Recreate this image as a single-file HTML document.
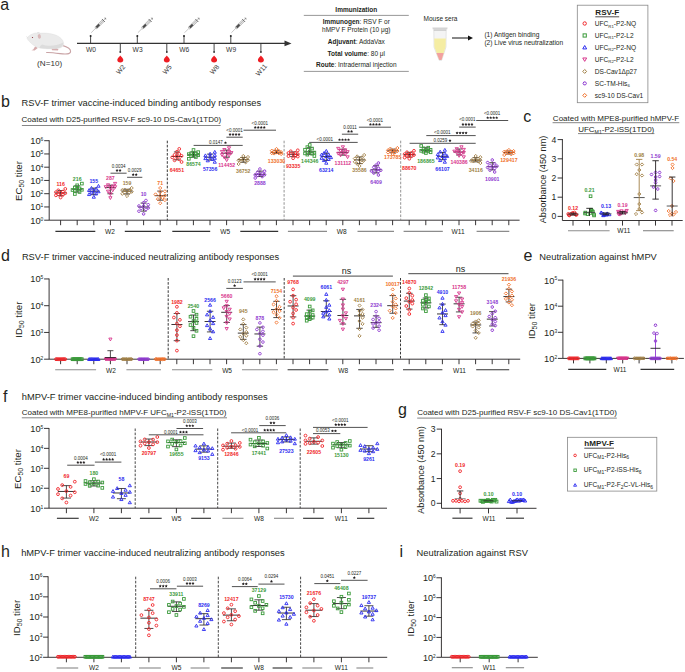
<!DOCTYPE html>
<html><head><meta charset="utf-8"><style>
html,body{margin:0;padding:0;background:#fff;}
svg{display:block;font-family:"Liberation Sans", sans-serif;}
</style></head><body>
<svg width="685" height="672" viewBox="0 0 685 672">
<rect width="685" height="672" fill="#fff"/>
<text x="0.3" y="9.5" font-size="16" fill="#231f20">a</text>
<g>
<path d="M62.3,45.4 C66.5,46.6 70.8,48.8 70.6,51.6 C70.3,54.2 65.5,54.4 60,53.6 C55,52.9 50,52.3 46.6,52.5" fill="none" stroke="#c9a3a5" stroke-width="1.1" stroke-linecap="round"/>
<path d="M35.2,46.2 L33.2,49.4 L31.4,50.2 L34.6,50.6 L37.8,48 Z" fill="#d6adae"/>
<path d="M51.5,48 L52,50.2 L57.8,50.6 L58.5,49.6 L56,47.6 Z" fill="#d6adae"/>
<path d="M27,38.3 C28.2,36.2 30,34.8 32.2,34 C34,33.1 36,32.6 38,33.3 C43,32.8 50,33 55.5,35 C60.5,36.8 64,40.5 63.6,44.4 C63.2,47 60,48.4 56,48.6 C50,49.1 44,48.8 39.5,48 C35.5,47 32,44.5 29.6,41.7 C28.5,40.6 27.5,39.6 27,38.3 Z" fill="#ebebeb" stroke="#d8d8d8" stroke-width="0.35"/>
<path d="M42,44.5 C48,46.6 56,46.2 63.2,42.6 C63.8,46 60.5,48.4 56,48.6 C50,49.1 44,48.8 39.5,48 C39.8,46.4 40.5,45.3 42,44.5 Z" fill="#dcdcdc"/>
<path d="M36.6,33.2 C37,31.8 38.6,31.6 39.6,32.4 L40.8,34.2 Z" fill="#e4e4e4"/>
<ellipse cx="39.3" cy="36.4" rx="1.55" ry="2.3" fill="#d9b9ba" transform="rotate(-12 39.3 36.4)"/>
<circle cx="32.5" cy="37.5" r="0.6" fill="#8b2a35"/>
<line x1="26" y1="36.4" x2="28.2" y2="37.8" stroke="#c8c8c8" stroke-width="0.3"/>
</g>
<text x="49.6" y="65.9" font-size="8.1" text-anchor="middle" fill="#333">(N=10)</text>
<line x1="77" y1="43.4" x2="286" y2="43.4" stroke="#333" stroke-width="1.4"/>
<polygon points="284.5,40.6 291.5,43.4 284.5,46.2" fill="#333"/>
<line x1="90.6" y1="43.4" x2="90.6" y2="36.2" stroke="#333" stroke-width="0.9"/>
<circle cx="90.6" cy="35.9" r="1.0" fill="#222"/>
<text x="90.9" y="52.2" font-size="6.7" text-anchor="middle" fill="#333">W0</text>
<g transform="translate(91.19999999999999,32.7) rotate(-45)">
<line x1="0" y1="0" x2="6" y2="0" stroke="#8a8a8a" stroke-width="0.45"/>
<path d="M6,-0.6 L7.5,-1.25 L17.2,-1.25 L17.2,1.25 L7.5,1.25 L6,0.6 Z" fill="#ededed" stroke="#6a6a6a" stroke-width="0.4"/>
<rect x="7.3" y="-1.05" width="4.2" height="2.1" fill="#4a4a4a"/>
<line x1="11.5" y1="0" x2="20" y2="0" stroke="#9a9a9a" stroke-width="0.6"/>
<line x1="17.3" y1="-2.1" x2="17.3" y2="2.1" stroke="#555" stroke-width="0.7"/>
<path d="M19.6,-1.6 L21,0 L19.6,1.6 Z" fill="#888"/>
</g>
<line x1="137.3" y1="43.4" x2="137.3" y2="36.2" stroke="#333" stroke-width="0.9"/>
<circle cx="137.3" cy="35.9" r="1.0" fill="#222"/>
<text x="137.6" y="52.2" font-size="6.7" text-anchor="middle" fill="#333">W3</text>
<g transform="translate(137.9,32.7) rotate(-45)">
<line x1="0" y1="0" x2="6" y2="0" stroke="#8a8a8a" stroke-width="0.45"/>
<path d="M6,-0.6 L7.5,-1.25 L17.2,-1.25 L17.2,1.25 L7.5,1.25 L6,0.6 Z" fill="#ededed" stroke="#6a6a6a" stroke-width="0.4"/>
<rect x="7.3" y="-1.05" width="4.2" height="2.1" fill="#4a4a4a"/>
<line x1="11.5" y1="0" x2="20" y2="0" stroke="#9a9a9a" stroke-width="0.6"/>
<line x1="17.3" y1="-2.1" x2="17.3" y2="2.1" stroke="#555" stroke-width="0.7"/>
<path d="M19.6,-1.6 L21,0 L19.6,1.6 Z" fill="#888"/>
</g>
<line x1="184" y1="43.4" x2="184" y2="36.2" stroke="#333" stroke-width="0.9"/>
<circle cx="184.0" cy="35.9" r="1.0" fill="#222"/>
<text x="184.3" y="52.2" font-size="6.7" text-anchor="middle" fill="#333">W6</text>
<g transform="translate(184.6,32.7) rotate(-45)">
<line x1="0" y1="0" x2="6" y2="0" stroke="#8a8a8a" stroke-width="0.45"/>
<path d="M6,-0.6 L7.5,-1.25 L17.2,-1.25 L17.2,1.25 L7.5,1.25 L6,0.6 Z" fill="#ededed" stroke="#6a6a6a" stroke-width="0.4"/>
<rect x="7.3" y="-1.05" width="4.2" height="2.1" fill="#4a4a4a"/>
<line x1="11.5" y1="0" x2="20" y2="0" stroke="#9a9a9a" stroke-width="0.6"/>
<line x1="17.3" y1="-2.1" x2="17.3" y2="2.1" stroke="#555" stroke-width="0.7"/>
<path d="M19.6,-1.6 L21,0 L19.6,1.6 Z" fill="#888"/>
</g>
<line x1="230.8" y1="43.4" x2="230.8" y2="36.2" stroke="#333" stroke-width="0.9"/>
<circle cx="230.8" cy="35.9" r="1.0" fill="#222"/>
<text x="231.1" y="52.2" font-size="6.7" text-anchor="middle" fill="#333">W9</text>
<g transform="translate(231.4,32.7) rotate(-45)">
<line x1="0" y1="0" x2="6" y2="0" stroke="#8a8a8a" stroke-width="0.45"/>
<path d="M6,-0.6 L7.5,-1.25 L17.2,-1.25 L17.2,1.25 L7.5,1.25 L6,0.6 Z" fill="#ededed" stroke="#6a6a6a" stroke-width="0.4"/>
<rect x="7.3" y="-1.05" width="4.2" height="2.1" fill="#4a4a4a"/>
<line x1="11.5" y1="0" x2="20" y2="0" stroke="#9a9a9a" stroke-width="0.6"/>
<line x1="17.3" y1="-2.1" x2="17.3" y2="2.1" stroke="#555" stroke-width="0.7"/>
<path d="M19.6,-1.6 L21,0 L19.6,1.6 Z" fill="#888"/>
</g>
<line x1="120.3" y1="43.4" x2="120.3" y2="51.6" stroke="#333" stroke-width="0.9"/>
<rect x="119.5" y="51.2" width="1.6" height="1.6" fill="#222"/>
<path d="M120.3,55.4 C121.1,56.8 123.3,58 123.3,59.8 A3,2.7 0 0 1 117.3,59.8 C117.3,58 119.5,56.8 120.3,55.4 Z" fill="#ee1d23"/>
<text x="0" y="0" font-size="6.7" text-anchor="middle" fill="#333" transform="translate(120.6,69.3) rotate(-50)" dominant-baseline="central">W2</text>
<line x1="166.8" y1="43.4" x2="166.8" y2="51.6" stroke="#333" stroke-width="0.9"/>
<rect x="166.0" y="51.2" width="1.6" height="1.6" fill="#222"/>
<path d="M166.8,55.4 C167.60000000000002,56.8 169.8,58 169.8,59.8 A3,2.7 0 0 1 163.8,59.8 C163.8,58 166.0,56.8 166.8,55.4 Z" fill="#ee1d23"/>
<text x="0" y="0" font-size="6.7" text-anchor="middle" fill="#333" transform="translate(167.10000000000002,69.3) rotate(-50)" dominant-baseline="central">W5</text>
<line x1="214.1" y1="43.4" x2="214.1" y2="51.6" stroke="#333" stroke-width="0.9"/>
<rect x="213.29999999999998" y="51.2" width="1.6" height="1.6" fill="#222"/>
<path d="M214.1,55.4 C214.9,56.8 217.1,58 217.1,59.8 A3,2.7 0 0 1 211.1,59.8 C211.1,58 213.29999999999998,56.8 214.1,55.4 Z" fill="#ee1d23"/>
<text x="0" y="0" font-size="6.7" text-anchor="middle" fill="#333" transform="translate(214.4,69.3) rotate(-50)" dominant-baseline="central">W8</text>
<line x1="260.9" y1="43.4" x2="260.9" y2="51.6" stroke="#333" stroke-width="0.9"/>
<rect x="260.09999999999997" y="51.2" width="1.6" height="1.6" fill="#222"/>
<path d="M260.9,55.4 C261.7,56.8 263.9,58 263.9,59.8 A3,2.7 0 0 1 257.9,59.8 C257.9,58 260.09999999999997,56.8 260.9,55.4 Z" fill="#ee1d23"/>
<text x="0" y="0" font-size="6.7" text-anchor="middle" fill="#333" transform="translate(261.2,69.8) rotate(-50)" dominant-baseline="central">W11</text>
<line x1="303.8" y1="15.4" x2="408.8" y2="15.4" stroke="#8c8c8c" stroke-width="0.9"/>
<line x1="303.8" y1="71.4" x2="408.8" y2="71.4" stroke="#8c8c8c" stroke-width="0.9"/>
<text x="356.3" y="12.4" font-size="6.5" text-anchor="middle" font-weight="bold" fill="#231f20">Immunization</text>
<text x="356.3" y="24.2" font-size="6.5" text-anchor="middle" fill="#231f20"><tspan font-weight="bold">Immunogen</tspan>: RSV F or</text>
<text x="356.3" y="32.4" font-size="6.5" text-anchor="middle" fill="#231f20">hMPV F Protein (10 μg)</text>
<text x="356.3" y="43.8" font-size="6.5" text-anchor="middle" fill="#231f20"><tspan font-weight="bold">Adjuvant</tspan>: AddaVax</text>
<text x="356.3" y="55.6" font-size="6.5" text-anchor="middle" fill="#231f20"><tspan font-weight="bold">Total volume</tspan>: 80 μl</text>
<text x="356.3" y="67.4" font-size="6.5" text-anchor="middle" fill="#231f20"><tspan font-weight="bold">Route</tspan>: Intradermal injection</text>
<text x="440.5" y="20.5" font-size="6.5" text-anchor="middle" fill="#231f20">Mouse sera</text>
<g>
<path d="M433.8,30 L446.2,30 L446,47 L441.7,60.3 L439.1,60.3 L434,47 Z" fill="#f4f4f4" stroke="#cfcfcf" stroke-width="0.5"/>
<path d="M434.2,38.4 L445.8,38.4 L445.6,47 L441.5,59.8 L439.3,59.8 L434.4,47 Z" fill="#f5eda3"/>
<path d="M436.5,53 L443.7,53 L441.5,59.9 L439.3,59.9 Z" fill="#f2a1a0"/>
<path d="M432.4,27.4 L447.6,27.4 L447.2,29.6 L432.8,29.6 Z" fill="#d4d4d4"/>
<rect x="433.8" y="29.6" width="12.4" height="1.0" fill="#c2c2c2"/>
</g>
<line x1="452" y1="38" x2="469" y2="38" stroke="#111" stroke-width="1.0"/>
<polygon points="468,35.6 473,38 468,40.4" fill="#111"/>
<text x="484.4" y="37.1" font-size="6.6" fill="#231f20">(1) Antigen binding</text>
<text x="484.4" y="45.2" font-size="6.6" fill="#231f20">(2) Live virus neutralization</text>
<rect x="577.3" y="5.2" width="70.6" height="97.5" fill="none" stroke="#888" stroke-width="0.8"/>
<text x="595.3" y="15" font-size="8.1" font-weight="bold" fill="#231f20">RSV-F</text>
<line x1="595.3" y1="16.8" x2="619.2" y2="16.8" stroke="#231f20" stroke-width="0.8"/>
<circle cx="584.7" cy="23.5" r="1.7" fill="none" stroke="#f0262a" stroke-width="1.0"/>
<text x="594.8" y="25.7" font-size="6.6" fill="#231f20">UFC<tspan font-size="4.3" dy="1.8">R1</tspan><tspan dy="-1.8">-P2-NQ</tspan></text>
<rect x="583.09" y="33.86" width="3.23" height="3.23" fill="none" stroke="#3a9a3a" stroke-width="1.0"/>
<text x="594.8" y="37.68" font-size="6.6" fill="#231f20">UFC<tspan font-size="4.3" dy="1.8">R1</tspan><tspan dy="-1.8">-P2-L2</tspan></text>
<polygon points="584.7,45.5 586.66,48.93 582.75,48.93" fill="none" stroke="#2b2bf0" stroke-width="1.0"/>
<text x="594.8" y="49.66" font-size="6.6" fill="#231f20">UFC<tspan font-size="4.3" dy="1.8">R2</tspan><tspan dy="-1.8">-P2-NQ</tspan></text>
<polygon points="584.7,61.39 586.66,57.97 582.75,57.97" fill="none" stroke="#d8358c" stroke-width="1.0"/>
<text x="594.8" y="61.64" font-size="6.6" fill="#231f20">UFC<tspan font-size="4.3" dy="1.8">R2</tspan><tspan dy="-1.8">-P2-L2</tspan></text>
<polygon points="584.7,69.47 586.66,71.42 584.7,73.38 582.75,71.42" fill="none" stroke="#a07f45" stroke-width="1.0"/>
<text x="594.8" y="73.62" font-size="6.6" fill="#231f20">DS-Cav1Δp27</text>
<polygon points="586.4,83.4 585.55,84.87 583.85,84.87 583,83.4 583.85,81.93 585.55,81.93" fill="none" stroke="#8e3ad0" stroke-width="1.0"/>
<text x="594.8" y="85.6" font-size="6.6" fill="#231f20">SC-TM-His<tspan font-size="4.3" dy="1.8">6</tspan></text>
<polygon points="584.7,93.42 586.66,95.38 584.7,97.33 582.75,95.38" fill="none" stroke="#f0702a" stroke-width="1.0"/>
<text x="594.8" y="97.58" font-size="6.6" fill="#231f20">sc9-10 DS-Cav1</text>
<text x="0.9" y="106.7" font-size="16" fill="#231f20">b</text>
<text x="21.5" y="105.6" font-size="9.32" fill="#231f20">RSV-F trimer vaccine-induced binding antibody responses</text>
<text x="21.5" y="122.4" font-size="8.0" fill="#231f20">Coated with D25-purified RSV-F sc9-10 DS-Cav1(1TD0)</text>
<line x1="21.9" y1="125.5" x2="220.6" y2="125.5" stroke="#666" stroke-width="0.8"/>
<line x1="49.2" y1="140.3" x2="49.2" y2="220.2" stroke="#231f20" stroke-width="0.9"/>
<line x1="49.2" y1="220.2" x2="519.6" y2="220.2" stroke="#231f20" stroke-width="0.9"/>
<line x1="44.2" y1="220.2" x2="49.2" y2="220.2" stroke="#231f20" stroke-width="0.9"/>
<line x1="44.2" y1="206.95" x2="49.2" y2="206.95" stroke="#231f20" stroke-width="0.9"/>
<line x1="44.2" y1="193.7" x2="49.2" y2="193.7" stroke="#231f20" stroke-width="0.9"/>
<line x1="44.2" y1="180.45" x2="49.2" y2="180.45" stroke="#231f20" stroke-width="0.9"/>
<line x1="44.2" y1="167.2" x2="49.2" y2="167.2" stroke="#231f20" stroke-width="0.9"/>
<line x1="44.2" y1="153.95" x2="49.2" y2="153.95" stroke="#231f20" stroke-width="0.9"/>
<line x1="44.2" y1="140.7" x2="49.2" y2="140.7" stroke="#231f20" stroke-width="0.9"/>
<line x1="60.6" y1="220.2" x2="60.6" y2="225.2" stroke="#231f20" stroke-width="0.9"/>
<line x1="77.2" y1="220.2" x2="77.2" y2="225.2" stroke="#231f20" stroke-width="0.9"/>
<line x1="93.8" y1="220.2" x2="93.8" y2="225.2" stroke="#231f20" stroke-width="0.9"/>
<line x1="110.4" y1="220.2" x2="110.4" y2="225.2" stroke="#231f20" stroke-width="0.9"/>
<line x1="127" y1="220.2" x2="127" y2="225.2" stroke="#231f20" stroke-width="0.9"/>
<line x1="143.6" y1="220.2" x2="143.6" y2="225.2" stroke="#231f20" stroke-width="0.9"/>
<line x1="160.2" y1="220.2" x2="160.2" y2="225.2" stroke="#231f20" stroke-width="0.9"/>
<line x1="176.8" y1="220.2" x2="176.8" y2="225.2" stroke="#231f20" stroke-width="0.9"/>
<line x1="193.4" y1="220.2" x2="193.4" y2="225.2" stroke="#231f20" stroke-width="0.9"/>
<line x1="210" y1="220.2" x2="210" y2="225.2" stroke="#231f20" stroke-width="0.9"/>
<line x1="226.6" y1="220.2" x2="226.6" y2="225.2" stroke="#231f20" stroke-width="0.9"/>
<line x1="243.2" y1="220.2" x2="243.2" y2="225.2" stroke="#231f20" stroke-width="0.9"/>
<line x1="259.8" y1="220.2" x2="259.8" y2="225.2" stroke="#231f20" stroke-width="0.9"/>
<line x1="276.4" y1="220.2" x2="276.4" y2="225.2" stroke="#231f20" stroke-width="0.9"/>
<line x1="293" y1="220.2" x2="293" y2="225.2" stroke="#231f20" stroke-width="0.9"/>
<line x1="309.6" y1="220.2" x2="309.6" y2="225.2" stroke="#231f20" stroke-width="0.9"/>
<line x1="326.2" y1="220.2" x2="326.2" y2="225.2" stroke="#231f20" stroke-width="0.9"/>
<line x1="342.8" y1="220.2" x2="342.8" y2="225.2" stroke="#231f20" stroke-width="0.9"/>
<line x1="359.4" y1="220.2" x2="359.4" y2="225.2" stroke="#231f20" stroke-width="0.9"/>
<line x1="376" y1="220.2" x2="376" y2="225.2" stroke="#231f20" stroke-width="0.9"/>
<line x1="392.6" y1="220.2" x2="392.6" y2="225.2" stroke="#231f20" stroke-width="0.9"/>
<line x1="409.2" y1="220.2" x2="409.2" y2="225.2" stroke="#231f20" stroke-width="0.9"/>
<line x1="425.8" y1="220.2" x2="425.8" y2="225.2" stroke="#231f20" stroke-width="0.9"/>
<line x1="442.4" y1="220.2" x2="442.4" y2="225.2" stroke="#231f20" stroke-width="0.9"/>
<line x1="459" y1="220.2" x2="459" y2="225.2" stroke="#231f20" stroke-width="0.9"/>
<line x1="475.6" y1="220.2" x2="475.6" y2="225.2" stroke="#231f20" stroke-width="0.9"/>
<line x1="492.2" y1="220.2" x2="492.2" y2="225.2" stroke="#231f20" stroke-width="0.9"/>
<line x1="508.8" y1="220.2" x2="508.8" y2="225.2" stroke="#231f20" stroke-width="0.9"/>
<text x="43.3" y="223.6" font-size="9.3" text-anchor="end" fill="#231f20">10<tspan dy="-3.07" font-size="4.93">0</tspan></text>
<text x="43.3" y="210.35" font-size="9.3" text-anchor="end" fill="#231f20">10<tspan dy="-3.07" font-size="4.93">1</tspan></text>
<text x="43.3" y="197.1" font-size="9.3" text-anchor="end" fill="#231f20">10<tspan dy="-3.07" font-size="4.93">2</tspan></text>
<text x="43.3" y="183.85" font-size="9.3" text-anchor="end" fill="#231f20">10<tspan dy="-3.07" font-size="4.93">3</tspan></text>
<text x="43.3" y="170.6" font-size="9.3" text-anchor="end" fill="#231f20">10<tspan dy="-3.07" font-size="4.93">4</tspan></text>
<text x="43.3" y="157.35" font-size="9.3" text-anchor="end" fill="#231f20">10<tspan dy="-3.07" font-size="4.93">5</tspan></text>
<text x="43.3" y="144.1" font-size="9.3" text-anchor="end" fill="#231f20">10<tspan dy="-3.07" font-size="4.93">6</tspan></text>
<text x="0" y="0" font-size="9.65" text-anchor="middle" fill="#231f20" transform="translate(21.6,181) rotate(-90)">EC<tspan font-size="6.95" dy="1.93">50</tspan><tspan dy="-1.93"> titer</tspan></text>
<line x1="167.3" y1="140.7" x2="167.3" y2="220.2" stroke="#222" stroke-width="0.9" stroke-dasharray="2.6,1.5"/>
<line x1="284.1" y1="140.7" x2="284.1" y2="220.2" stroke="#888" stroke-width="0.9" stroke-dasharray="2.6,1.5"/>
<line x1="400.7" y1="140.7" x2="400.7" y2="220.2" stroke="#888" stroke-width="0.9" stroke-dasharray="2.6,1.5"/>
<line x1="55.4" y1="231.4" x2="95.3" y2="231.4" stroke="#333" stroke-width="1.15"/>
<line x1="124.8" y1="231.4" x2="161" y2="231.4" stroke="#333" stroke-width="1.15"/>
<text x="109.9" y="233.8" font-size="6.6" text-anchor="middle" fill="#231f20">W2</text>
<line x1="172.3" y1="231.4" x2="210.2" y2="231.4" stroke="#333" stroke-width="1.15"/>
<line x1="240.3" y1="231.4" x2="278.2" y2="231.4" stroke="#333" stroke-width="1.15"/>
<text x="225.3" y="233.8" font-size="6.6" text-anchor="middle" fill="#231f20">W5</text>
<line x1="287.9" y1="231.4" x2="327" y2="231.4" stroke="#8c8c8c" stroke-width="1.15"/>
<line x1="357.5" y1="231.4" x2="394" y2="231.4" stroke="#8c8c8c" stroke-width="1.15"/>
<text x="341.7" y="233.8" font-size="6.6" text-anchor="middle" fill="#231f20">W8</text>
<line x1="403.6" y1="231.4" x2="442.8" y2="231.4" stroke="#8c8c8c" stroke-width="1.15"/>
<line x1="476.6" y1="231.4" x2="509.3" y2="231.4" stroke="#8c8c8c" stroke-width="1.15"/>
<text x="458.1" y="233.8" font-size="6.6" text-anchor="middle" fill="#231f20">W11</text>
<line x1="55.1" y1="192.9" x2="66.1" y2="192.9" stroke="#231f20" stroke-width="0.9"/>
<line x1="60.6" y1="190.5" x2="60.6" y2="195.66" stroke="#231f20" stroke-width="0.8"/>
<line x1="57.6" y1="190.5" x2="63.6" y2="190.5" stroke="#231f20" stroke-width="0.8"/>
<line x1="57.6" y1="195.66" x2="63.6" y2="195.66" stroke="#231f20" stroke-width="0.8"/>
<circle cx="60.6" cy="192.86" r="1.4" fill="none" stroke="#f0262a" stroke-width="0.9"/>
<circle cx="65.28" cy="193.18" r="1.4" fill="none" stroke="#f0262a" stroke-width="0.9"/>
<circle cx="55.92" cy="192.2" r="1.4" fill="none" stroke="#f0262a" stroke-width="0.9"/>
<circle cx="62.94" cy="191.59" r="1.4" fill="none" stroke="#f0262a" stroke-width="0.9"/>
<circle cx="58.26" cy="194.35" r="1.4" fill="none" stroke="#f0262a" stroke-width="0.9"/>
<circle cx="62.94" cy="194.82" r="1.4" fill="none" stroke="#f0262a" stroke-width="0.9"/>
<circle cx="55.92" cy="195.31" r="1.4" fill="none" stroke="#f0262a" stroke-width="0.9"/>
<circle cx="58.26" cy="190.31" r="1.4" fill="none" stroke="#f0262a" stroke-width="0.9"/>
<circle cx="65.28" cy="188.9" r="1.4" fill="none" stroke="#f0262a" stroke-width="0.9"/>
<circle cx="60.6" cy="197.5" r="1.4" fill="none" stroke="#f0262a" stroke-width="0.9"/>
<text x="60.6" y="186.3" font-size="5.2" text-anchor="middle" font-weight="bold" fill="#f0262a">116</text>
<line x1="71.7" y1="189.2" x2="82.7" y2="189.2" stroke="#231f20" stroke-width="0.9"/>
<line x1="77.2" y1="185.84" x2="77.2" y2="192.08" stroke="#231f20" stroke-width="0.8"/>
<line x1="74.2" y1="185.84" x2="80.2" y2="185.84" stroke="#231f20" stroke-width="0.8"/>
<line x1="74.2" y1="192.08" x2="80.2" y2="192.08" stroke="#231f20" stroke-width="0.8"/>
<rect x="75.87" y="187.39" width="2.66" height="2.66" fill="none" stroke="#3a9a3a" stroke-width="0.9"/>
<rect x="80.55" y="188.45" width="2.66" height="2.66" fill="none" stroke="#3a9a3a" stroke-width="0.9"/>
<rect x="71.19" y="188.67" width="2.66" height="2.66" fill="none" stroke="#3a9a3a" stroke-width="0.9"/>
<rect x="78.21" y="187.05" width="2.66" height="2.66" fill="none" stroke="#3a9a3a" stroke-width="0.9"/>
<rect x="73.53" y="189.5" width="2.66" height="2.66" fill="none" stroke="#3a9a3a" stroke-width="0.9"/>
<rect x="73.53" y="186.14" width="2.66" height="2.66" fill="none" stroke="#3a9a3a" stroke-width="0.9"/>
<rect x="78.21" y="190.66" width="2.66" height="2.66" fill="none" stroke="#3a9a3a" stroke-width="0.9"/>
<rect x="75.87" y="183.95" width="2.66" height="2.66" fill="none" stroke="#3a9a3a" stroke-width="0.9"/>
<rect x="73.53" y="192.67" width="2.66" height="2.66" fill="none" stroke="#3a9a3a" stroke-width="0.9"/>
<rect x="80.55" y="182.27" width="2.66" height="2.66" fill="none" stroke="#3a9a3a" stroke-width="0.9"/>
<text x="77.2" y="181.2" font-size="5.2" text-anchor="middle" font-weight="bold" fill="#3a9a3a">216</text>
<line x1="88.3" y1="191.2" x2="99.3" y2="191.2" stroke="#231f20" stroke-width="0.9"/>
<line x1="93.8" y1="188.08" x2="93.8" y2="194.68" stroke="#231f20" stroke-width="0.8"/>
<line x1="90.8" y1="188.08" x2="96.8" y2="188.08" stroke="#231f20" stroke-width="0.8"/>
<line x1="90.8" y1="194.68" x2="96.8" y2="194.68" stroke="#231f20" stroke-width="0.8"/>
<polygon points="93.8,189.31 95.41,192.12 92.19,192.12" fill="none" stroke="#2b2bf0" stroke-width="0.9"/>
<polygon points="98.48,189.91 100.09,192.73 96.87,192.73" fill="none" stroke="#2b2bf0" stroke-width="0.9"/>
<polygon points="89.12,188.61 90.73,191.43 87.51,191.43" fill="none" stroke="#2b2bf0" stroke-width="0.9"/>
<polygon points="91.46,191.11 93.07,193.93 89.85,193.93" fill="none" stroke="#2b2bf0" stroke-width="0.9"/>
<polygon points="96.14,192.04 97.75,194.86 94.53,194.86" fill="none" stroke="#2b2bf0" stroke-width="0.9"/>
<polygon points="96.14,187.07 97.75,189.89 94.53,189.89" fill="none" stroke="#2b2bf0" stroke-width="0.9"/>
<polygon points="89.12,192.72 90.73,195.54 87.51,195.54" fill="none" stroke="#2b2bf0" stroke-width="0.9"/>
<polygon points="91.46,186.43 93.07,189.25 89.85,189.25" fill="none" stroke="#2b2bf0" stroke-width="0.9"/>
<polygon points="98.48,184.39 100.09,187.21 96.87,187.21" fill="none" stroke="#2b2bf0" stroke-width="0.9"/>
<polygon points="93.8,195.39 95.41,198.21 92.19,198.21" fill="none" stroke="#2b2bf0" stroke-width="0.9"/>
<text x="93.8" y="182.7" font-size="5.2" text-anchor="middle" font-weight="bold" fill="#2b2bf0">155</text>
<line x1="104.9" y1="187.6" x2="115.9" y2="187.6" stroke="#231f20" stroke-width="0.9"/>
<line x1="110.4" y1="185.2" x2="110.4" y2="193.78" stroke="#231f20" stroke-width="0.8"/>
<line x1="107.4" y1="185.2" x2="113.4" y2="185.2" stroke="#231f20" stroke-width="0.8"/>
<line x1="107.4" y1="193.78" x2="113.4" y2="193.78" stroke="#231f20" stroke-width="0.8"/>
<polygon points="110.4,189.52 112.01,186.7 108.79,186.7" fill="none" stroke="#d8358c" stroke-width="0.9"/>
<polygon points="115.08,188.55 116.69,185.73 113.47,185.73" fill="none" stroke="#d8358c" stroke-width="0.9"/>
<polygon points="105.72,188.54 107.33,185.72 104.11,185.72" fill="none" stroke="#d8358c" stroke-width="0.9"/>
<polygon points="112.74,187.84 114.35,185.02 111.13,185.02" fill="none" stroke="#d8358c" stroke-width="0.9"/>
<polygon points="112.74,191.78 114.35,188.97 111.13,188.97" fill="none" stroke="#d8358c" stroke-width="0.9"/>
<polygon points="108.06,186.62 109.67,183.8 106.45,183.8" fill="none" stroke="#d8358c" stroke-width="0.9"/>
<polygon points="108.06,192.96 109.67,190.15 106.45,190.15" fill="none" stroke="#d8358c" stroke-width="0.9"/>
<polygon points="115.08,185.21 116.69,182.39 113.47,182.39" fill="none" stroke="#d8358c" stroke-width="0.9"/>
<polygon points="110.4,195.6 112.01,192.78 108.79,192.78" fill="none" stroke="#d8358c" stroke-width="0.9"/>
<polygon points="110.4,199.51 112.01,196.69 108.79,196.69" fill="none" stroke="#d8358c" stroke-width="0.9"/>
<text x="110.4" y="180" font-size="5.2" text-anchor="middle" font-weight="bold" fill="#d8358c">287</text>
<line x1="121.5" y1="191.1" x2="132.5" y2="191.1" stroke="#231f20" stroke-width="0.9"/>
<line x1="127" y1="189.24" x2="127" y2="194.04" stroke="#231f20" stroke-width="0.8"/>
<line x1="124" y1="189.24" x2="130" y2="189.24" stroke="#231f20" stroke-width="0.8"/>
<line x1="124" y1="194.04" x2="130" y2="194.04" stroke="#231f20" stroke-width="0.8"/>
<polygon points="127,189.04 128.61,190.65 127,192.26 125.39,190.65" fill="none" stroke="#a07f45" stroke-width="0.9"/>
<polygon points="131.68,190.13 133.29,191.74 131.68,193.35 130.07,191.74" fill="none" stroke="#a07f45" stroke-width="0.9"/>
<polygon points="122.32,188.5 123.93,190.11 122.32,191.72 120.71,190.11" fill="none" stroke="#a07f45" stroke-width="0.9"/>
<polygon points="129.34,188.43 130.95,190.04 129.34,191.65 127.73,190.04" fill="none" stroke="#a07f45" stroke-width="0.9"/>
<polygon points="124.66,190.91 126.27,192.52 124.66,194.13 123.05,192.52" fill="none" stroke="#a07f45" stroke-width="0.9"/>
<polygon points="124.66,187.97 126.27,189.58 124.66,191.19 123.05,189.58" fill="none" stroke="#a07f45" stroke-width="0.9"/>
<polygon points="129.34,191.02 130.95,192.63 129.34,194.24 127.73,192.63" fill="none" stroke="#a07f45" stroke-width="0.9"/>
<polygon points="122.32,192.2 123.93,193.81 122.32,195.42 120.71,193.81" fill="none" stroke="#a07f45" stroke-width="0.9"/>
<polygon points="131.68,186.39 133.29,188 131.68,189.61 130.07,188" fill="none" stroke="#a07f45" stroke-width="0.9"/>
<polygon points="127,194.39 128.61,196 127,197.61 125.39,196" fill="none" stroke="#a07f45" stroke-width="0.9"/>
<text x="127" y="184.5" font-size="5.2" text-anchor="middle" font-weight="bold" fill="#a07f45">159</text>
<line x1="138.1" y1="207" x2="149.1" y2="207" stroke="#231f20" stroke-width="0.9"/>
<line x1="143.6" y1="203.1" x2="143.6" y2="211.14" stroke="#231f20" stroke-width="0.8"/>
<line x1="140.6" y1="203.1" x2="146.6" y2="203.1" stroke="#231f20" stroke-width="0.8"/>
<line x1="140.6" y1="211.14" x2="146.6" y2="211.14" stroke="#231f20" stroke-width="0.8"/>
<polygon points="145,206.26 144.3,207.47 142.9,207.47 142.2,206.26 142.9,205.05 144.3,205.05" fill="none" stroke="#8e3ad0" stroke-width="0.9"/>
<polygon points="149.68,207.87 148.98,209.08 147.58,209.08 146.88,207.87 147.58,206.66 148.98,206.66" fill="none" stroke="#8e3ad0" stroke-width="0.9"/>
<polygon points="140.32,206 139.62,207.21 138.22,207.21 137.52,206 138.22,204.78 139.62,204.78" fill="none" stroke="#8e3ad0" stroke-width="0.9"/>
<polygon points="142.66,208.44 141.96,209.65 140.56,209.65 139.86,208.44 140.56,207.23 141.96,207.23" fill="none" stroke="#8e3ad0" stroke-width="0.9"/>
<polygon points="149.68,204.69 148.98,205.91 147.58,205.91 146.88,204.69 147.58,203.48 148.98,203.48" fill="none" stroke="#8e3ad0" stroke-width="0.9"/>
<polygon points="147.34,209.42 146.64,210.63 145.24,210.63 144.54,209.42 145.24,208.2 146.64,208.2" fill="none" stroke="#8e3ad0" stroke-width="0.9"/>
<polygon points="140.32,211.19 139.62,212.41 138.22,212.41 137.52,211.19 138.22,209.98 139.62,209.98" fill="none" stroke="#8e3ad0" stroke-width="0.9"/>
<polygon points="145,202.7 144.3,203.91 142.9,203.91 142.2,202.7 142.9,201.48 144.3,201.48" fill="none" stroke="#8e3ad0" stroke-width="0.9"/>
<polygon points="147.34,200.5 146.64,201.71 145.24,201.71 144.54,200.5 145.24,199.29 146.64,199.29" fill="none" stroke="#8e3ad0" stroke-width="0.9"/>
<polygon points="145,213.9 144.3,215.11 142.9,215.11 142.2,213.9 142.9,212.69 144.3,212.69" fill="none" stroke="#8e3ad0" stroke-width="0.9"/>
<text x="143.6" y="196.4" font-size="5.2" text-anchor="middle" font-weight="bold" fill="#8e3ad0">10</text>
<line x1="154.7" y1="195.7" x2="165.7" y2="195.7" stroke="#231f20" stroke-width="0.9"/>
<line x1="160.2" y1="191.08" x2="160.2" y2="200.2" stroke="#231f20" stroke-width="0.8"/>
<line x1="157.2" y1="191.08" x2="163.2" y2="191.08" stroke="#231f20" stroke-width="0.8"/>
<line x1="157.2" y1="200.2" x2="163.2" y2="200.2" stroke="#231f20" stroke-width="0.8"/>
<polygon points="160.2,194.15 161.81,195.76 160.2,197.37 158.59,195.76" fill="none" stroke="#f0702a" stroke-width="0.9"/>
<polygon points="164.88,193.86 166.49,195.47 164.88,197.08 163.27,195.47" fill="none" stroke="#f0702a" stroke-width="0.9"/>
<polygon points="155.52,192.79 157.13,194.4 155.52,196.01 153.91,194.4" fill="none" stroke="#f0702a" stroke-width="0.9"/>
<polygon points="162.54,196.24 164.15,197.85 162.54,199.46 160.93,197.85" fill="none" stroke="#f0702a" stroke-width="0.9"/>
<polygon points="157.86,197.52 159.47,199.13 157.86,200.74 156.25,199.13" fill="none" stroke="#f0702a" stroke-width="0.9"/>
<polygon points="160.2,190.36 161.81,191.97 160.2,193.58 158.59,191.97" fill="none" stroke="#f0702a" stroke-width="0.9"/>
<polygon points="164.88,198.47 166.49,200.08 164.88,201.69 163.27,200.08" fill="none" stroke="#f0702a" stroke-width="0.9"/>
<polygon points="164.88,189.69 166.49,191.3 164.88,192.91 163.27,191.3" fill="none" stroke="#f0702a" stroke-width="0.9"/>
<polygon points="160.2,201.59 161.81,203.2 160.2,204.81 158.59,203.2" fill="none" stroke="#f0702a" stroke-width="0.9"/>
<polygon points="160.2,186.39 161.81,188 160.2,189.61 158.59,188" fill="none" stroke="#f0702a" stroke-width="0.9"/>
<text x="160.2" y="185" font-size="5.2" text-anchor="middle" font-weight="bold" fill="#f0702a">71</text>
<line x1="171.4" y1="156.5" x2="182.4" y2="156.5" stroke="#231f20" stroke-width="0.9"/>
<line x1="176.9" y1="151.94" x2="176.9" y2="159.8" stroke="#231f20" stroke-width="0.8"/>
<line x1="173.9" y1="151.94" x2="179.9" y2="151.94" stroke="#231f20" stroke-width="0.8"/>
<line x1="173.9" y1="159.8" x2="179.9" y2="159.8" stroke="#231f20" stroke-width="0.8"/>
<circle cx="176.9" cy="156.71" r="1.4" fill="none" stroke="#f0262a" stroke-width="0.9"/>
<circle cx="181.58" cy="155.88" r="1.4" fill="none" stroke="#f0262a" stroke-width="0.9"/>
<circle cx="172.22" cy="157.37" r="1.4" fill="none" stroke="#f0262a" stroke-width="0.9"/>
<circle cx="174.56" cy="154.88" r="1.4" fill="none" stroke="#f0262a" stroke-width="0.9"/>
<circle cx="179.24" cy="153.96" r="1.4" fill="none" stroke="#f0262a" stroke-width="0.9"/>
<circle cx="179.24" cy="159.35" r="1.4" fill="none" stroke="#f0262a" stroke-width="0.9"/>
<circle cx="174.56" cy="160.29" r="1.4" fill="none" stroke="#f0262a" stroke-width="0.9"/>
<circle cx="176.9" cy="151.78" r="1.4" fill="none" stroke="#f0262a" stroke-width="0.9"/>
<circle cx="181.58" cy="162" r="1.4" fill="none" stroke="#f0262a" stroke-width="0.9"/>
<circle cx="179.24" cy="148.9" r="1.4" fill="none" stroke="#f0262a" stroke-width="0.9"/>
<text x="176.9" y="171.7" font-size="5.2" text-anchor="middle" font-weight="bold" fill="#f0262a">64651</text>
<line x1="188" y1="154.8" x2="199" y2="154.8" stroke="#231f20" stroke-width="0.9"/>
<line x1="193.5" y1="151.92" x2="193.5" y2="157.2" stroke="#231f20" stroke-width="0.8"/>
<line x1="190.5" y1="151.92" x2="196.5" y2="151.92" stroke="#231f20" stroke-width="0.8"/>
<line x1="190.5" y1="157.2" x2="196.5" y2="157.2" stroke="#231f20" stroke-width="0.8"/>
<rect x="192.17" y="153.42" width="2.66" height="2.66" fill="none" stroke="#3a9a3a" stroke-width="0.9"/>
<rect x="196.85" y="153.92" width="2.66" height="2.66" fill="none" stroke="#3a9a3a" stroke-width="0.9"/>
<rect x="187.49" y="152.82" width="2.66" height="2.66" fill="none" stroke="#3a9a3a" stroke-width="0.9"/>
<rect x="194.51" y="152.19" width="2.66" height="2.66" fill="none" stroke="#3a9a3a" stroke-width="0.9"/>
<rect x="189.83" y="154.76" width="2.66" height="2.66" fill="none" stroke="#3a9a3a" stroke-width="0.9"/>
<rect x="189.83" y="151.97" width="2.66" height="2.66" fill="none" stroke="#3a9a3a" stroke-width="0.9"/>
<rect x="194.51" y="155.65" width="2.66" height="2.66" fill="none" stroke="#3a9a3a" stroke-width="0.9"/>
<rect x="196.85" y="150.8" width="2.66" height="2.66" fill="none" stroke="#3a9a3a" stroke-width="0.9"/>
<rect x="187.49" y="157.47" width="2.66" height="2.66" fill="none" stroke="#3a9a3a" stroke-width="0.9"/>
<rect x="192.17" y="148.67" width="2.66" height="2.66" fill="none" stroke="#3a9a3a" stroke-width="0.9"/>
<text x="193.5" y="166.4" font-size="5.2" text-anchor="middle" font-weight="bold" fill="#3a9a3a">86574</text>
<line x1="204.6" y1="157.2" x2="215.6" y2="157.2" stroke="#231f20" stroke-width="0.9"/>
<line x1="210.1" y1="154.08" x2="210.1" y2="160.08" stroke="#231f20" stroke-width="0.8"/>
<line x1="207.1" y1="154.08" x2="213.1" y2="154.08" stroke="#231f20" stroke-width="0.8"/>
<line x1="207.1" y1="160.08" x2="213.1" y2="160.08" stroke="#231f20" stroke-width="0.8"/>
<polygon points="210.1,155.18 211.71,158 208.49,158" fill="none" stroke="#2b2bf0" stroke-width="0.9"/>
<polygon points="214.78,156.52 216.39,159.34 213.17,159.34" fill="none" stroke="#2b2bf0" stroke-width="0.9"/>
<polygon points="205.42,156.81 207.03,159.62 203.81,159.62" fill="none" stroke="#2b2bf0" stroke-width="0.9"/>
<polygon points="205.42,153.88 207.03,156.69 203.81,156.69" fill="none" stroke="#2b2bf0" stroke-width="0.9"/>
<polygon points="212.44,157.57 214.05,160.39 210.83,160.39" fill="none" stroke="#2b2bf0" stroke-width="0.9"/>
<polygon points="214.78,153.52 216.39,156.34 213.17,156.34" fill="none" stroke="#2b2bf0" stroke-width="0.9"/>
<polygon points="210.1,152.24 211.71,155.06 208.49,155.06" fill="none" stroke="#2b2bf0" stroke-width="0.9"/>
<polygon points="207.76,158.98 209.37,161.8 206.15,161.8" fill="none" stroke="#2b2bf0" stroke-width="0.9"/>
<polygon points="214.78,160.39 216.39,163.21 213.17,163.21" fill="none" stroke="#2b2bf0" stroke-width="0.9"/>
<polygon points="214.78,150.39 216.39,153.21 213.17,153.21" fill="none" stroke="#2b2bf0" stroke-width="0.9"/>
<text x="210.1" y="170.8" font-size="5.2" text-anchor="middle" font-weight="bold" fill="#2b2bf0">57356</text>
<line x1="221.2" y1="153.2" x2="232.2" y2="153.2" stroke="#231f20" stroke-width="0.9"/>
<line x1="226.7" y1="150.08" x2="226.7" y2="157.28" stroke="#231f20" stroke-width="0.8"/>
<line x1="223.7" y1="150.08" x2="229.7" y2="150.08" stroke="#231f20" stroke-width="0.8"/>
<line x1="223.7" y1="157.28" x2="229.7" y2="157.28" stroke="#231f20" stroke-width="0.8"/>
<polygon points="226.7,155.08 228.31,152.26 225.09,152.26" fill="none" stroke="#d8358c" stroke-width="0.9"/>
<polygon points="231.38,154.38 232.99,151.56 229.77,151.56" fill="none" stroke="#d8358c" stroke-width="0.9"/>
<polygon points="222.02,153.27 223.63,150.45 220.41,150.45" fill="none" stroke="#d8358c" stroke-width="0.9"/>
<polygon points="222.02,156.48 223.63,153.66 220.41,153.66" fill="none" stroke="#d8358c" stroke-width="0.9"/>
<polygon points="229.04,153.07 230.65,150.25 227.43,150.25" fill="none" stroke="#d8358c" stroke-width="0.9"/>
<polygon points="229.04,157.08 230.65,154.26 227.43,154.26" fill="none" stroke="#d8358c" stroke-width="0.9"/>
<polygon points="224.36,151.38 225.97,148.56 222.75,148.56" fill="none" stroke="#d8358c" stroke-width="0.9"/>
<polygon points="224.36,159.02 225.97,156.2 222.75,156.2" fill="none" stroke="#d8358c" stroke-width="0.9"/>
<polygon points="229.04,149.61 230.65,146.79 227.43,146.79" fill="none" stroke="#d8358c" stroke-width="0.9"/>
<polygon points="226.7,161.61 228.31,158.79 225.09,158.79" fill="none" stroke="#d8358c" stroke-width="0.9"/>
<text x="226.7" y="167.3" font-size="5.2" text-anchor="middle" font-weight="bold" fill="#d8358c">114452</text>
<line x1="237.8" y1="159.7" x2="248.8" y2="159.7" stroke="#231f20" stroke-width="0.9"/>
<line x1="243.3" y1="157.48" x2="243.3" y2="162.28" stroke="#231f20" stroke-width="0.8"/>
<line x1="240.3" y1="157.48" x2="246.3" y2="157.48" stroke="#231f20" stroke-width="0.8"/>
<line x1="240.3" y1="162.28" x2="246.3" y2="162.28" stroke="#231f20" stroke-width="0.8"/>
<polygon points="243.3,157.67 244.91,159.28 243.3,160.89 241.69,159.28" fill="none" stroke="#a07f45" stroke-width="0.9"/>
<polygon points="247.98,158.57 249.59,160.18 247.98,161.79 246.37,160.18" fill="none" stroke="#a07f45" stroke-width="0.9"/>
<polygon points="238.62,158.72 240.23,160.33 238.62,161.94 237.01,160.33" fill="none" stroke="#a07f45" stroke-width="0.9"/>
<polygon points="245.64,157.2 247.25,158.81 245.64,160.42 244.03,158.81" fill="none" stroke="#a07f45" stroke-width="0.9"/>
<polygon points="240.96,157.11 242.57,158.72 240.96,160.33 239.35,158.72" fill="none" stroke="#a07f45" stroke-width="0.9"/>
<polygon points="240.96,159.48 242.57,161.09 240.96,162.7 239.35,161.09" fill="none" stroke="#a07f45" stroke-width="0.9"/>
<polygon points="245.64,160.72 247.25,162.33 245.64,163.94 244.03,162.33" fill="none" stroke="#a07f45" stroke-width="0.9"/>
<polygon points="247.98,155.4 249.59,157.01 247.98,158.62 246.37,157.01" fill="none" stroke="#a07f45" stroke-width="0.9"/>
<polygon points="243.3,154.39 244.91,156 243.3,157.61 241.69,156" fill="none" stroke="#a07f45" stroke-width="0.9"/>
<polygon points="238.62,162.39 240.23,164 238.62,165.61 237.01,164" fill="none" stroke="#a07f45" stroke-width="0.9"/>
<text x="243.3" y="173.4" font-size="5.2" text-anchor="middle" font-weight="bold" fill="#a07f45">36752</text>
<line x1="254.4" y1="174.3" x2="265.4" y2="174.3" stroke="#231f20" stroke-width="0.9"/>
<line x1="259.9" y1="171.12" x2="259.9" y2="176.52" stroke="#231f20" stroke-width="0.8"/>
<line x1="256.9" y1="171.12" x2="262.9" y2="171.12" stroke="#231f20" stroke-width="0.8"/>
<line x1="256.9" y1="176.52" x2="262.9" y2="176.52" stroke="#231f20" stroke-width="0.8"/>
<polygon points="261.3,174.36 260.6,175.58 259.2,175.58 258.5,174.36 259.2,173.15 260.6,173.15" fill="none" stroke="#8e3ad0" stroke-width="0.9"/>
<polygon points="265.98,174.77 265.28,175.99 263.88,175.99 263.18,174.77 263.88,173.56 265.28,173.56" fill="none" stroke="#8e3ad0" stroke-width="0.9"/>
<polygon points="256.62,174.9 255.92,176.11 254.52,176.11 253.82,174.9 254.52,173.68 255.92,173.68" fill="none" stroke="#8e3ad0" stroke-width="0.9"/>
<polygon points="263.64,173.28 262.94,174.49 261.54,174.49 260.84,173.28 261.54,172.07 262.94,172.07" fill="none" stroke="#8e3ad0" stroke-width="0.9"/>
<polygon points="258.96,175.48 258.26,176.69 256.86,176.69 256.16,175.48 256.86,174.26 258.26,174.26" fill="none" stroke="#8e3ad0" stroke-width="0.9"/>
<polygon points="258.96,172.28 258.26,173.49 256.86,173.49 256.16,172.28 256.86,171.07 258.26,171.07" fill="none" stroke="#8e3ad0" stroke-width="0.9"/>
<polygon points="263.64,176.59 262.94,177.8 261.54,177.8 260.84,176.59 261.54,175.38 262.94,175.38" fill="none" stroke="#8e3ad0" stroke-width="0.9"/>
<polygon points="265.98,171.14 265.28,172.35 263.88,172.35 263.18,171.14 263.88,169.93 265.28,169.93" fill="none" stroke="#8e3ad0" stroke-width="0.9"/>
<polygon points="256.62,178 255.92,179.21 254.52,179.21 253.82,178 254.52,176.79 255.92,176.79" fill="none" stroke="#8e3ad0" stroke-width="0.9"/>
<polygon points="261.3,169 260.6,170.21 259.2,170.21 258.5,169 259.2,167.79 260.6,167.79" fill="none" stroke="#8e3ad0" stroke-width="0.9"/>
<text x="259.9" y="185.1" font-size="5.2" text-anchor="middle" font-weight="bold" fill="#8e3ad0">2888</text>
<line x1="271" y1="152.4" x2="282" y2="152.4" stroke="#231f20" stroke-width="0.9"/>
<line x1="276.5" y1="150.36" x2="276.5" y2="153.36" stroke="#231f20" stroke-width="0.8"/>
<line x1="273.5" y1="150.36" x2="279.5" y2="150.36" stroke="#231f20" stroke-width="0.8"/>
<line x1="273.5" y1="153.36" x2="279.5" y2="153.36" stroke="#231f20" stroke-width="0.8"/>
<polygon points="276.5,150.6 278.11,152.21 276.5,153.82 274.89,152.21" fill="none" stroke="#f0702a" stroke-width="0.9"/>
<polygon points="281.18,150.58 282.79,152.19 281.18,153.8 279.57,152.19" fill="none" stroke="#f0702a" stroke-width="0.9"/>
<polygon points="271.82,151.57 273.43,153.18 271.82,154.79 270.21,153.18" fill="none" stroke="#f0702a" stroke-width="0.9"/>
<polygon points="278.84,151.63 280.45,153.24 278.84,154.85 277.23,153.24" fill="none" stroke="#f0702a" stroke-width="0.9"/>
<polygon points="274.16,151.87 275.77,153.48 274.16,155.09 272.55,153.48" fill="none" stroke="#f0702a" stroke-width="0.9"/>
<polygon points="274.16,149.67 275.77,151.28 274.16,152.89 272.55,151.28" fill="none" stroke="#f0702a" stroke-width="0.9"/>
<polygon points="278.84,149.4 280.45,151.01 278.84,152.62 277.23,151.01" fill="none" stroke="#f0702a" stroke-width="0.9"/>
<polygon points="281.18,152.39 282.79,154 281.18,155.61 279.57,154" fill="none" stroke="#f0702a" stroke-width="0.9"/>
<polygon points="271.82,149.08 273.43,150.69 271.82,152.3 270.21,150.69" fill="none" stroke="#f0702a" stroke-width="0.9"/>
<polygon points="276.5,147.39 278.11,149 276.5,150.61 274.89,149" fill="none" stroke="#f0702a" stroke-width="0.9"/>
<text x="276.5" y="163.4" font-size="5.2" text-anchor="middle" font-weight="bold" fill="#f0702a">133030</text>
<line x1="287.6" y1="154.3" x2="298.6" y2="154.3" stroke="#231f20" stroke-width="0.9"/>
<line x1="293.1" y1="151.9" x2="293.1" y2="156.64" stroke="#231f20" stroke-width="0.8"/>
<line x1="290.1" y1="151.9" x2="296.1" y2="151.9" stroke="#231f20" stroke-width="0.8"/>
<line x1="290.1" y1="156.64" x2="296.1" y2="156.64" stroke="#231f20" stroke-width="0.8"/>
<circle cx="293.1" cy="154.19" r="1.4" fill="none" stroke="#f0262a" stroke-width="0.9"/>
<circle cx="297.78" cy="154.13" r="1.4" fill="none" stroke="#f0262a" stroke-width="0.9"/>
<circle cx="288.42" cy="153.04" r="1.4" fill="none" stroke="#f0262a" stroke-width="0.9"/>
<circle cx="295.44" cy="152.86" r="1.4" fill="none" stroke="#f0262a" stroke-width="0.9"/>
<circle cx="295.44" cy="155.8" r="1.4" fill="none" stroke="#f0262a" stroke-width="0.9"/>
<circle cx="288.42" cy="156.1" r="1.4" fill="none" stroke="#f0262a" stroke-width="0.9"/>
<circle cx="297.78" cy="156.53" r="1.4" fill="none" stroke="#f0262a" stroke-width="0.9"/>
<circle cx="290.76" cy="151.28" r="1.4" fill="none" stroke="#f0262a" stroke-width="0.9"/>
<circle cx="293.1" cy="158.2" r="1.4" fill="none" stroke="#f0262a" stroke-width="0.9"/>
<circle cx="297.78" cy="150.3" r="1.4" fill="none" stroke="#f0262a" stroke-width="0.9"/>
<text x="293.1" y="168.1" font-size="5.2" text-anchor="middle" font-weight="bold" fill="#f0262a">93335</text>
<line x1="304.2" y1="151.8" x2="315.2" y2="151.8" stroke="#231f20" stroke-width="0.9"/>
<line x1="309.7" y1="147.72" x2="309.7" y2="154.32" stroke="#231f20" stroke-width="0.8"/>
<line x1="306.7" y1="147.72" x2="312.7" y2="147.72" stroke="#231f20" stroke-width="0.8"/>
<line x1="306.7" y1="154.32" x2="312.7" y2="154.32" stroke="#231f20" stroke-width="0.8"/>
<rect x="308.37" y="150.24" width="2.66" height="2.66" fill="none" stroke="#3a9a3a" stroke-width="0.9"/>
<rect x="313.05" y="151.23" width="2.66" height="2.66" fill="none" stroke="#3a9a3a" stroke-width="0.9"/>
<rect x="303.69" y="152.06" width="2.66" height="2.66" fill="none" stroke="#3a9a3a" stroke-width="0.9"/>
<rect x="310.71" y="152.4" width="2.66" height="2.66" fill="none" stroke="#3a9a3a" stroke-width="0.9"/>
<rect x="303.69" y="148.39" width="2.66" height="2.66" fill="none" stroke="#3a9a3a" stroke-width="0.9"/>
<rect x="306.03" y="153.3" width="2.66" height="2.66" fill="none" stroke="#3a9a3a" stroke-width="0.9"/>
<rect x="310.71" y="147.23" width="2.66" height="2.66" fill="none" stroke="#3a9a3a" stroke-width="0.9"/>
<rect x="313.05" y="154.67" width="2.66" height="2.66" fill="none" stroke="#3a9a3a" stroke-width="0.9"/>
<rect x="306.03" y="145.79" width="2.66" height="2.66" fill="none" stroke="#3a9a3a" stroke-width="0.9"/>
<rect x="308.37" y="143.67" width="2.66" height="2.66" fill="none" stroke="#3a9a3a" stroke-width="0.9"/>
<text x="309.7" y="163.4" font-size="5.2" text-anchor="middle" font-weight="bold" fill="#3a9a3a">144346</text>
<line x1="320.8" y1="156.6" x2="331.8" y2="156.6" stroke="#231f20" stroke-width="0.9"/>
<line x1="326.3" y1="153.24" x2="326.3" y2="160.44" stroke="#231f20" stroke-width="0.8"/>
<line x1="323.3" y1="153.24" x2="329.3" y2="153.24" stroke="#231f20" stroke-width="0.8"/>
<line x1="323.3" y1="160.44" x2="329.3" y2="160.44" stroke="#231f20" stroke-width="0.8"/>
<polygon points="326.3,154.72 327.91,157.54 324.69,157.54" fill="none" stroke="#2b2bf0" stroke-width="0.9"/>
<polygon points="330.98,155.78 332.59,158.6 329.37,158.6" fill="none" stroke="#2b2bf0" stroke-width="0.9"/>
<polygon points="321.62,156.49 323.23,159.31 320.01,159.31" fill="none" stroke="#2b2bf0" stroke-width="0.9"/>
<polygon points="321.62,153.07 323.23,155.89 320.01,155.89" fill="none" stroke="#2b2bf0" stroke-width="0.9"/>
<polygon points="328.64,152.97 330.25,155.79 327.03,155.79" fill="none" stroke="#2b2bf0" stroke-width="0.9"/>
<polygon points="328.64,157.59 330.25,160.4 327.03,160.4" fill="none" stroke="#2b2bf0" stroke-width="0.9"/>
<polygon points="323.96,151.56 325.57,154.38 322.35,154.38" fill="none" stroke="#2b2bf0" stroke-width="0.9"/>
<polygon points="323.96,158.74 325.57,161.56 322.35,161.56" fill="none" stroke="#2b2bf0" stroke-width="0.9"/>
<polygon points="326.3,149.39 327.91,152.21 324.69,152.21" fill="none" stroke="#2b2bf0" stroke-width="0.9"/>
<polygon points="326.3,161.39 327.91,164.21 324.69,164.21" fill="none" stroke="#2b2bf0" stroke-width="0.9"/>
<text x="326.3" y="172.2" font-size="5.2" text-anchor="middle" font-weight="bold" fill="#2b2bf0">63214</text>
<line x1="337.4" y1="152.4" x2="348.4" y2="152.4" stroke="#231f20" stroke-width="0.9"/>
<line x1="342.9" y1="149.16" x2="342.9" y2="155.16" stroke="#231f20" stroke-width="0.8"/>
<line x1="339.9" y1="149.16" x2="345.9" y2="149.16" stroke="#231f20" stroke-width="0.8"/>
<line x1="339.9" y1="155.16" x2="345.9" y2="155.16" stroke="#231f20" stroke-width="0.8"/>
<polygon points="342.9,153.92 344.51,151.1 341.29,151.1" fill="none" stroke="#d8358c" stroke-width="0.9"/>
<polygon points="347.58,153.47 349.19,150.65 345.97,150.65" fill="none" stroke="#d8358c" stroke-width="0.9"/>
<polygon points="338.22,155.14 339.83,152.32 336.61,152.32" fill="none" stroke="#d8358c" stroke-width="0.9"/>
<polygon points="340.56,152.32 342.17,149.5 338.95,149.5" fill="none" stroke="#d8358c" stroke-width="0.9"/>
<polygon points="345.24,155.97 346.85,153.15 343.63,153.15" fill="none" stroke="#d8358c" stroke-width="0.9"/>
<polygon points="345.24,151.68 346.85,148.87 343.63,148.87" fill="none" stroke="#d8358c" stroke-width="0.9"/>
<polygon points="340.56,156.75 342.17,153.93 338.95,153.93" fill="none" stroke="#d8358c" stroke-width="0.9"/>
<polygon points="338.22,150.18 339.83,147.37 336.61,147.37" fill="none" stroke="#d8358c" stroke-width="0.9"/>
<polygon points="347.58,158.61 349.19,155.79 345.97,155.79" fill="none" stroke="#d8358c" stroke-width="0.9"/>
<polygon points="342.9,148.61 344.51,145.79 341.29,145.79" fill="none" stroke="#d8358c" stroke-width="0.9"/>
<text x="342.9" y="165.2" font-size="5.2" text-anchor="middle" font-weight="bold" fill="#d8358c">131112</text>
<line x1="354" y1="159.9" x2="365" y2="159.9" stroke="#231f20" stroke-width="0.9"/>
<line x1="359.5" y1="156.96" x2="359.5" y2="163.56" stroke="#231f20" stroke-width="0.8"/>
<line x1="356.5" y1="156.96" x2="362.5" y2="156.96" stroke="#231f20" stroke-width="0.8"/>
<line x1="356.5" y1="163.56" x2="362.5" y2="163.56" stroke="#231f20" stroke-width="0.8"/>
<polygon points="359.5,158.22 361.11,159.83 359.5,161.44 357.89,159.83" fill="none" stroke="#a07f45" stroke-width="0.9"/>
<polygon points="364.18,158.54 365.79,160.15 364.18,161.76 362.57,160.15" fill="none" stroke="#a07f45" stroke-width="0.9"/>
<polygon points="354.82,156.96 356.43,158.57 354.82,160.18 353.21,158.57" fill="none" stroke="#a07f45" stroke-width="0.9"/>
<polygon points="354.82,160.2 356.43,161.81 354.82,163.42 353.21,161.81" fill="none" stroke="#a07f45" stroke-width="0.9"/>
<polygon points="361.84,155.81 363.45,157.42 361.84,159.03 360.23,157.42" fill="none" stroke="#a07f45" stroke-width="0.9"/>
<polygon points="361.84,160.91 363.45,162.52 361.84,164.13 360.23,162.52" fill="none" stroke="#a07f45" stroke-width="0.9"/>
<polygon points="357.16,154.8 358.77,156.41 357.16,158.02 355.55,156.41" fill="none" stroke="#a07f45" stroke-width="0.9"/>
<polygon points="357.16,162.17 358.77,163.78 357.16,165.39 355.55,163.78" fill="none" stroke="#a07f45" stroke-width="0.9"/>
<polygon points="364.18,153.39 365.79,155 364.18,156.61 362.57,155" fill="none" stroke="#a07f45" stroke-width="0.9"/>
<polygon points="359.5,164.39 361.11,166 359.5,167.61 357.89,166" fill="none" stroke="#a07f45" stroke-width="0.9"/>
<text x="359.5" y="171.6" font-size="5.2" text-anchor="middle" font-weight="bold" fill="#a07f45">35586</text>
<line x1="370.6" y1="169.8" x2="381.6" y2="169.8" stroke="#231f20" stroke-width="0.9"/>
<line x1="376.1" y1="165.72" x2="376.1" y2="172.92" stroke="#231f20" stroke-width="0.8"/>
<line x1="373.1" y1="165.72" x2="379.1" y2="165.72" stroke="#231f20" stroke-width="0.8"/>
<line x1="373.1" y1="172.92" x2="379.1" y2="172.92" stroke="#231f20" stroke-width="0.8"/>
<polygon points="377.5,169.83 376.8,171.05 375.4,171.05 374.7,169.83 375.4,168.62 376.8,168.62" fill="none" stroke="#8e3ad0" stroke-width="0.9"/>
<polygon points="382.18,170.28 381.48,171.49 380.08,171.49 379.38,170.28 380.08,169.06 381.48,169.06" fill="none" stroke="#8e3ad0" stroke-width="0.9"/>
<polygon points="372.82,170.96 372.12,172.17 370.72,172.17 370.02,170.96 370.72,169.74 372.12,169.74" fill="none" stroke="#8e3ad0" stroke-width="0.9"/>
<polygon points="379.84,168.23 379.14,169.44 377.74,169.44 377.04,168.23 377.74,167.02 379.14,167.02" fill="none" stroke="#8e3ad0" stroke-width="0.9"/>
<polygon points="379.84,171.42 379.14,172.63 377.74,172.63 377.04,171.42 377.74,170.21 379.14,170.21" fill="none" stroke="#8e3ad0" stroke-width="0.9"/>
<polygon points="375.16,167.36 374.46,168.58 373.06,168.58 372.36,167.36 373.06,166.15 374.46,166.15" fill="none" stroke="#8e3ad0" stroke-width="0.9"/>
<polygon points="375.16,173.01 374.46,174.22 373.06,174.22 372.36,173.01 373.06,171.8 374.46,171.8" fill="none" stroke="#8e3ad0" stroke-width="0.9"/>
<polygon points="377.5,165.1 376.8,166.32 375.4,166.32 374.7,165.1 375.4,163.89 376.8,163.89" fill="none" stroke="#8e3ad0" stroke-width="0.9"/>
<polygon points="379.84,175 379.14,176.21 377.74,176.21 377.04,175 377.74,173.79 379.14,173.79" fill="none" stroke="#8e3ad0" stroke-width="0.9"/>
<polygon points="379.84,163 379.14,164.21 377.74,164.21 377.04,163 377.74,161.79 379.14,161.79" fill="none" stroke="#8e3ad0" stroke-width="0.9"/>
<text x="376.1" y="184.4" font-size="5.2" text-anchor="middle" font-weight="bold" fill="#8e3ad0">6409</text>
<line x1="387.2" y1="150.8" x2="398.2" y2="150.8" stroke="#231f20" stroke-width="0.9"/>
<line x1="392.7" y1="149.12" x2="392.7" y2="152.72" stroke="#231f20" stroke-width="0.8"/>
<line x1="389.7" y1="149.12" x2="395.7" y2="149.12" stroke="#231f20" stroke-width="0.8"/>
<line x1="389.7" y1="152.72" x2="395.7" y2="152.72" stroke="#231f20" stroke-width="0.8"/>
<polygon points="392.7,149.08 394.31,150.69 392.7,152.3 391.09,150.69" fill="none" stroke="#f0702a" stroke-width="0.9"/>
<polygon points="397.38,149.46 398.99,151.07 397.38,152.68 395.77,151.07" fill="none" stroke="#f0702a" stroke-width="0.9"/>
<polygon points="388.02,148.69 389.63,150.3 388.02,151.91 386.41,150.3" fill="none" stroke="#f0702a" stroke-width="0.9"/>
<polygon points="395.04,148.59 396.65,150.2 395.04,151.81 393.43,150.2" fill="none" stroke="#f0702a" stroke-width="0.9"/>
<polygon points="390.36,149.97 391.97,151.58 390.36,153.19 388.75,151.58" fill="none" stroke="#f0702a" stroke-width="0.9"/>
<polygon points="395.04,150.85 396.65,152.46 395.04,154.07 393.43,152.46" fill="none" stroke="#f0702a" stroke-width="0.9"/>
<polygon points="388.02,150.89 389.63,152.5 388.02,154.11 386.41,152.5" fill="none" stroke="#f0702a" stroke-width="0.9"/>
<polygon points="390.36,147.04 391.97,148.65 390.36,150.26 388.75,148.65" fill="none" stroke="#f0702a" stroke-width="0.9"/>
<polygon points="397.38,146.39 398.99,148 397.38,149.61 395.77,148" fill="none" stroke="#f0702a" stroke-width="0.9"/>
<polygon points="392.7,152.39 394.31,154 392.7,155.61 391.09,154" fill="none" stroke="#f0702a" stroke-width="0.9"/>
<text x="392.7" y="159" font-size="5.2" text-anchor="middle" font-weight="bold" fill="#f0702a">173785</text>
<line x1="403.8" y1="154.6" x2="414.8" y2="154.6" stroke="#231f20" stroke-width="0.9"/>
<line x1="409.3" y1="152.32" x2="409.3" y2="157.06" stroke="#231f20" stroke-width="0.8"/>
<line x1="406.3" y1="152.32" x2="412.3" y2="152.32" stroke="#231f20" stroke-width="0.8"/>
<line x1="406.3" y1="157.06" x2="412.3" y2="157.06" stroke="#231f20" stroke-width="0.8"/>
<circle cx="409.3" cy="154.44" r="1.4" fill="none" stroke="#f0262a" stroke-width="0.9"/>
<circle cx="413.98" cy="154.95" r="1.4" fill="none" stroke="#f0262a" stroke-width="0.9"/>
<circle cx="404.62" cy="154.19" r="1.4" fill="none" stroke="#f0262a" stroke-width="0.9"/>
<circle cx="406.96" cy="156.02" r="1.4" fill="none" stroke="#f0262a" stroke-width="0.9"/>
<circle cx="411.64" cy="156.1" r="1.4" fill="none" stroke="#f0262a" stroke-width="0.9"/>
<circle cx="411.64" cy="152.92" r="1.4" fill="none" stroke="#f0262a" stroke-width="0.9"/>
<circle cx="406.96" cy="152.29" r="1.4" fill="none" stroke="#f0262a" stroke-width="0.9"/>
<circle cx="404.62" cy="157.62" r="1.4" fill="none" stroke="#f0262a" stroke-width="0.9"/>
<circle cx="413.98" cy="150.8" r="1.4" fill="none" stroke="#f0262a" stroke-width="0.9"/>
<circle cx="409.3" cy="158.7" r="1.4" fill="none" stroke="#f0262a" stroke-width="0.9"/>
<text x="409.3" y="170" font-size="5.2" text-anchor="middle" font-weight="bold" fill="#f0262a">88670</text>
<line x1="420.4" y1="150.3" x2="431.4" y2="150.3" stroke="#231f20" stroke-width="0.9"/>
<line x1="425.9" y1="147.72" x2="425.9" y2="151.92" stroke="#231f20" stroke-width="0.8"/>
<line x1="422.9" y1="147.72" x2="428.9" y2="147.72" stroke="#231f20" stroke-width="0.8"/>
<line x1="422.9" y1="151.92" x2="428.9" y2="151.92" stroke="#231f20" stroke-width="0.8"/>
<rect x="424.57" y="148.9" width="2.66" height="2.66" fill="none" stroke="#3a9a3a" stroke-width="0.9"/>
<rect x="429.25" y="148.46" width="2.66" height="2.66" fill="none" stroke="#3a9a3a" stroke-width="0.9"/>
<rect x="419.89" y="149.5" width="2.66" height="2.66" fill="none" stroke="#3a9a3a" stroke-width="0.9"/>
<rect x="426.91" y="149.56" width="2.66" height="2.66" fill="none" stroke="#3a9a3a" stroke-width="0.9"/>
<rect x="422.23" y="150.48" width="2.66" height="2.66" fill="none" stroke="#3a9a3a" stroke-width="0.9"/>
<rect x="429.25" y="150.96" width="2.66" height="2.66" fill="none" stroke="#3a9a3a" stroke-width="0.9"/>
<rect x="422.23" y="146.98" width="2.66" height="2.66" fill="none" stroke="#3a9a3a" stroke-width="0.9"/>
<rect x="426.91" y="146.36" width="2.66" height="2.66" fill="none" stroke="#3a9a3a" stroke-width="0.9"/>
<rect x="424.57" y="151.67" width="2.66" height="2.66" fill="none" stroke="#3a9a3a" stroke-width="0.9"/>
<rect x="419.89" y="144.67" width="2.66" height="2.66" fill="none" stroke="#3a9a3a" stroke-width="0.9"/>
<text x="425.9" y="162.5" font-size="5.2" text-anchor="middle" font-weight="bold" fill="#3a9a3a">186865</text>
<line x1="437" y1="156.3" x2="448" y2="156.3" stroke="#231f20" stroke-width="0.9"/>
<line x1="442.5" y1="152.52" x2="442.5" y2="159.72" stroke="#231f20" stroke-width="0.8"/>
<line x1="439.5" y1="152.52" x2="445.5" y2="152.52" stroke="#231f20" stroke-width="0.8"/>
<line x1="439.5" y1="159.72" x2="445.5" y2="159.72" stroke="#231f20" stroke-width="0.8"/>
<polygon points="442.5,154.67 444.11,157.49 440.89,157.49" fill="none" stroke="#2b2bf0" stroke-width="0.9"/>
<polygon points="447.18,154.59 448.79,157.41 445.57,157.41" fill="none" stroke="#2b2bf0" stroke-width="0.9"/>
<polygon points="437.82,156.09 439.43,158.91 436.21,158.91" fill="none" stroke="#2b2bf0" stroke-width="0.9"/>
<polygon points="437.82,152.72 439.43,155.54 436.21,155.54" fill="none" stroke="#2b2bf0" stroke-width="0.9"/>
<polygon points="444.84,156.82 446.45,159.63 443.23,159.63" fill="none" stroke="#2b2bf0" stroke-width="0.9"/>
<polygon points="444.84,152 446.45,154.82 443.23,154.82" fill="none" stroke="#2b2bf0" stroke-width="0.9"/>
<polygon points="440.16,158.73 441.77,161.54 438.55,161.54" fill="none" stroke="#2b2bf0" stroke-width="0.9"/>
<polygon points="440.16,150.2 441.77,153.02 438.55,153.02" fill="none" stroke="#2b2bf0" stroke-width="0.9"/>
<polygon points="444.84,160.39 446.45,163.21 443.23,163.21" fill="none" stroke="#2b2bf0" stroke-width="0.9"/>
<polygon points="444.84,148.39 446.45,151.21 443.23,151.21" fill="none" stroke="#2b2bf0" stroke-width="0.9"/>
<text x="442.5" y="170.9" font-size="5.2" text-anchor="middle" font-weight="bold" fill="#2b2bf0">66107</text>
<line x1="453.6" y1="152" x2="464.6" y2="152" stroke="#231f20" stroke-width="0.9"/>
<line x1="459.1" y1="149" x2="459.1" y2="155" stroke="#231f20" stroke-width="0.8"/>
<line x1="456.1" y1="149" x2="462.1" y2="149" stroke="#231f20" stroke-width="0.8"/>
<line x1="456.1" y1="155" x2="462.1" y2="155" stroke="#231f20" stroke-width="0.8"/>
<polygon points="459.1,153.11 460.71,150.3 457.49,150.3" fill="none" stroke="#d8358c" stroke-width="0.9"/>
<polygon points="463.78,154.24 465.39,151.42 462.17,151.42" fill="none" stroke="#d8358c" stroke-width="0.9"/>
<polygon points="454.42,152.98 456.03,150.16 452.81,150.16" fill="none" stroke="#d8358c" stroke-width="0.9"/>
<polygon points="456.76,154.35 458.37,151.53 455.15,151.53" fill="none" stroke="#d8358c" stroke-width="0.9"/>
<polygon points="461.44,155.25 463.05,152.43 459.83,152.43" fill="none" stroke="#d8358c" stroke-width="0.9"/>
<polygon points="463.78,151.18 465.39,148.36 462.17,148.36" fill="none" stroke="#d8358c" stroke-width="0.9"/>
<polygon points="456.76,150.5 458.37,147.68 455.15,147.68" fill="none" stroke="#d8358c" stroke-width="0.9"/>
<polygon points="459.1,157.34 460.71,154.52 457.49,154.52" fill="none" stroke="#d8358c" stroke-width="0.9"/>
<polygon points="463.78,158.61 465.39,155.79 462.17,155.79" fill="none" stroke="#d8358c" stroke-width="0.9"/>
<polygon points="461.44,148.61 463.05,145.79 459.83,145.79" fill="none" stroke="#d8358c" stroke-width="0.9"/>
<text x="459.1" y="164.4" font-size="5.2" text-anchor="middle" font-weight="bold" fill="#d8358c">140386</text>
<line x1="470.2" y1="160.1" x2="481.2" y2="160.1" stroke="#231f20" stroke-width="0.9"/>
<line x1="475.7" y1="157.64" x2="475.7" y2="161.84" stroke="#231f20" stroke-width="0.8"/>
<line x1="472.7" y1="157.64" x2="478.7" y2="157.64" stroke="#231f20" stroke-width="0.8"/>
<line x1="472.7" y1="161.84" x2="478.7" y2="161.84" stroke="#231f20" stroke-width="0.8"/>
<polygon points="475.7,158.45 477.31,160.06 475.7,161.67 474.09,160.06" fill="none" stroke="#a07f45" stroke-width="0.9"/>
<polygon points="480.38,158.54 481.99,160.15 480.38,161.76 478.77,160.15" fill="none" stroke="#a07f45" stroke-width="0.9"/>
<polygon points="471.02,159.31 472.63,160.92 471.02,162.53 469.41,160.92" fill="none" stroke="#a07f45" stroke-width="0.9"/>
<polygon points="478.04,157.28 479.65,158.89 478.04,160.5 476.43,158.89" fill="none" stroke="#a07f45" stroke-width="0.9"/>
<polygon points="478.04,159.73 479.65,161.34 478.04,162.95 476.43,161.34" fill="none" stroke="#a07f45" stroke-width="0.9"/>
<polygon points="473.36,157.18 474.97,158.79 473.36,160.4 471.75,158.79" fill="none" stroke="#a07f45" stroke-width="0.9"/>
<polygon points="473.36,159.81 474.97,161.42 473.36,163.03 471.75,161.42" fill="none" stroke="#a07f45" stroke-width="0.9"/>
<polygon points="480.38,161.39 481.99,163 480.38,164.61 478.77,163" fill="none" stroke="#a07f45" stroke-width="0.9"/>
<polygon points="480.38,155.56 481.99,157.17 480.38,158.78 478.77,157.17" fill="none" stroke="#a07f45" stroke-width="0.9"/>
<polygon points="475.7,154.39 477.31,156 475.7,157.61 474.09,156" fill="none" stroke="#a07f45" stroke-width="0.9"/>
<text x="475.7" y="171.8" font-size="5.2" text-anchor="middle" font-weight="bold" fill="#a07f45">34116</text>
<line x1="486.8" y1="166.7" x2="497.8" y2="166.7" stroke="#231f20" stroke-width="0.9"/>
<line x1="492.3" y1="162.68" x2="492.3" y2="169.88" stroke="#231f20" stroke-width="0.8"/>
<line x1="489.3" y1="162.68" x2="495.3" y2="162.68" stroke="#231f20" stroke-width="0.8"/>
<line x1="489.3" y1="169.88" x2="495.3" y2="169.88" stroke="#231f20" stroke-width="0.8"/>
<polygon points="493.7,167.09 493,168.3 491.6,168.3 490.9,167.09 491.6,165.88 493,165.88" fill="none" stroke="#8e3ad0" stroke-width="0.9"/>
<polygon points="498.38,166.14 497.68,167.35 496.28,167.35 495.58,166.14 496.28,164.92 497.68,164.92" fill="none" stroke="#8e3ad0" stroke-width="0.9"/>
<polygon points="489.02,167.55 488.32,168.76 486.92,168.76 486.22,167.55 486.92,166.34 488.32,166.34" fill="none" stroke="#8e3ad0" stroke-width="0.9"/>
<polygon points="491.36,165.28 490.66,166.49 489.26,166.49 488.56,165.28 489.26,164.07 490.66,164.07" fill="none" stroke="#8e3ad0" stroke-width="0.9"/>
<polygon points="496.04,168.42 495.34,169.64 493.94,169.64 493.24,168.42 493.94,167.21 495.34,167.21" fill="none" stroke="#8e3ad0" stroke-width="0.9"/>
<polygon points="496.04,163.91 495.34,165.12 493.94,165.12 493.24,163.91 493.94,162.7 495.34,162.7" fill="none" stroke="#8e3ad0" stroke-width="0.9"/>
<polygon points="491.36,170.21 490.66,171.42 489.26,171.42 488.56,170.21 489.26,169 490.66,169" fill="none" stroke="#8e3ad0" stroke-width="0.9"/>
<polygon points="489.02,162.54 488.32,163.76 486.92,163.76 486.22,162.54 486.92,161.33 488.32,161.33" fill="none" stroke="#8e3ad0" stroke-width="0.9"/>
<polygon points="496.04,172 495.34,173.21 493.94,173.21 493.24,172 493.94,170.79 495.34,170.79" fill="none" stroke="#8e3ad0" stroke-width="0.9"/>
<polygon points="493.7,160 493,161.21 491.6,161.21 490.9,160 491.6,158.79 493,158.79" fill="none" stroke="#8e3ad0" stroke-width="0.9"/>
<text x="492.3" y="180.9" font-size="5.2" text-anchor="middle" font-weight="bold" fill="#8e3ad0">10901</text>
<line x1="503.4" y1="152.5" x2="514.4" y2="152.5" stroke="#231f20" stroke-width="0.9"/>
<line x1="508.9" y1="151" x2="508.9" y2="154" stroke="#231f20" stroke-width="0.8"/>
<line x1="505.9" y1="151" x2="511.9" y2="151" stroke="#231f20" stroke-width="0.8"/>
<line x1="505.9" y1="154" x2="511.9" y2="154" stroke="#231f20" stroke-width="0.8"/>
<polygon points="508.9,151.37 510.51,152.98 508.9,154.59 507.29,152.98" fill="none" stroke="#f0702a" stroke-width="0.9"/>
<polygon points="513.58,151.62 515.19,153.23 513.58,154.84 511.97,153.23" fill="none" stroke="#f0702a" stroke-width="0.9"/>
<polygon points="504.22,150.13 505.83,151.74 504.22,153.35 502.61,151.74" fill="none" stroke="#f0702a" stroke-width="0.9"/>
<polygon points="506.56,151.67 508.17,153.28 506.56,154.89 504.95,153.28" fill="none" stroke="#f0702a" stroke-width="0.9"/>
<polygon points="511.24,149.95 512.85,151.56 511.24,153.17 509.63,151.56" fill="none" stroke="#f0702a" stroke-width="0.9"/>
<polygon points="506.56,149.81 508.17,151.42 506.56,153.03 504.95,151.42" fill="none" stroke="#f0702a" stroke-width="0.9"/>
<polygon points="513.58,149.45 515.19,151.06 513.58,152.67 511.97,151.06" fill="none" stroke="#f0702a" stroke-width="0.9"/>
<polygon points="511.24,152.68 512.85,154.29 511.24,155.9 509.63,154.29" fill="none" stroke="#f0702a" stroke-width="0.9"/>
<polygon points="504.22,153.39 505.83,155 504.22,156.61 502.61,155" fill="none" stroke="#f0702a" stroke-width="0.9"/>
<polygon points="508.9,148.39 510.51,150 508.9,151.61 507.29,150" fill="none" stroke="#f0702a" stroke-width="0.9"/>
<text x="508.9" y="161.6" font-size="5.2" text-anchor="middle" font-weight="bold" fill="#f0702a">129417</text>
<line x1="110.5" y1="173.2" x2="126.6" y2="173.2" stroke="#333" stroke-width="0.85"/>
<text x="118.55" y="167.5" font-size="4.5" text-anchor="middle" fill="#231f20">0.0034</text>
<polygon points="117.05,168.9 117.52,169.85 118.57,170.01 117.81,170.75 117.99,171.79 117.05,171.3 116.11,171.79 116.29,170.75 115.53,170.01 116.58,169.85" fill="#231f20"/>
<polygon points="120.05,168.9 120.52,169.85 121.57,170.01 120.81,170.75 120.99,171.79 120.05,171.3 119.11,171.79 119.29,170.75 118.53,170.01 119.58,169.85" fill="#231f20"/>
<line x1="127.1" y1="177.3" x2="142.3" y2="177.3" stroke="#333" stroke-width="0.85"/>
<text x="134.7" y="171.6" font-size="4.5" text-anchor="middle" fill="#231f20">0.0029</text>
<polygon points="133.2,173 133.67,173.95 134.72,174.11 133.96,174.85 134.14,175.89 133.2,175.4 132.26,175.89 132.44,174.85 131.68,174.11 132.73,173.95" fill="#231f20"/>
<polygon points="136.2,173 136.67,173.95 137.72,174.11 136.96,174.85 137.14,175.89 136.2,175.4 135.26,175.89 135.44,174.85 134.68,174.11 135.73,173.95" fill="#231f20"/>
<line x1="193.6" y1="145.4" x2="242.7" y2="145.4" stroke="#333" stroke-width="0.85"/>
<text x="209.02" y="144.2" font-size="4.5" fill="#231f20">0.0147</text>
<polygon points="225.48,141.2 225.95,142.15 227,142.31 226.24,143.05 226.42,144.09 225.48,143.6 224.54,144.09 224.72,143.05 223.96,142.31 225.01,142.15" fill="#231f20"/>
<line x1="226.4" y1="137.2" x2="242.7" y2="137.2" stroke="#333" stroke-width="0.85"/>
<text x="234.55" y="131.5" font-size="4.5" text-anchor="middle" fill="#231f20">&lt;0.0001</text>
<polygon points="230.05,132.9 230.52,133.85 231.57,134.01 230.81,134.75 230.99,135.79 230.05,135.3 229.11,135.79 229.29,134.75 228.53,134.01 229.58,133.85" fill="#231f20"/>
<polygon points="233.05,132.9 233.52,133.85 234.57,134.01 233.81,134.75 233.99,135.79 233.05,135.3 232.11,135.79 232.29,134.75 231.53,134.01 232.58,133.85" fill="#231f20"/>
<polygon points="236.05,132.9 236.52,133.85 237.57,134.01 236.81,134.75 236.99,135.79 236.05,135.3 235.11,135.79 235.29,134.75 234.53,134.01 235.58,133.85" fill="#231f20"/>
<polygon points="239.05,132.9 239.52,133.85 240.57,134.01 239.81,134.75 239.99,135.79 239.05,135.3 238.11,135.79 238.29,134.75 237.53,134.01 238.58,133.85" fill="#231f20"/>
<line x1="243.5" y1="130.2" x2="276" y2="130.2" stroke="#333" stroke-width="0.85"/>
<text x="259.75" y="124.5" font-size="4.5" text-anchor="middle" fill="#231f20">&lt;0.0001</text>
<polygon points="255.25,125.9 255.72,126.85 256.77,127.01 256.01,127.75 256.19,128.79 255.25,128.3 254.31,128.79 254.49,127.75 253.73,127.01 254.78,126.85" fill="#231f20"/>
<polygon points="258.25,125.9 258.72,126.85 259.77,127.01 259.01,127.75 259.19,128.79 258.25,128.3 257.31,128.79 257.49,127.75 256.73,127.01 257.78,126.85" fill="#231f20"/>
<polygon points="261.25,125.9 261.72,126.85 262.77,127.01 262.01,127.75 262.19,128.79 261.25,128.3 260.31,128.79 260.49,127.75 259.73,127.01 260.78,126.85" fill="#231f20"/>
<polygon points="264.25,125.9 264.72,126.85 265.77,127.01 265.01,127.75 265.19,128.79 264.25,128.3 263.31,128.79 263.49,127.75 262.73,127.01 263.78,126.85" fill="#231f20"/>
<line x1="309.2" y1="142.4" x2="357.7" y2="142.4" stroke="#333" stroke-width="0.85"/>
<text x="316.57" y="141.2" font-size="4.5" fill="#231f20">&lt;0.0001</text>
<polygon points="339.53,138.2 340,139.15 341.05,139.31 340.29,140.05 340.47,141.09 339.53,140.6 338.59,141.09 338.77,140.05 338.01,139.31 339.06,139.15" fill="#231f20"/>
<polygon points="342.53,138.2 343,139.15 344.05,139.31 343.29,140.05 343.47,141.09 342.53,140.6 341.59,141.09 341.77,140.05 341.01,139.31 342.06,139.15" fill="#231f20"/>
<polygon points="345.53,138.2 346,139.15 347.05,139.31 346.29,140.05 346.47,141.09 345.53,140.6 344.59,141.09 344.77,140.05 344.01,139.31 345.06,139.15" fill="#231f20"/>
<polygon points="348.53,138.2 349,139.15 350.05,139.31 349.29,140.05 349.47,141.09 348.53,140.6 347.59,141.09 347.77,140.05 347.01,139.31 348.06,139.15" fill="#231f20"/>
<line x1="341.9" y1="134.2" x2="358.2" y2="134.2" stroke="#333" stroke-width="0.85"/>
<text x="350.05" y="128.5" font-size="4.5" text-anchor="middle" fill="#231f20">0.0011</text>
<polygon points="348.55,129.9 349.02,130.85 350.07,131.01 349.31,131.75 349.49,132.79 348.55,132.3 347.61,132.79 347.79,131.75 347.03,131.01 348.08,130.85" fill="#231f20"/>
<polygon points="351.55,129.9 352.02,130.85 353.07,131.01 352.31,131.75 352.49,132.79 351.55,132.3 350.61,132.79 350.79,131.75 350.03,131.01 351.08,130.85" fill="#231f20"/>
<line x1="358.9" y1="127.2" x2="391" y2="127.2" stroke="#333" stroke-width="0.85"/>
<text x="374.95" y="121.5" font-size="4.5" text-anchor="middle" fill="#231f20">&lt;0.0001</text>
<polygon points="370.45,122.9 370.92,123.85 371.97,124.01 371.21,124.75 371.39,125.79 370.45,125.3 369.51,125.79 369.69,124.75 368.93,124.01 369.98,123.85" fill="#231f20"/>
<polygon points="373.45,122.9 373.92,123.85 374.97,124.01 374.21,124.75 374.39,125.79 373.45,125.3 372.51,125.79 372.69,124.75 371.93,124.01 372.98,123.85" fill="#231f20"/>
<polygon points="376.45,122.9 376.92,123.85 377.97,124.01 377.21,124.75 377.39,125.79 376.45,125.3 375.51,125.79 375.69,124.75 374.93,124.01 375.98,123.85" fill="#231f20"/>
<polygon points="379.45,122.9 379.92,123.85 380.97,124.01 380.21,124.75 380.39,125.79 379.45,125.3 378.51,125.79 378.69,124.75 377.93,124.01 378.98,123.85" fill="#231f20"/>
<line x1="409.6" y1="143.3" x2="475.7" y2="143.3" stroke="#333" stroke-width="0.85"/>
<text x="433.52" y="142.1" font-size="4.5" fill="#231f20">0.0259</text>
<polygon points="449.98,139.1 450.45,140.05 451.5,140.21 450.74,140.95 450.92,141.99 449.98,141.5 449.04,141.99 449.22,140.95 448.46,140.21 449.51,140.05" fill="#231f20"/>
<line x1="426.3" y1="135.6" x2="475.7" y2="135.6" stroke="#333" stroke-width="0.85"/>
<text x="434.12" y="134.4" font-size="4.5" fill="#231f20">&lt;0.0001</text>
<polygon points="457.08,131.4 457.55,132.35 458.6,132.51 457.84,133.25 458.02,134.29 457.08,133.8 456.14,134.29 456.32,133.25 455.56,132.51 456.61,132.35" fill="#231f20"/>
<polygon points="460.08,131.4 460.55,132.35 461.6,132.51 460.84,133.25 461.02,134.29 460.08,133.8 459.14,134.29 459.32,133.25 458.56,132.51 459.61,132.35" fill="#231f20"/>
<polygon points="463.08,131.4 463.55,132.35 464.6,132.51 463.84,133.25 464.02,134.29 463.08,133.8 462.14,134.29 462.32,133.25 461.56,132.51 462.61,132.35" fill="#231f20"/>
<polygon points="466.08,131.4 466.55,132.35 467.6,132.51 466.84,133.25 467.02,134.29 466.08,133.8 465.14,134.29 465.32,133.25 464.56,132.51 465.61,132.35" fill="#231f20"/>
<line x1="459.2" y1="127.1" x2="475.7" y2="127.1" stroke="#333" stroke-width="0.85"/>
<text x="467.45" y="121.4" font-size="4.5" text-anchor="middle" fill="#231f20">&lt;0.0001</text>
<polygon points="462.95,122.8 463.42,123.75 464.47,123.91 463.71,124.65 463.89,125.69 462.95,125.2 462.01,125.69 462.19,124.65 461.43,123.91 462.48,123.75" fill="#231f20"/>
<polygon points="465.95,122.8 466.42,123.75 467.47,123.91 466.71,124.65 466.89,125.69 465.95,125.2 465.01,125.69 465.19,124.65 464.43,123.91 465.48,123.75" fill="#231f20"/>
<polygon points="468.95,122.8 469.42,123.75 470.47,123.91 469.71,124.65 469.89,125.69 468.95,125.2 468.01,125.69 468.19,124.65 467.43,123.91 468.48,123.75" fill="#231f20"/>
<polygon points="471.95,122.8 472.42,123.75 473.47,123.91 472.71,124.65 472.89,125.69 471.95,125.2 471.01,125.69 471.19,124.65 470.43,123.91 471.48,123.75" fill="#231f20"/>
<line x1="476.2" y1="120.5" x2="508.2" y2="120.5" stroke="#333" stroke-width="0.85"/>
<text x="492.2" y="114.8" font-size="4.5" text-anchor="middle" fill="#231f20">&lt;0.0001</text>
<polygon points="487.7,116.2 488.17,117.15 489.22,117.31 488.46,118.05 488.64,119.09 487.7,118.6 486.76,119.09 486.94,118.05 486.18,117.31 487.23,117.15" fill="#231f20"/>
<polygon points="490.7,116.2 491.17,117.15 492.22,117.31 491.46,118.05 491.64,119.09 490.7,118.6 489.76,119.09 489.94,118.05 489.18,117.31 490.23,117.15" fill="#231f20"/>
<polygon points="493.7,116.2 494.17,117.15 495.22,117.31 494.46,118.05 494.64,119.09 493.7,118.6 492.76,119.09 492.94,118.05 492.18,117.31 493.23,117.15" fill="#231f20"/>
<polygon points="496.7,116.2 497.17,117.15 498.22,117.31 497.46,118.05 497.64,119.09 496.7,118.6 495.76,119.09 495.94,118.05 495.18,117.31 496.23,117.15" fill="#231f20"/>
<text x="523.2" y="121.7" font-size="16" fill="#231f20">c</text>
<text x="616" y="120.8" font-size="8.0" text-anchor="middle" fill="#231f20">Coated with MPE8-purified hMPV-F</text>
<line x1="552.6" y1="122.7" x2="679.3" y2="122.7" stroke="#666" stroke-width="0.8"/>
<text x="616.2" y="131.7" font-size="8.0" text-anchor="middle" fill="#231f20">UFC<tspan font-size="5.2" dy="1.8">M1</tspan><tspan dy="-1.8">-P2-iSS(1TD0)</tspan></text>
<line x1="578" y1="133.6" x2="654.4" y2="133.6" stroke="#666" stroke-width="0.8"/>
<line x1="562.4" y1="139.1" x2="562.4" y2="220.5" stroke="#231f20" stroke-width="0.9"/>
<line x1="562.4" y1="220.5" x2="682.7" y2="220.5" stroke="#231f20" stroke-width="0.9"/>
<line x1="557.6" y1="216.4" x2="562.4" y2="216.4" stroke="#231f20" stroke-width="0.9"/>
<text x="556.4" y="219.4" font-size="8.6" text-anchor="end" fill="#231f20">0</text>
<line x1="557.6" y1="197.2" x2="562.4" y2="197.2" stroke="#231f20" stroke-width="0.9"/>
<text x="556.4" y="200.2" font-size="8.6" text-anchor="end" fill="#231f20">1</text>
<line x1="557.6" y1="178" x2="562.4" y2="178" stroke="#231f20" stroke-width="0.9"/>
<text x="556.4" y="181" font-size="8.6" text-anchor="end" fill="#231f20">2</text>
<line x1="557.6" y1="158.8" x2="562.4" y2="158.8" stroke="#231f20" stroke-width="0.9"/>
<text x="556.4" y="161.8" font-size="8.6" text-anchor="end" fill="#231f20">3</text>
<line x1="557.6" y1="139.6" x2="562.4" y2="139.6" stroke="#231f20" stroke-width="0.9"/>
<text x="556.4" y="142.6" font-size="8.6" text-anchor="end" fill="#231f20">4</text>
<line x1="573" y1="220.5" x2="573" y2="225.6" stroke="#231f20" stroke-width="0.9"/>
<line x1="589.5" y1="220.5" x2="589.5" y2="225.6" stroke="#231f20" stroke-width="0.9"/>
<line x1="606" y1="220.5" x2="606" y2="225.6" stroke="#231f20" stroke-width="0.9"/>
<line x1="622.5" y1="220.5" x2="622.5" y2="225.6" stroke="#231f20" stroke-width="0.9"/>
<line x1="639" y1="220.5" x2="639" y2="225.6" stroke="#231f20" stroke-width="0.9"/>
<line x1="655.5" y1="220.5" x2="655.5" y2="225.6" stroke="#231f20" stroke-width="0.9"/>
<line x1="672" y1="220.5" x2="672" y2="225.6" stroke="#231f20" stroke-width="0.9"/>
<text x="0" y="0" font-size="9.1" text-anchor="middle" fill="#231f20" transform="translate(546.2,179.5) rotate(-90)">Absorbance (450 nm)</text>
<line x1="568" y1="230.7" x2="609.6" y2="230.7" stroke="#8c8c8c" stroke-width="1.15"/>
<line x1="643" y1="230.7" x2="673.7" y2="230.7" stroke="#8c8c8c" stroke-width="1.15"/>
<text x="623.9" y="233.1" font-size="6.6" text-anchor="middle" fill="#231f20">W11</text>
<circle cx="569.34" cy="215.44" r="1.4" fill="none" stroke="#f0262a" stroke-width="0.9"/>
<circle cx="576.47" cy="214.86" r="1.4" fill="none" stroke="#f0262a" stroke-width="0.9"/>
<circle cx="575.64" cy="214.48" r="1.4" fill="none" stroke="#f0262a" stroke-width="0.9"/>
<circle cx="570.55" cy="214.1" r="1.4" fill="none" stroke="#f0262a" stroke-width="0.9"/>
<circle cx="572.95" cy="213.52" r="1.4" fill="none" stroke="#f0262a" stroke-width="0.9"/>
<circle cx="572.49" cy="212.94" r="1.4" fill="none" stroke="#f0262a" stroke-width="0.9"/>
<circle cx="574.52" cy="212.56" r="1.4" fill="none" stroke="#f0262a" stroke-width="0.9"/>
<circle cx="575.89" cy="214.48" r="1.4" fill="none" stroke="#f0262a" stroke-width="0.9"/>
<circle cx="568.94" cy="215.06" r="1.4" fill="none" stroke="#f0262a" stroke-width="0.9"/>
<circle cx="568.28" cy="213.9" r="1.4" fill="none" stroke="#f0262a" stroke-width="0.9"/>
<line x1="567.5" y1="214.1" x2="578.5" y2="214.1" stroke="#444" stroke-width="0.9"/>
<line x1="573" y1="213.14" x2="573" y2="215.06" stroke="#231f20" stroke-width="0.9"/>
<line x1="569.8" y1="213.14" x2="576.2" y2="213.14" stroke="#231f20" stroke-width="0.9"/>
<line x1="569.8" y1="215.06" x2="576.2" y2="215.06" stroke="#231f20" stroke-width="0.9"/>
<text x="573" y="209.6" font-size="5.2" text-anchor="middle" font-weight="bold" fill="#f0262a">0.12</text>
<rect x="592.73" y="214.11" width="2.66" height="2.66" fill="none" stroke="#3a9a3a" stroke-width="0.9"/>
<rect x="592.65" y="213.15" width="2.66" height="2.66" fill="none" stroke="#3a9a3a" stroke-width="0.9"/>
<rect x="583.74" y="212.19" width="2.66" height="2.66" fill="none" stroke="#3a9a3a" stroke-width="0.9"/>
<rect x="584.02" y="211.23" width="2.66" height="2.66" fill="none" stroke="#3a9a3a" stroke-width="0.9"/>
<rect x="591.52" y="210.27" width="2.66" height="2.66" fill="none" stroke="#3a9a3a" stroke-width="0.9"/>
<rect x="590.53" y="209.31" width="2.66" height="2.66" fill="none" stroke="#3a9a3a" stroke-width="0.9"/>
<rect x="589.87" y="208.35" width="2.66" height="2.66" fill="none" stroke="#3a9a3a" stroke-width="0.9"/>
<rect x="586.25" y="212.77" width="2.66" height="2.66" fill="none" stroke="#3a9a3a" stroke-width="0.9"/>
<rect x="589.23" y="211.61" width="2.66" height="2.66" fill="none" stroke="#3a9a3a" stroke-width="0.9"/>
<rect x="589.24" y="194.91" width="2.66" height="2.66" fill="none" stroke="#3a9a3a" stroke-width="0.9"/>
<line x1="584" y1="212.37" x2="595" y2="212.37" stroke="#444" stroke-width="0.9"/>
<line x1="589.5" y1="208.34" x2="589.5" y2="216.02" stroke="#231f20" stroke-width="0.9"/>
<line x1="586.3" y1="208.34" x2="592.7" y2="208.34" stroke="#231f20" stroke-width="0.9"/>
<text x="589.5" y="192.2" font-size="5.2" text-anchor="middle" font-weight="bold" fill="#3a9a3a">0.21</text>
<polygon points="603.38,213.83 604.99,216.65 601.77,216.65" fill="none" stroke="#2b2bf0" stroke-width="0.9"/>
<polygon points="606.44,213.25 608.05,216.07 604.83,216.07" fill="none" stroke="#2b2bf0" stroke-width="0.9"/>
<polygon points="604.7,212.87 606.31,215.69 603.09,215.69" fill="none" stroke="#2b2bf0" stroke-width="0.9"/>
<polygon points="607.04,212.49 608.65,215.3 605.43,215.3" fill="none" stroke="#2b2bf0" stroke-width="0.9"/>
<polygon points="607.26,211.91 608.87,214.73 605.65,214.73" fill="none" stroke="#2b2bf0" stroke-width="0.9"/>
<polygon points="601.66,211.33 603.27,214.15 600.05,214.15" fill="none" stroke="#2b2bf0" stroke-width="0.9"/>
<polygon points="601.13,210.95 602.74,213.77 599.52,213.77" fill="none" stroke="#2b2bf0" stroke-width="0.9"/>
<polygon points="609.37,212.87 610.98,215.69 607.76,215.69" fill="none" stroke="#2b2bf0" stroke-width="0.9"/>
<polygon points="603.59,213.45 605.2,216.26 601.98,216.26" fill="none" stroke="#2b2bf0" stroke-width="0.9"/>
<polygon points="603.34,212.29 604.95,215.11 601.73,215.11" fill="none" stroke="#2b2bf0" stroke-width="0.9"/>
<line x1="600.5" y1="213.9" x2="611.5" y2="213.9" stroke="#444" stroke-width="0.9"/>
<line x1="606" y1="212.94" x2="606" y2="214.86" stroke="#231f20" stroke-width="0.9"/>
<line x1="602.8" y1="212.94" x2="609.2" y2="212.94" stroke="#231f20" stroke-width="0.9"/>
<line x1="602.8" y1="214.86" x2="609.2" y2="214.86" stroke="#231f20" stroke-width="0.9"/>
<text x="606" y="208" font-size="5.2" text-anchor="middle" font-weight="bold" fill="#2b2bf0">0.13</text>
<polygon points="619.86,216.09 621.47,213.27 618.25,213.27" fill="none" stroke="#d8358c" stroke-width="0.9"/>
<polygon points="618.53,215.71 620.14,212.89 616.92,212.89" fill="none" stroke="#d8358c" stroke-width="0.9"/>
<polygon points="621.46,215.13 623.07,212.31 619.85,212.31" fill="none" stroke="#d8358c" stroke-width="0.9"/>
<polygon points="619.05,214.17 620.66,211.35 617.44,211.35" fill="none" stroke="#d8358c" stroke-width="0.9"/>
<polygon points="618.17,213.21 619.78,210.39 616.56,210.39" fill="none" stroke="#d8358c" stroke-width="0.9"/>
<polygon points="621.52,212.63 623.13,209.82 619.91,209.82" fill="none" stroke="#d8358c" stroke-width="0.9"/>
<polygon points="626.68,212.25 628.29,209.43 625.07,209.43" fill="none" stroke="#d8358c" stroke-width="0.9"/>
<polygon points="625.5,214.55 627.11,211.74 623.89,211.74" fill="none" stroke="#d8358c" stroke-width="0.9"/>
<polygon points="625.15,213.79 626.76,210.97 623.54,210.97" fill="none" stroke="#d8358c" stroke-width="0.9"/>
<polygon points="619.72,214.94 621.33,212.12 618.11,212.12" fill="none" stroke="#d8358c" stroke-width="0.9"/>
<line x1="617" y1="212.75" x2="628" y2="212.75" stroke="#444" stroke-width="0.9"/>
<line x1="622.5" y1="211.6" x2="622.5" y2="213.9" stroke="#231f20" stroke-width="0.9"/>
<line x1="619.3" y1="211.6" x2="625.7" y2="211.6" stroke="#231f20" stroke-width="0.9"/>
<line x1="619.3" y1="213.9" x2="625.7" y2="213.9" stroke="#231f20" stroke-width="0.9"/>
<text x="622.5" y="206.9" font-size="5.2" text-anchor="middle" font-weight="bold" fill="#d8358c">0.19</text>
<polygon points="636.7,162.89 638.31,164.5 636.7,166.11 635.09,164.5" fill="none" stroke="#a07f45" stroke-width="0.9"/>
<polygon points="642,162.89 643.61,164.5 642,166.11 640.39,164.5" fill="none" stroke="#a07f45" stroke-width="0.9"/>
<polygon points="639.3,168.39 640.91,170 639.3,171.61 637.69,170" fill="none" stroke="#a07f45" stroke-width="0.9"/>
<polygon points="636.7,172.59 638.31,174.2 636.7,175.81 635.09,174.2" fill="none" stroke="#a07f45" stroke-width="0.9"/>
<polygon points="642,173.89 643.61,175.5 642,177.11 640.39,175.5" fill="none" stroke="#a07f45" stroke-width="0.9"/>
<polygon points="639.3,192.39 640.91,194 639.3,195.61 637.69,194" fill="none" stroke="#a07f45" stroke-width="0.9"/>
<polygon points="639.3,202.39 640.91,204 639.3,205.61 637.69,204" fill="none" stroke="#a07f45" stroke-width="0.9"/>
<polygon points="639.3,207.39 640.91,209 639.3,210.61 637.69,209" fill="none" stroke="#a07f45" stroke-width="0.9"/>
<polygon points="636,212.39 637.61,214 636,215.61 634.39,214" fill="none" stroke="#a07f45" stroke-width="0.9"/>
<polygon points="642,210.89 643.61,212.5 642,214.11 640.39,212.5" fill="none" stroke="#a07f45" stroke-width="0.9"/>
<line x1="633.7" y1="197.58" x2="644.7" y2="197.58" stroke="#444" stroke-width="0.9"/>
<line x1="639.2" y1="159.38" x2="639.2" y2="210.64" stroke="#a07f45" stroke-width="0.9"/>
<line x1="636" y1="159.38" x2="642.4" y2="159.38" stroke="#a07f45" stroke-width="0.9"/>
<line x1="636" y1="210.64" x2="642.4" y2="210.64" stroke="#a07f45" stroke-width="0.9"/>
<text x="639.2" y="156.9" font-size="5.2" text-anchor="middle" font-weight="bold" fill="#a07f45">0.98</text>
<polygon points="652.9,174.5 652.2,175.71 650.8,175.71 650.1,174.5 650.8,173.29 652.2,173.29" fill="none" stroke="#8e3ad0" stroke-width="0.9"/>
<polygon points="657,172.5 656.3,173.71 654.9,173.71 654.2,172.5 654.9,171.29 656.3,171.29" fill="none" stroke="#8e3ad0" stroke-width="0.9"/>
<polygon points="661,172.5 660.3,173.71 658.9,173.71 658.2,172.5 658.9,171.29 660.3,171.29" fill="none" stroke="#8e3ad0" stroke-width="0.9"/>
<polygon points="661,176.5 660.3,177.71 658.9,177.71 658.2,176.5 658.9,175.29 660.3,175.29" fill="none" stroke="#8e3ad0" stroke-width="0.9"/>
<polygon points="657,177 656.3,178.21 654.9,178.21 654.2,177 654.9,175.79 656.3,175.79" fill="none" stroke="#8e3ad0" stroke-width="0.9"/>
<polygon points="657,180 656.3,181.21 654.9,181.21 654.2,180 654.9,178.79 656.3,178.79" fill="none" stroke="#8e3ad0" stroke-width="0.9"/>
<polygon points="657,182.7 656.3,183.91 654.9,183.91 654.2,182.7 654.9,181.49 656.3,181.49" fill="none" stroke="#8e3ad0" stroke-width="0.9"/>
<polygon points="654.9,187 654.2,188.21 652.8,188.21 652.1,187 652.8,185.79 654.2,185.79" fill="none" stroke="#8e3ad0" stroke-width="0.9"/>
<polygon points="659.1,189 658.4,190.21 657,190.21 656.3,189 657,187.79 658.4,187.79" fill="none" stroke="#8e3ad0" stroke-width="0.9"/>
<polygon points="657,210.4 656.3,211.61 654.9,211.61 654.2,210.4 654.9,209.19 656.3,209.19" fill="none" stroke="#8e3ad0" stroke-width="0.9"/>
<line x1="650.1" y1="185.87" x2="661.1" y2="185.87" stroke="#444" stroke-width="0.9"/>
<line x1="655.6" y1="160.72" x2="655.6" y2="199.12" stroke="#231f20" stroke-width="0.9"/>
<line x1="652.4" y1="160.72" x2="658.8" y2="160.72" stroke="#231f20" stroke-width="0.9"/>
<line x1="652.4" y1="199.12" x2="658.8" y2="199.12" stroke="#231f20" stroke-width="0.9"/>
<text x="655.6" y="158.4" font-size="5.2" text-anchor="middle" font-weight="bold" fill="#8e3ad0">1.59</text>
<polygon points="672.5,162.89 674.11,164.5 672.5,166.11 670.89,164.5" fill="none" stroke="#f0702a" stroke-width="0.9"/>
<polygon points="672.5,166.39 674.11,168 672.5,169.61 670.89,168" fill="none" stroke="#f0702a" stroke-width="0.9"/>
<polygon points="670.7,176.79 672.31,178.4 670.7,180.01 669.09,178.4" fill="none" stroke="#f0702a" stroke-width="0.9"/>
<polygon points="673.5,179.39 675.11,181 673.5,182.61 671.89,181" fill="none" stroke="#f0702a" stroke-width="0.9"/>
<polygon points="672,204.39 673.61,206 672,207.61 670.39,206" fill="none" stroke="#f0702a" stroke-width="0.9"/>
<polygon points="668.7,209.39 670.31,211 668.7,212.61 667.09,211" fill="none" stroke="#f0702a" stroke-width="0.9"/>
<polygon points="672,211.89 673.61,213.5 672,215.11 670.39,213.5" fill="none" stroke="#f0702a" stroke-width="0.9"/>
<polygon points="676,210.39 677.61,212 676,213.61 674.39,212" fill="none" stroke="#f0702a" stroke-width="0.9"/>
<polygon points="670,213.39 671.61,215 670,216.61 668.39,215" fill="none" stroke="#f0702a" stroke-width="0.9"/>
<polygon points="673.5,212.89 675.11,214.5 673.5,216.11 671.89,214.5" fill="none" stroke="#f0702a" stroke-width="0.9"/>
<line x1="666.7" y1="206.03" x2="677.7" y2="206.03" stroke="#444" stroke-width="0.9"/>
<line x1="672.2" y1="177.04" x2="672.2" y2="216.4" stroke="#231f20" stroke-width="0.9"/>
<line x1="669" y1="177.04" x2="675.4" y2="177.04" stroke="#231f20" stroke-width="0.9"/>
<text x="672.2" y="161" font-size="5.2" text-anchor="middle" font-weight="bold" fill="#f0702a">0.54</text>
<text x="0.9" y="261.1" font-size="16" fill="#231f20">d</text>
<text x="21.9" y="259.7" font-size="9.32" fill="#231f20">RSV-F trimer vaccine-induced neutralizing antibody responses</text>
<line x1="49.1" y1="278.55" x2="49.1" y2="359.2" stroke="#231f20" stroke-width="0.9"/>
<line x1="49.1" y1="359.2" x2="520.2" y2="359.2" stroke="#231f20" stroke-width="0.9"/>
<line x1="44.1" y1="359.2" x2="49.1" y2="359.2" stroke="#231f20" stroke-width="0.9"/>
<line x1="44.1" y1="332.45" x2="49.1" y2="332.45" stroke="#231f20" stroke-width="0.9"/>
<line x1="44.1" y1="305.7" x2="49.1" y2="305.7" stroke="#231f20" stroke-width="0.9"/>
<line x1="44.1" y1="278.95" x2="49.1" y2="278.95" stroke="#231f20" stroke-width="0.9"/>
<line x1="60.6" y1="359.2" x2="60.6" y2="364.2" stroke="#231f20" stroke-width="0.9"/>
<line x1="77.2" y1="359.2" x2="77.2" y2="364.2" stroke="#231f20" stroke-width="0.9"/>
<line x1="93.8" y1="359.2" x2="93.8" y2="364.2" stroke="#231f20" stroke-width="0.9"/>
<line x1="110.4" y1="359.2" x2="110.4" y2="364.2" stroke="#231f20" stroke-width="0.9"/>
<line x1="127" y1="359.2" x2="127" y2="364.2" stroke="#231f20" stroke-width="0.9"/>
<line x1="143.6" y1="359.2" x2="143.6" y2="364.2" stroke="#231f20" stroke-width="0.9"/>
<line x1="160.2" y1="359.2" x2="160.2" y2="364.2" stroke="#231f20" stroke-width="0.9"/>
<line x1="176.8" y1="359.2" x2="176.8" y2="364.2" stroke="#231f20" stroke-width="0.9"/>
<line x1="193.4" y1="359.2" x2="193.4" y2="364.2" stroke="#231f20" stroke-width="0.9"/>
<line x1="210" y1="359.2" x2="210" y2="364.2" stroke="#231f20" stroke-width="0.9"/>
<line x1="226.6" y1="359.2" x2="226.6" y2="364.2" stroke="#231f20" stroke-width="0.9"/>
<line x1="243.2" y1="359.2" x2="243.2" y2="364.2" stroke="#231f20" stroke-width="0.9"/>
<line x1="259.8" y1="359.2" x2="259.8" y2="364.2" stroke="#231f20" stroke-width="0.9"/>
<line x1="276.4" y1="359.2" x2="276.4" y2="364.2" stroke="#231f20" stroke-width="0.9"/>
<line x1="293" y1="359.2" x2="293" y2="364.2" stroke="#231f20" stroke-width="0.9"/>
<line x1="309.6" y1="359.2" x2="309.6" y2="364.2" stroke="#231f20" stroke-width="0.9"/>
<line x1="326.2" y1="359.2" x2="326.2" y2="364.2" stroke="#231f20" stroke-width="0.9"/>
<line x1="342.8" y1="359.2" x2="342.8" y2="364.2" stroke="#231f20" stroke-width="0.9"/>
<line x1="359.4" y1="359.2" x2="359.4" y2="364.2" stroke="#231f20" stroke-width="0.9"/>
<line x1="376" y1="359.2" x2="376" y2="364.2" stroke="#231f20" stroke-width="0.9"/>
<line x1="392.6" y1="359.2" x2="392.6" y2="364.2" stroke="#231f20" stroke-width="0.9"/>
<line x1="409.2" y1="359.2" x2="409.2" y2="364.2" stroke="#231f20" stroke-width="0.9"/>
<line x1="425.8" y1="359.2" x2="425.8" y2="364.2" stroke="#231f20" stroke-width="0.9"/>
<line x1="442.4" y1="359.2" x2="442.4" y2="364.2" stroke="#231f20" stroke-width="0.9"/>
<line x1="459" y1="359.2" x2="459" y2="364.2" stroke="#231f20" stroke-width="0.9"/>
<line x1="475.6" y1="359.2" x2="475.6" y2="364.2" stroke="#231f20" stroke-width="0.9"/>
<line x1="492.2" y1="359.2" x2="492.2" y2="364.2" stroke="#231f20" stroke-width="0.9"/>
<line x1="508.8" y1="359.2" x2="508.8" y2="364.2" stroke="#231f20" stroke-width="0.9"/>
<text x="43.3" y="362.6" font-size="9.3" text-anchor="end" fill="#231f20">10<tspan dy="-3.07" font-size="4.93">2</tspan></text>
<text x="43.3" y="335.85" font-size="9.3" text-anchor="end" fill="#231f20">10<tspan dy="-3.07" font-size="4.93">3</tspan></text>
<text x="43.3" y="309.1" font-size="9.3" text-anchor="end" fill="#231f20">10<tspan dy="-3.07" font-size="4.93">4</tspan></text>
<text x="43.3" y="282.35" font-size="9.3" text-anchor="end" fill="#231f20">10<tspan dy="-3.07" font-size="4.93">5</tspan></text>
<text x="0" y="0" font-size="9.65" text-anchor="middle" fill="#231f20" transform="translate(21.8,319.7) rotate(-90)">ID<tspan font-size="6.95" dy="1.93">50</tspan><tspan dy="-1.93"> titer</tspan></text>
<line x1="168.2" y1="278" x2="168.2" y2="359.2" stroke="#222" stroke-width="0.9" stroke-dasharray="2.6,1.5"/>
<line x1="284.2" y1="278" x2="284.2" y2="359.2" stroke="#222" stroke-width="0.9" stroke-dasharray="2.6,1.5"/>
<line x1="400.5" y1="278" x2="400.5" y2="359.2" stroke="#222" stroke-width="0.9" stroke-dasharray="2.6,1.5"/>
<line x1="55.2" y1="369.7" x2="96.1" y2="369.7" stroke="#8c8c8c" stroke-width="1.15"/>
<line x1="126.4" y1="369.7" x2="161" y2="369.7" stroke="#8c8c8c" stroke-width="1.15"/>
<text x="111" y="372.8" font-size="6.6" text-anchor="middle" fill="#231f20">W2</text>
<line x1="172" y1="369.7" x2="212.3" y2="369.7" stroke="#8c8c8c" stroke-width="1.15"/>
<line x1="242" y1="369.7" x2="278" y2="369.7" stroke="#8c8c8c" stroke-width="1.15"/>
<text x="227.1" y="372.8" font-size="6.6" text-anchor="middle" fill="#231f20">W5</text>
<line x1="287.6" y1="369.7" x2="328.4" y2="369.7" stroke="#333" stroke-width="1.15"/>
<line x1="358.2" y1="369.7" x2="393.9" y2="369.7" stroke="#333" stroke-width="1.15"/>
<text x="343.3" y="372.8" font-size="6.6" text-anchor="middle" fill="#231f20">W8</text>
<line x1="403" y1="369.7" x2="442.4" y2="369.7" stroke="#333" stroke-width="1.15"/>
<line x1="476.2" y1="369.7" x2="509.2" y2="369.7" stroke="#333" stroke-width="1.15"/>
<text x="459.5" y="372.8" font-size="6.6" text-anchor="middle" fill="#231f20">W11</text>
<circle cx="56" cy="359.2" r="1.4" fill="none" stroke="#f0262a" stroke-width="1.0"/>
<circle cx="57.15" cy="359.2" r="1.4" fill="none" stroke="#f0262a" stroke-width="1.0"/>
<circle cx="58.3" cy="359.2" r="1.4" fill="none" stroke="#f0262a" stroke-width="1.0"/>
<circle cx="59.45" cy="359.2" r="1.4" fill="none" stroke="#f0262a" stroke-width="1.0"/>
<circle cx="60.6" cy="359.2" r="1.4" fill="none" stroke="#f0262a" stroke-width="1.0"/>
<circle cx="61.75" cy="359.2" r="1.4" fill="none" stroke="#f0262a" stroke-width="1.0"/>
<circle cx="62.9" cy="359.2" r="1.4" fill="none" stroke="#f0262a" stroke-width="1.0"/>
<circle cx="64.05" cy="359.2" r="1.4" fill="none" stroke="#f0262a" stroke-width="1.0"/>
<circle cx="65.2" cy="359.2" r="1.4" fill="none" stroke="#f0262a" stroke-width="1.0"/>
<rect x="71.27" y="357.87" width="2.66" height="2.66" fill="none" stroke="#3a9a3a" stroke-width="1.0"/>
<rect x="72.42" y="357.87" width="2.66" height="2.66" fill="none" stroke="#3a9a3a" stroke-width="1.0"/>
<rect x="73.57" y="357.87" width="2.66" height="2.66" fill="none" stroke="#3a9a3a" stroke-width="1.0"/>
<rect x="74.72" y="357.87" width="2.66" height="2.66" fill="none" stroke="#3a9a3a" stroke-width="1.0"/>
<rect x="75.87" y="357.87" width="2.66" height="2.66" fill="none" stroke="#3a9a3a" stroke-width="1.0"/>
<rect x="77.02" y="357.87" width="2.66" height="2.66" fill="none" stroke="#3a9a3a" stroke-width="1.0"/>
<rect x="78.17" y="357.87" width="2.66" height="2.66" fill="none" stroke="#3a9a3a" stroke-width="1.0"/>
<rect x="79.32" y="357.87" width="2.66" height="2.66" fill="none" stroke="#3a9a3a" stroke-width="1.0"/>
<rect x="80.47" y="357.87" width="2.66" height="2.66" fill="none" stroke="#3a9a3a" stroke-width="1.0"/>
<polygon points="89.2,357.59 90.81,360.41 87.59,360.41" fill="none" stroke="#2b2bf0" stroke-width="1.0"/>
<polygon points="90.35,357.59 91.96,360.41 88.74,360.41" fill="none" stroke="#2b2bf0" stroke-width="1.0"/>
<polygon points="91.5,357.59 93.11,360.41 89.89,360.41" fill="none" stroke="#2b2bf0" stroke-width="1.0"/>
<polygon points="92.65,357.59 94.26,360.41 91.04,360.41" fill="none" stroke="#2b2bf0" stroke-width="1.0"/>
<polygon points="93.8,357.59 95.41,360.41 92.19,360.41" fill="none" stroke="#2b2bf0" stroke-width="1.0"/>
<polygon points="94.95,357.59 96.56,360.41 93.34,360.41" fill="none" stroke="#2b2bf0" stroke-width="1.0"/>
<polygon points="96.1,357.59 97.71,360.41 94.49,360.41" fill="none" stroke="#2b2bf0" stroke-width="1.0"/>
<polygon points="97.25,357.59 98.86,360.41 95.64,360.41" fill="none" stroke="#2b2bf0" stroke-width="1.0"/>
<polygon points="98.4,357.59 100.01,360.41 96.79,360.41" fill="none" stroke="#2b2bf0" stroke-width="1.0"/>
<polygon points="105.8,360.81 107.41,357.99 104.19,357.99" fill="none" stroke="#d8358c" stroke-width="1.0"/>
<polygon points="106.95,360.81 108.56,357.99 105.34,357.99" fill="none" stroke="#d8358c" stroke-width="1.0"/>
<polygon points="108.1,360.81 109.71,357.99 106.49,357.99" fill="none" stroke="#d8358c" stroke-width="1.0"/>
<polygon points="109.25,360.81 110.86,357.99 107.64,357.99" fill="none" stroke="#d8358c" stroke-width="1.0"/>
<polygon points="110.4,360.81 112.01,357.99 108.79,357.99" fill="none" stroke="#d8358c" stroke-width="1.0"/>
<polygon points="111.55,360.81 113.16,357.99 109.94,357.99" fill="none" stroke="#d8358c" stroke-width="1.0"/>
<polygon points="112.7,360.81 114.31,357.99 111.09,357.99" fill="none" stroke="#d8358c" stroke-width="1.0"/>
<polygon points="113.85,360.81 115.46,357.99 112.24,357.99" fill="none" stroke="#d8358c" stroke-width="1.0"/>
<polygon points="115,360.81 116.61,357.99 113.39,357.99" fill="none" stroke="#d8358c" stroke-width="1.0"/>
<polygon points="122.4,357.59 124.01,359.2 122.4,360.81 120.79,359.2" fill="none" stroke="#a07f45" stroke-width="1.0"/>
<polygon points="123.55,357.59 125.16,359.2 123.55,360.81 121.94,359.2" fill="none" stroke="#a07f45" stroke-width="1.0"/>
<polygon points="124.7,357.59 126.31,359.2 124.7,360.81 123.09,359.2" fill="none" stroke="#a07f45" stroke-width="1.0"/>
<polygon points="125.85,357.59 127.46,359.2 125.85,360.81 124.24,359.2" fill="none" stroke="#a07f45" stroke-width="1.0"/>
<polygon points="127,357.59 128.61,359.2 127,360.81 125.39,359.2" fill="none" stroke="#a07f45" stroke-width="1.0"/>
<polygon points="128.15,357.59 129.76,359.2 128.15,360.81 126.54,359.2" fill="none" stroke="#a07f45" stroke-width="1.0"/>
<polygon points="129.3,357.59 130.91,359.2 129.3,360.81 127.69,359.2" fill="none" stroke="#a07f45" stroke-width="1.0"/>
<polygon points="130.45,357.59 132.06,359.2 130.45,360.81 128.84,359.2" fill="none" stroke="#a07f45" stroke-width="1.0"/>
<polygon points="131.6,357.59 133.21,359.2 131.6,360.81 129.99,359.2" fill="none" stroke="#a07f45" stroke-width="1.0"/>
<polygon points="140.4,359.2 139.7,360.41 138.3,360.41 137.6,359.2 138.3,357.99 139.7,357.99" fill="none" stroke="#8e3ad0" stroke-width="1.0"/>
<polygon points="141.55,359.2 140.85,360.41 139.45,360.41 138.75,359.2 139.45,357.99 140.85,357.99" fill="none" stroke="#8e3ad0" stroke-width="1.0"/>
<polygon points="142.7,359.2 142,360.41 140.6,360.41 139.9,359.2 140.6,357.99 142,357.99" fill="none" stroke="#8e3ad0" stroke-width="1.0"/>
<polygon points="143.85,359.2 143.15,360.41 141.75,360.41 141.05,359.2 141.75,357.99 143.15,357.99" fill="none" stroke="#8e3ad0" stroke-width="1.0"/>
<polygon points="145,359.2 144.3,360.41 142.9,360.41 142.2,359.2 142.9,357.99 144.3,357.99" fill="none" stroke="#8e3ad0" stroke-width="1.0"/>
<polygon points="146.15,359.2 145.45,360.41 144.05,360.41 143.35,359.2 144.05,357.99 145.45,357.99" fill="none" stroke="#8e3ad0" stroke-width="1.0"/>
<polygon points="147.3,359.2 146.6,360.41 145.2,360.41 144.5,359.2 145.2,357.99 146.6,357.99" fill="none" stroke="#8e3ad0" stroke-width="1.0"/>
<polygon points="148.45,359.2 147.75,360.41 146.35,360.41 145.65,359.2 146.35,357.99 147.75,357.99" fill="none" stroke="#8e3ad0" stroke-width="1.0"/>
<polygon points="149.6,359.2 148.9,360.41 147.5,360.41 146.8,359.2 147.5,357.99 148.9,357.99" fill="none" stroke="#8e3ad0" stroke-width="1.0"/>
<polygon points="155.6,357.59 157.21,359.2 155.6,360.81 153.99,359.2" fill="none" stroke="#f0702a" stroke-width="1.0"/>
<polygon points="156.75,357.59 158.36,359.2 156.75,360.81 155.14,359.2" fill="none" stroke="#f0702a" stroke-width="1.0"/>
<polygon points="157.9,357.59 159.51,359.2 157.9,360.81 156.29,359.2" fill="none" stroke="#f0702a" stroke-width="1.0"/>
<polygon points="159.05,357.59 160.66,359.2 159.05,360.81 157.44,359.2" fill="none" stroke="#f0702a" stroke-width="1.0"/>
<polygon points="160.2,357.59 161.81,359.2 160.2,360.81 158.59,359.2" fill="none" stroke="#f0702a" stroke-width="1.0"/>
<polygon points="161.35,357.59 162.96,359.2 161.35,360.81 159.74,359.2" fill="none" stroke="#f0702a" stroke-width="1.0"/>
<polygon points="162.5,357.59 164.11,359.2 162.5,360.81 160.89,359.2" fill="none" stroke="#f0702a" stroke-width="1.0"/>
<polygon points="163.65,357.59 165.26,359.2 163.65,360.81 162.04,359.2" fill="none" stroke="#f0702a" stroke-width="1.0"/>
<polygon points="164.8,357.59 166.41,359.2 164.8,360.81 163.19,359.2" fill="none" stroke="#f0702a" stroke-width="1.0"/>
<polygon points="110.4,340.91 112.01,338.09 108.79,338.09" fill="none" stroke="#d8358c" stroke-width="0.9"/>
<line x1="104.9" y1="357.6" x2="115.9" y2="357.6" stroke="#231f20" stroke-width="0.9"/>
<line x1="110.4" y1="350.7" x2="110.4" y2="357.6" stroke="#231f20" stroke-width="0.8"/>
<line x1="107.4" y1="350.7" x2="113.4" y2="350.7" stroke="#231f20" stroke-width="0.8"/>
<line x1="171.4" y1="324.5" x2="182.4" y2="324.5" stroke="#231f20" stroke-width="0.9"/>
<line x1="176.9" y1="313.53" x2="176.9" y2="340.68" stroke="#231f20" stroke-width="0.8"/>
<line x1="173.7" y1="313.53" x2="180.1" y2="313.53" stroke="#231f20" stroke-width="0.8"/>
<line x1="173.7" y1="340.68" x2="180.1" y2="340.68" stroke="#231f20" stroke-width="0.8"/>
<circle cx="176.9" cy="323.53" r="1.4" fill="none" stroke="#f0262a" stroke-width="0.9"/>
<circle cx="179.9" cy="326.29" r="1.4" fill="none" stroke="#f0262a" stroke-width="0.9"/>
<circle cx="179.9" cy="319.86" r="1.4" fill="none" stroke="#f0262a" stroke-width="0.9"/>
<circle cx="176.9" cy="330.12" r="1.4" fill="none" stroke="#f0262a" stroke-width="0.9"/>
<circle cx="173.9" cy="317.52" r="1.4" fill="none" stroke="#f0262a" stroke-width="0.9"/>
<circle cx="176.9" cy="335.09" r="1.4" fill="none" stroke="#f0262a" stroke-width="0.9"/>
<circle cx="176.9" cy="312.92" r="1.4" fill="none" stroke="#f0262a" stroke-width="0.9"/>
<circle cx="176.9" cy="340.65" r="1.4" fill="none" stroke="#f0262a" stroke-width="0.9"/>
<circle cx="176.9" cy="306.8" r="1.4" fill="none" stroke="#f0262a" stroke-width="0.9"/>
<circle cx="176.9" cy="350.6" r="1.4" fill="none" stroke="#f0262a" stroke-width="0.9"/>
<text x="176.9" y="303.6" font-size="5.2" text-anchor="middle" font-weight="bold" fill="#f0262a">1982</text>
<line x1="188" y1="321.62" x2="199" y2="321.62" stroke="#231f20" stroke-width="0.9"/>
<line x1="193.5" y1="315.04" x2="193.5" y2="330.66" stroke="#231f20" stroke-width="0.8"/>
<line x1="190.3" y1="315.04" x2="196.7" y2="315.04" stroke="#231f20" stroke-width="0.8"/>
<line x1="190.3" y1="330.66" x2="196.7" y2="330.66" stroke="#231f20" stroke-width="0.8"/>
<rect x="192.17" y="319.75" width="2.66" height="2.66" fill="none" stroke="#3a9a3a" stroke-width="0.9"/>
<rect x="195.17" y="321.68" width="2.66" height="2.66" fill="none" stroke="#3a9a3a" stroke-width="0.9"/>
<rect x="195.17" y="317.5" width="2.66" height="2.66" fill="none" stroke="#3a9a3a" stroke-width="0.9"/>
<rect x="189.17" y="323.72" width="2.66" height="2.66" fill="none" stroke="#3a9a3a" stroke-width="0.9"/>
<rect x="189.17" y="315.36" width="2.66" height="2.66" fill="none" stroke="#3a9a3a" stroke-width="0.9"/>
<rect x="192.17" y="326.55" width="2.66" height="2.66" fill="none" stroke="#3a9a3a" stroke-width="0.9"/>
<rect x="195.17" y="313.35" width="2.66" height="2.66" fill="none" stroke="#3a9a3a" stroke-width="0.9"/>
<rect x="195.17" y="329.48" width="2.66" height="2.66" fill="none" stroke="#3a9a3a" stroke-width="0.9"/>
<rect x="192.17" y="309.67" width="2.66" height="2.66" fill="none" stroke="#3a9a3a" stroke-width="0.9"/>
<rect x="192.17" y="334.87" width="2.66" height="2.66" fill="none" stroke="#3a9a3a" stroke-width="0.9"/>
<text x="193.5" y="307.7" font-size="5.2" text-anchor="middle" font-weight="bold" fill="#3a9a3a">2540</text>
<line x1="204.6" y1="321.5" x2="215.6" y2="321.5" stroke="#231f20" stroke-width="0.9"/>
<line x1="210.1" y1="311.27" x2="210.1" y2="331.92" stroke="#231f20" stroke-width="0.8"/>
<line x1="206.9" y1="311.27" x2="213.3" y2="311.27" stroke="#231f20" stroke-width="0.8"/>
<line x1="206.9" y1="331.92" x2="213.3" y2="331.92" stroke="#231f20" stroke-width="0.8"/>
<polygon points="210.1,318.8 211.71,321.61 208.49,321.61" fill="none" stroke="#2b2bf0" stroke-width="0.9"/>
<polygon points="213.1,321.79 214.71,324.6 211.49,324.6" fill="none" stroke="#2b2bf0" stroke-width="0.9"/>
<polygon points="207.1,323.8 208.71,326.62 205.49,326.62" fill="none" stroke="#2b2bf0" stroke-width="0.9"/>
<polygon points="213.1,315.61 214.71,318.42 211.49,318.42" fill="none" stroke="#2b2bf0" stroke-width="0.9"/>
<polygon points="207.1,313.04 208.71,315.86 205.49,315.86" fill="none" stroke="#2b2bf0" stroke-width="0.9"/>
<polygon points="210.1,327.18 211.71,329.99 208.49,329.99" fill="none" stroke="#2b2bf0" stroke-width="0.9"/>
<polygon points="213.1,329.99 214.71,332.81 211.49,332.81" fill="none" stroke="#2b2bf0" stroke-width="0.9"/>
<polygon points="210.1,309.6 211.71,312.42 208.49,312.42" fill="none" stroke="#2b2bf0" stroke-width="0.9"/>
<polygon points="210.1,303.39 211.71,306.21 208.49,306.21" fill="none" stroke="#2b2bf0" stroke-width="0.9"/>
<polygon points="210.1,336.69 211.71,339.51 208.49,339.51" fill="none" stroke="#2b2bf0" stroke-width="0.9"/>
<text x="210.1" y="301.5" font-size="5.2" text-anchor="middle" font-weight="bold" fill="#2b2bf0">2566</text>
<line x1="221.2" y1="312.31" x2="232.2" y2="312.31" stroke="#231f20" stroke-width="0.9"/>
<line x1="226.7" y1="305.61" x2="226.7" y2="322.47" stroke="#231f20" stroke-width="0.8"/>
<line x1="223.5" y1="305.61" x2="229.9" y2="305.61" stroke="#231f20" stroke-width="0.8"/>
<line x1="223.5" y1="322.47" x2="229.9" y2="322.47" stroke="#231f20" stroke-width="0.8"/>
<polygon points="226.7,313.4 228.31,310.58 225.09,310.58" fill="none" stroke="#d8358c" stroke-width="0.9"/>
<polygon points="229.7,315.33 231.31,312.52 228.09,312.52" fill="none" stroke="#d8358c" stroke-width="0.9"/>
<polygon points="229.7,311.01 231.31,308.19 228.09,308.19" fill="none" stroke="#d8358c" stroke-width="0.9"/>
<polygon points="226.7,318.21 228.31,315.4 225.09,315.4" fill="none" stroke="#d8358c" stroke-width="0.9"/>
<polygon points="223.7,309.63 225.31,306.81 222.09,306.81" fill="none" stroke="#d8358c" stroke-width="0.9"/>
<polygon points="226.7,307.48 228.31,304.66 225.09,304.66" fill="none" stroke="#d8358c" stroke-width="0.9"/>
<polygon points="229.7,320.75 231.31,317.93 228.09,317.93" fill="none" stroke="#d8358c" stroke-width="0.9"/>
<polygon points="226.7,324.58 228.31,321.76 225.09,321.76" fill="none" stroke="#d8358c" stroke-width="0.9"/>
<polygon points="226.7,303.11 228.31,300.29 225.09,300.29" fill="none" stroke="#d8358c" stroke-width="0.9"/>
<polygon points="226.7,330.31 228.31,327.49 225.09,327.49" fill="none" stroke="#d8358c" stroke-width="0.9"/>
<text x="226.7" y="297.7" font-size="5.2" text-anchor="middle" font-weight="bold" fill="#d8358c">5660</text>
<line x1="237.8" y1="333.11" x2="248.8" y2="333.11" stroke="#231f20" stroke-width="0.9"/>
<line x1="243.3" y1="324.61" x2="243.3" y2="339.36" stroke="#231f20" stroke-width="0.8"/>
<line x1="240.1" y1="324.61" x2="246.5" y2="324.61" stroke="#231f20" stroke-width="0.8"/>
<line x1="240.1" y1="339.36" x2="246.5" y2="339.36" stroke="#231f20" stroke-width="0.8"/>
<polygon points="243.3,332.1 244.91,333.71 243.3,335.32 241.69,333.71" fill="none" stroke="#a07f45" stroke-width="0.9"/>
<polygon points="246.3,330.39 247.91,332 246.3,333.61 244.69,332" fill="none" stroke="#a07f45" stroke-width="0.9"/>
<polygon points="246.3,334.13 247.91,335.74 246.3,337.35 244.69,335.74" fill="none" stroke="#a07f45" stroke-width="0.9"/>
<polygon points="240.3,327.8 241.91,329.41 240.3,331.02 238.69,329.41" fill="none" stroke="#a07f45" stroke-width="0.9"/>
<polygon points="240.3,335.21 241.91,336.82 240.3,338.43 238.69,336.82" fill="none" stroke="#a07f45" stroke-width="0.9"/>
<polygon points="246.3,326 247.91,327.61 246.3,329.22 244.69,327.61" fill="none" stroke="#a07f45" stroke-width="0.9"/>
<polygon points="243.3,338.46 244.91,340.07 243.3,341.68 241.69,340.07" fill="none" stroke="#a07f45" stroke-width="0.9"/>
<polygon points="243.3,322.31 244.91,323.92 243.3,325.53 241.69,323.92" fill="none" stroke="#a07f45" stroke-width="0.9"/>
<polygon points="246.3,341.59 247.91,343.2 246.3,344.81 244.69,343.2" fill="none" stroke="#a07f45" stroke-width="0.9"/>
<polygon points="243.3,317.79 244.91,319.4 243.3,321.01 241.69,319.4" fill="none" stroke="#a07f45" stroke-width="0.9"/>
<text x="243.3" y="313.4" font-size="5.2" text-anchor="middle" font-weight="bold" fill="#a07f45">945</text>
<line x1="254.4" y1="333.96" x2="265.4" y2="333.96" stroke="#231f20" stroke-width="0.9"/>
<line x1="259.9" y1="327.1" x2="259.9" y2="346.2" stroke="#231f20" stroke-width="0.8"/>
<line x1="256.7" y1="327.1" x2="263.1" y2="327.1" stroke="#231f20" stroke-width="0.8"/>
<line x1="256.7" y1="346.2" x2="263.1" y2="346.2" stroke="#231f20" stroke-width="0.8"/>
<polygon points="261.3,333.48 260.6,334.69 259.2,334.69 258.5,333.48 259.2,332.27 260.6,332.27" fill="none" stroke="#8e3ad0" stroke-width="0.9"/>
<polygon points="264.3,335.2 263.6,336.41 262.2,336.41 261.5,335.2 262.2,333.98 263.6,333.98" fill="none" stroke="#8e3ad0" stroke-width="0.9"/>
<polygon points="264.3,331.33 263.6,332.54 262.2,332.54 261.5,331.33 262.2,330.11 263.6,330.11" fill="none" stroke="#8e3ad0" stroke-width="0.9"/>
<polygon points="258.3,329.49 257.6,330.7 256.2,330.7 255.5,329.49 256.2,328.27 257.6,328.27" fill="none" stroke="#8e3ad0" stroke-width="0.9"/>
<polygon points="261.3,339.23 260.6,340.44 259.2,340.44 258.5,339.23 259.2,338.01 260.6,338.01" fill="none" stroke="#8e3ad0" stroke-width="0.9"/>
<polygon points="264.3,327.22 263.6,328.43 262.2,328.43 261.5,327.22 262.2,326 263.6,326" fill="none" stroke="#8e3ad0" stroke-width="0.9"/>
<polygon points="264.3,342.05 263.6,343.26 262.2,343.26 261.5,342.05 262.2,340.83 263.6,340.83" fill="none" stroke="#8e3ad0" stroke-width="0.9"/>
<polygon points="261.3,322.9 260.6,324.11 259.2,324.11 258.5,322.9 259.2,321.69 260.6,321.69" fill="none" stroke="#8e3ad0" stroke-width="0.9"/>
<polygon points="261.3,346 260.6,347.21 259.2,347.21 258.5,346 259.2,344.78 260.6,344.78" fill="none" stroke="#8e3ad0" stroke-width="0.9"/>
<polygon points="261.3,353.7 260.6,354.91 259.2,354.91 258.5,353.7 259.2,352.49 260.6,352.49" fill="none" stroke="#8e3ad0" stroke-width="0.9"/>
<text x="259.9" y="319.9" font-size="5.2" text-anchor="middle" font-weight="bold" fill="#8e3ad0">878</text>
<line x1="271" y1="309.59" x2="282" y2="309.59" stroke="#231f20" stroke-width="0.9"/>
<line x1="276.5" y1="301.35" x2="276.5" y2="317.59" stroke="#231f20" stroke-width="0.8"/>
<line x1="273.3" y1="301.35" x2="279.7" y2="301.35" stroke="#231f20" stroke-width="0.8"/>
<line x1="273.3" y1="317.59" x2="279.7" y2="317.59" stroke="#231f20" stroke-width="0.8"/>
<polygon points="276.5,307.4 278.11,309.01 276.5,310.62 274.89,309.01" fill="none" stroke="#f0702a" stroke-width="0.9"/>
<polygon points="279.5,309.57 281.11,311.18 279.5,312.79 277.89,311.18" fill="none" stroke="#f0702a" stroke-width="0.9"/>
<polygon points="273.5,310.67 275.11,312.28 273.5,313.89 271.89,312.28" fill="none" stroke="#f0702a" stroke-width="0.9"/>
<polygon points="279.5,305.23 281.11,306.84 279.5,308.45 277.89,306.84" fill="none" stroke="#f0702a" stroke-width="0.9"/>
<polygon points="276.5,312.97 278.11,314.58 276.5,316.19 274.89,314.58" fill="none" stroke="#f0702a" stroke-width="0.9"/>
<polygon points="273.5,302.83 275.11,304.44 273.5,306.05 271.89,304.44" fill="none" stroke="#f0702a" stroke-width="0.9"/>
<polygon points="279.5,316.2 281.11,317.81 279.5,319.42 277.89,317.81" fill="none" stroke="#f0702a" stroke-width="0.9"/>
<polygon points="276.5,299.32 278.11,300.93 276.5,302.54 274.89,300.93" fill="none" stroke="#f0702a" stroke-width="0.9"/>
<polygon points="276.5,320.89 278.11,322.5 276.5,324.11 274.89,322.5" fill="none" stroke="#f0702a" stroke-width="0.9"/>
<polygon points="276.5,294.69 278.11,296.3 276.5,297.91 274.89,296.3" fill="none" stroke="#f0702a" stroke-width="0.9"/>
<text x="276.5" y="292.8" font-size="5.2" text-anchor="middle" font-weight="bold" fill="#f0702a">7154</text>
<line x1="287.6" y1="305.97" x2="298.6" y2="305.97" stroke="#231f20" stroke-width="0.9"/>
<line x1="293.1" y1="295.7" x2="293.1" y2="316.9" stroke="#231f20" stroke-width="0.8"/>
<line x1="289.9" y1="295.7" x2="296.3" y2="295.7" stroke="#231f20" stroke-width="0.8"/>
<line x1="289.9" y1="316.9" x2="296.3" y2="316.9" stroke="#231f20" stroke-width="0.8"/>
<circle cx="293.1" cy="307.58" r="1.4" fill="none" stroke="#f0262a" stroke-width="0.9"/>
<circle cx="296.1" cy="304.25" r="1.4" fill="none" stroke="#f0262a" stroke-width="0.9"/>
<circle cx="296.1" cy="309.98" r="1.4" fill="none" stroke="#f0262a" stroke-width="0.9"/>
<circle cx="290.1" cy="301.7" r="1.4" fill="none" stroke="#f0262a" stroke-width="0.9"/>
<circle cx="296.1" cy="299.63" r="1.4" fill="none" stroke="#f0262a" stroke-width="0.9"/>
<circle cx="293.1" cy="313.41" r="1.4" fill="none" stroke="#f0262a" stroke-width="0.9"/>
<circle cx="293.1" cy="295.67" r="1.4" fill="none" stroke="#f0262a" stroke-width="0.9"/>
<circle cx="293.1" cy="317.57" r="1.4" fill="none" stroke="#f0262a" stroke-width="0.9"/>
<circle cx="293.1" cy="289.4" r="1.4" fill="none" stroke="#f0262a" stroke-width="0.9"/>
<circle cx="293.1" cy="323.6" r="1.4" fill="none" stroke="#f0262a" stroke-width="0.9"/>
<text x="293.1" y="284.3" font-size="5.2" text-anchor="middle" font-weight="bold" fill="#f0262a">9768</text>
<line x1="304.2" y1="316.06" x2="315.2" y2="316.06" stroke="#231f20" stroke-width="0.9"/>
<line x1="309.7" y1="310.13" x2="309.7" y2="318.94" stroke="#231f20" stroke-width="0.8"/>
<line x1="306.5" y1="310.13" x2="312.9" y2="310.13" stroke="#231f20" stroke-width="0.8"/>
<line x1="306.5" y1="318.94" x2="312.9" y2="318.94" stroke="#231f20" stroke-width="0.8"/>
<rect x="308.37" y="315.18" width="2.66" height="2.66" fill="none" stroke="#3a9a3a" stroke-width="0.9"/>
<rect x="311.37" y="313.68" width="2.66" height="2.66" fill="none" stroke="#3a9a3a" stroke-width="0.9"/>
<rect x="305.37" y="316.23" width="2.66" height="2.66" fill="none" stroke="#3a9a3a" stroke-width="0.9"/>
<rect x="311.37" y="316.33" width="2.66" height="2.66" fill="none" stroke="#3a9a3a" stroke-width="0.9"/>
<rect x="305.37" y="312.81" width="2.66" height="2.66" fill="none" stroke="#3a9a3a" stroke-width="0.9"/>
<rect x="308.37" y="317.89" width="2.66" height="2.66" fill="none" stroke="#3a9a3a" stroke-width="0.9"/>
<rect x="308.37" y="310.29" width="2.66" height="2.66" fill="none" stroke="#3a9a3a" stroke-width="0.9"/>
<rect x="305.37" y="319.37" width="2.66" height="2.66" fill="none" stroke="#3a9a3a" stroke-width="0.9"/>
<rect x="311.37" y="309" width="2.66" height="2.66" fill="none" stroke="#3a9a3a" stroke-width="0.9"/>
<rect x="308.37" y="305.17" width="2.66" height="2.66" fill="none" stroke="#3a9a3a" stroke-width="0.9"/>
<text x="309.7" y="301.4" font-size="5.2" text-anchor="middle" font-weight="bold" fill="#3a9a3a">4099</text>
<line x1="320.8" y1="311.52" x2="331.8" y2="311.52" stroke="#231f20" stroke-width="0.9"/>
<line x1="326.3" y1="300.78" x2="326.3" y2="316.03" stroke="#231f20" stroke-width="0.8"/>
<line x1="323.1" y1="300.78" x2="329.5" y2="300.78" stroke="#231f20" stroke-width="0.8"/>
<line x1="323.1" y1="316.03" x2="329.5" y2="316.03" stroke="#231f20" stroke-width="0.8"/>
<polygon points="326.3,310.1 327.91,312.92 324.69,312.92" fill="none" stroke="#2b2bf0" stroke-width="0.9"/>
<polygon points="329.3,308.71 330.91,311.52 327.69,311.52" fill="none" stroke="#2b2bf0" stroke-width="0.9"/>
<polygon points="323.3,311.48 324.91,314.29 321.69,314.29" fill="none" stroke="#2b2bf0" stroke-width="0.9"/>
<polygon points="329.3,313.14 330.91,315.96 327.69,315.96" fill="none" stroke="#2b2bf0" stroke-width="0.9"/>
<polygon points="326.3,305.53 327.91,308.35 324.69,308.35" fill="none" stroke="#2b2bf0" stroke-width="0.9"/>
<polygon points="323.3,315.04 324.91,317.86 321.69,317.86" fill="none" stroke="#2b2bf0" stroke-width="0.9"/>
<polygon points="329.3,303.39 330.91,306.21 327.69,306.21" fill="none" stroke="#2b2bf0" stroke-width="0.9"/>
<polygon points="329.3,317.19 330.91,320.01 327.69,320.01" fill="none" stroke="#2b2bf0" stroke-width="0.9"/>
<polygon points="326.3,298.35 327.91,301.17 324.69,301.17" fill="none" stroke="#2b2bf0" stroke-width="0.9"/>
<polygon points="326.3,292.59 327.91,295.41 324.69,295.41" fill="none" stroke="#2b2bf0" stroke-width="0.9"/>
<text x="326.3" y="288.8" font-size="5.2" text-anchor="middle" font-weight="bold" fill="#2b2bf0">6061</text>
<line x1="337.4" y1="315.51" x2="348.4" y2="315.51" stroke="#231f20" stroke-width="0.9"/>
<line x1="342.9" y1="299.32" x2="342.9" y2="324.06" stroke="#231f20" stroke-width="0.8"/>
<line x1="339.7" y1="299.32" x2="346.1" y2="299.32" stroke="#231f20" stroke-width="0.8"/>
<line x1="339.7" y1="324.06" x2="346.1" y2="324.06" stroke="#231f20" stroke-width="0.8"/>
<polygon points="342.9,317.64 344.51,314.82 341.29,314.82" fill="none" stroke="#d8358c" stroke-width="0.9"/>
<polygon points="345.9,314.65 347.51,311.84 344.29,311.84" fill="none" stroke="#d8358c" stroke-width="0.9"/>
<polygon points="345.9,320.15 347.51,317.33 344.29,317.33" fill="none" stroke="#d8358c" stroke-width="0.9"/>
<polygon points="339.9,322.2 341.51,319.39 338.29,319.39" fill="none" stroke="#d8358c" stroke-width="0.9"/>
<polygon points="342.9,310.8 344.51,307.98 341.29,307.98" fill="none" stroke="#d8358c" stroke-width="0.9"/>
<polygon points="342.9,325.43 344.51,322.61 341.29,322.61" fill="none" stroke="#d8358c" stroke-width="0.9"/>
<polygon points="342.9,306.73 344.51,303.91 341.29,303.91" fill="none" stroke="#d8358c" stroke-width="0.9"/>
<polygon points="342.9,330.91 344.51,328.09 341.29,328.09" fill="none" stroke="#d8358c" stroke-width="0.9"/>
<polygon points="342.9,300.78 344.51,297.96 341.29,297.96" fill="none" stroke="#d8358c" stroke-width="0.9"/>
<polygon points="342.9,291.01 344.51,288.19 341.29,288.19" fill="none" stroke="#d8358c" stroke-width="0.9"/>
<text x="342.9" y="284.3" font-size="5.2" text-anchor="middle" font-weight="bold" fill="#d8358c">4297</text>
<line x1="354" y1="315.89" x2="365" y2="315.89" stroke="#231f20" stroke-width="0.9"/>
<line x1="359.5" y1="309.45" x2="359.5" y2="328.29" stroke="#231f20" stroke-width="0.8"/>
<line x1="356.3" y1="309.45" x2="362.7" y2="309.45" stroke="#231f20" stroke-width="0.8"/>
<line x1="356.3" y1="328.29" x2="362.7" y2="328.29" stroke="#231f20" stroke-width="0.8"/>
<polygon points="359.5,313.61 361.11,315.22 359.5,316.83 357.89,315.22" fill="none" stroke="#a07f45" stroke-width="0.9"/>
<polygon points="362.5,316.05 364.11,317.66 362.5,319.27 360.89,317.66" fill="none" stroke="#a07f45" stroke-width="0.9"/>
<polygon points="362.5,312.27 364.11,313.88 362.5,315.49 360.89,313.88" fill="none" stroke="#a07f45" stroke-width="0.9"/>
<polygon points="359.5,309.46 361.11,311.07 359.5,312.68 357.89,311.07" fill="none" stroke="#a07f45" stroke-width="0.9"/>
<polygon points="359.5,319.45 361.11,321.06 359.5,322.67 357.89,321.06" fill="none" stroke="#a07f45" stroke-width="0.9"/>
<polygon points="362.5,307.98 364.11,309.59 362.5,311.2 360.89,309.59" fill="none" stroke="#a07f45" stroke-width="0.9"/>
<polygon points="362.5,322.26 364.11,323.87 362.5,325.48 360.89,323.87" fill="none" stroke="#a07f45" stroke-width="0.9"/>
<polygon points="359.5,303.89 361.11,305.5 359.5,307.11 357.89,305.5" fill="none" stroke="#a07f45" stroke-width="0.9"/>
<polygon points="359.5,327.33 361.11,328.94 359.5,330.55 357.89,328.94" fill="none" stroke="#a07f45" stroke-width="0.9"/>
<polygon points="359.5,334.29 361.11,335.9 359.5,337.51 357.89,335.9" fill="none" stroke="#a07f45" stroke-width="0.9"/>
<text x="359.5" y="302.1" font-size="5.2" text-anchor="middle" font-weight="bold" fill="#a07f45">4161</text>
<line x1="370.6" y1="322.65" x2="381.6" y2="322.65" stroke="#231f20" stroke-width="0.9"/>
<line x1="376.1" y1="315.8" x2="376.1" y2="327.33" stroke="#231f20" stroke-width="0.8"/>
<line x1="372.9" y1="315.8" x2="379.3" y2="315.8" stroke="#231f20" stroke-width="0.8"/>
<line x1="372.9" y1="327.33" x2="379.3" y2="327.33" stroke="#231f20" stroke-width="0.8"/>
<polygon points="377.5,322.84 376.8,324.05 375.4,324.05 374.7,322.84 375.4,321.63 376.8,321.63" fill="none" stroke="#8e3ad0" stroke-width="0.9"/>
<polygon points="380.5,321.85 379.8,323.06 378.4,323.06 377.7,321.85 378.4,320.63 379.8,320.63" fill="none" stroke="#8e3ad0" stroke-width="0.9"/>
<polygon points="374.5,323.9 373.8,325.12 372.4,325.12 371.7,323.9 372.4,322.69 373.8,322.69" fill="none" stroke="#8e3ad0" stroke-width="0.9"/>
<polygon points="374.5,319.5 373.8,320.71 372.4,320.71 371.7,319.5 372.4,318.28 373.8,318.28" fill="none" stroke="#8e3ad0" stroke-width="0.9"/>
<polygon points="380.5,326.13 379.8,327.34 378.4,327.34 377.7,326.13 378.4,324.91 379.8,324.91" fill="none" stroke="#8e3ad0" stroke-width="0.9"/>
<polygon points="380.5,318.38 379.8,319.6 378.4,319.6 377.7,318.38 378.4,317.17 379.8,317.17" fill="none" stroke="#8e3ad0" stroke-width="0.9"/>
<polygon points="374.5,328.02 373.8,329.24 372.4,329.24 371.7,328.02 372.4,326.81 373.8,326.81" fill="none" stroke="#8e3ad0" stroke-width="0.9"/>
<polygon points="377.5,316.22 376.8,317.44 375.4,317.44 374.7,316.22 375.4,315.01 376.8,315.01" fill="none" stroke="#8e3ad0" stroke-width="0.9"/>
<polygon points="380.5,330.2 379.8,331.41 378.4,331.41 377.7,330.2 378.4,328.99 379.8,328.99" fill="none" stroke="#8e3ad0" stroke-width="0.9"/>
<polygon points="377.5,311.6 376.8,312.81 375.4,312.81 374.7,311.6 375.4,310.39 376.8,310.39" fill="none" stroke="#8e3ad0" stroke-width="0.9"/>
<text x="376.1" y="307" font-size="5.2" text-anchor="middle" font-weight="bold" fill="#8e3ad0">2324</text>
<line x1="387.2" y1="305.68" x2="398.2" y2="305.68" stroke="#231f20" stroke-width="0.9"/>
<line x1="392.7" y1="295.59" x2="392.7" y2="313.26" stroke="#231f20" stroke-width="0.8"/>
<line x1="389.5" y1="295.59" x2="395.9" y2="295.59" stroke="#231f20" stroke-width="0.8"/>
<line x1="389.5" y1="313.26" x2="395.9" y2="313.26" stroke="#231f20" stroke-width="0.8"/>
<polygon points="392.7,304.81 394.31,306.42 392.7,308.03 391.09,306.42" fill="none" stroke="#f0702a" stroke-width="0.9"/>
<polygon points="395.7,302.79 397.31,304.4 395.7,306.01 394.09,304.4" fill="none" stroke="#f0702a" stroke-width="0.9"/>
<polygon points="395.7,306.79 397.31,308.4 395.7,310.01 394.09,308.4" fill="none" stroke="#f0702a" stroke-width="0.9"/>
<polygon points="392.7,300.1 394.31,301.71 392.7,303.32 391.09,301.71" fill="none" stroke="#f0702a" stroke-width="0.9"/>
<polygon points="389.7,309.09 391.31,310.7 389.7,312.31 388.09,310.7" fill="none" stroke="#f0702a" stroke-width="0.9"/>
<polygon points="395.7,296.84 397.31,298.45 395.7,300.06 394.09,298.45" fill="none" stroke="#f0702a" stroke-width="0.9"/>
<polygon points="395.7,311.48 397.31,313.09 395.7,314.7 394.09,313.09" fill="none" stroke="#f0702a" stroke-width="0.9"/>
<polygon points="392.7,293.41 394.31,295.02 392.7,296.63 391.09,295.02" fill="none" stroke="#f0702a" stroke-width="0.9"/>
<polygon points="392.7,316.29 394.31,317.9 392.7,319.51 391.09,317.9" fill="none" stroke="#f0702a" stroke-width="0.9"/>
<polygon points="392.7,287.79 394.31,289.4 392.7,291.01 391.09,289.4" fill="none" stroke="#f0702a" stroke-width="0.9"/>
<text x="392.7" y="285.6" font-size="5.2" text-anchor="middle" font-weight="bold" fill="#f0702a">10017</text>
<line x1="403.8" y1="301.09" x2="414.8" y2="301.09" stroke="#231f20" stroke-width="0.9"/>
<line x1="409.3" y1="293.28" x2="409.3" y2="309.09" stroke="#231f20" stroke-width="0.8"/>
<line x1="406.1" y1="293.28" x2="412.5" y2="293.28" stroke="#231f20" stroke-width="0.8"/>
<line x1="406.1" y1="309.09" x2="412.5" y2="309.09" stroke="#231f20" stroke-width="0.8"/>
<circle cx="409.3" cy="301.78" r="1.4" fill="none" stroke="#f0262a" stroke-width="0.9"/>
<circle cx="412.3" cy="300.02" r="1.4" fill="none" stroke="#f0262a" stroke-width="0.9"/>
<circle cx="412.3" cy="303.61" r="1.4" fill="none" stroke="#f0262a" stroke-width="0.9"/>
<circle cx="406.3" cy="298.14" r="1.4" fill="none" stroke="#f0262a" stroke-width="0.9"/>
<circle cx="406.3" cy="306.01" r="1.4" fill="none" stroke="#f0262a" stroke-width="0.9"/>
<circle cx="412.3" cy="295.71" r="1.4" fill="none" stroke="#f0262a" stroke-width="0.9"/>
<circle cx="409.3" cy="292.93" r="1.4" fill="none" stroke="#f0262a" stroke-width="0.9"/>
<circle cx="409.3" cy="309.77" r="1.4" fill="none" stroke="#f0262a" stroke-width="0.9"/>
<circle cx="409.3" cy="288.5" r="1.4" fill="none" stroke="#f0262a" stroke-width="0.9"/>
<circle cx="409.3" cy="314" r="1.4" fill="none" stroke="#f0262a" stroke-width="0.9"/>
<text x="409.3" y="283.7" font-size="5.2" text-anchor="middle" font-weight="bold" fill="#f0262a">14870</text>
<line x1="420.4" y1="302.79" x2="431.4" y2="302.79" stroke="#231f20" stroke-width="0.9"/>
<line x1="425.9" y1="298.02" x2="425.9" y2="308.01" stroke="#231f20" stroke-width="0.8"/>
<line x1="422.7" y1="298.02" x2="429.1" y2="298.02" stroke="#231f20" stroke-width="0.8"/>
<line x1="422.7" y1="308.01" x2="429.1" y2="308.01" stroke="#231f20" stroke-width="0.8"/>
<rect x="424.57" y="301.58" width="2.66" height="2.66" fill="none" stroke="#3a9a3a" stroke-width="0.9"/>
<rect x="427.57" y="300.36" width="2.66" height="2.66" fill="none" stroke="#3a9a3a" stroke-width="0.9"/>
<rect x="421.57" y="303.31" width="2.66" height="2.66" fill="none" stroke="#3a9a3a" stroke-width="0.9"/>
<rect x="421.57" y="299.38" width="2.66" height="2.66" fill="none" stroke="#3a9a3a" stroke-width="0.9"/>
<rect x="424.57" y="297.84" width="2.66" height="2.66" fill="none" stroke="#3a9a3a" stroke-width="0.9"/>
<rect x="427.57" y="305.11" width="2.66" height="2.66" fill="none" stroke="#3a9a3a" stroke-width="0.9"/>
<rect x="427.57" y="297.09" width="2.66" height="2.66" fill="none" stroke="#3a9a3a" stroke-width="0.9"/>
<rect x="421.57" y="307.17" width="2.66" height="2.66" fill="none" stroke="#3a9a3a" stroke-width="0.9"/>
<rect x="424.57" y="293.77" width="2.66" height="2.66" fill="none" stroke="#3a9a3a" stroke-width="0.9"/>
<rect x="424.57" y="309.87" width="2.66" height="2.66" fill="none" stroke="#3a9a3a" stroke-width="0.9"/>
<text x="425.9" y="290.4" font-size="5.2" text-anchor="middle" font-weight="bold" fill="#3a9a3a">12842</text>
<line x1="437" y1="313.96" x2="448" y2="313.96" stroke="#231f20" stroke-width="0.9"/>
<line x1="442.5" y1="304.07" x2="442.5" y2="324.65" stroke="#231f20" stroke-width="0.8"/>
<line x1="439.3" y1="304.07" x2="445.7" y2="304.07" stroke="#231f20" stroke-width="0.8"/>
<line x1="439.3" y1="324.65" x2="445.7" y2="324.65" stroke="#231f20" stroke-width="0.8"/>
<polygon points="442.5,310.94 444.11,313.76 440.89,313.76" fill="none" stroke="#2b2bf0" stroke-width="0.9"/>
<polygon points="445.5,313.81 447.11,316.63 443.89,316.63" fill="none" stroke="#2b2bf0" stroke-width="0.9"/>
<polygon points="439.5,316.16 441.11,318.98 437.89,318.98" fill="none" stroke="#2b2bf0" stroke-width="0.9"/>
<polygon points="445.5,308.53 447.11,311.35 443.89,311.35" fill="none" stroke="#2b2bf0" stroke-width="0.9"/>
<polygon points="439.5,306.08 441.11,308.9 437.89,308.9" fill="none" stroke="#2b2bf0" stroke-width="0.9"/>
<polygon points="442.5,319.89 444.11,322.71 440.89,322.71" fill="none" stroke="#2b2bf0" stroke-width="0.9"/>
<polygon points="442.5,302.4 444.11,305.22 440.89,305.22" fill="none" stroke="#2b2bf0" stroke-width="0.9"/>
<polygon points="445.5,323.33 447.11,326.15 443.89,326.15" fill="none" stroke="#2b2bf0" stroke-width="0.9"/>
<polygon points="442.5,296.39 444.11,299.21 440.89,299.21" fill="none" stroke="#2b2bf0" stroke-width="0.9"/>
<polygon points="442.5,329.59 444.11,332.41 440.89,332.41" fill="none" stroke="#2b2bf0" stroke-width="0.9"/>
<text x="442.5" y="294.2" font-size="5.2" text-anchor="middle" font-weight="bold" fill="#2b2bf0">4910</text>
<line x1="453.6" y1="303.82" x2="464.6" y2="303.82" stroke="#231f20" stroke-width="0.9"/>
<line x1="459.1" y1="297.24" x2="459.1" y2="311.93" stroke="#231f20" stroke-width="0.8"/>
<line x1="455.9" y1="297.24" x2="462.3" y2="297.24" stroke="#231f20" stroke-width="0.8"/>
<line x1="455.9" y1="311.93" x2="462.3" y2="311.93" stroke="#231f20" stroke-width="0.8"/>
<polygon points="459.1,306.19 460.71,303.37 457.49,303.37" fill="none" stroke="#d8358c" stroke-width="0.9"/>
<polygon points="462.1,304.4 463.71,301.58 460.49,301.58" fill="none" stroke="#d8358c" stroke-width="0.9"/>
<polygon points="456.1,302.6 457.71,299.79 454.49,299.79" fill="none" stroke="#d8358c" stroke-width="0.9"/>
<polygon points="462.1,308.33 463.71,305.51 460.49,305.51" fill="none" stroke="#d8358c" stroke-width="0.9"/>
<polygon points="462.1,300.79 463.71,297.97 460.49,297.97" fill="none" stroke="#d8358c" stroke-width="0.9"/>
<polygon points="459.1,311.1 460.71,308.28 457.49,308.28" fill="none" stroke="#d8358c" stroke-width="0.9"/>
<polygon points="456.1,298.38 457.71,295.56 454.49,295.56" fill="none" stroke="#d8358c" stroke-width="0.9"/>
<polygon points="462.1,313.63 463.71,310.82 460.49,310.82" fill="none" stroke="#d8358c" stroke-width="0.9"/>
<polygon points="459.1,294.81 460.71,291.99 457.49,291.99" fill="none" stroke="#d8358c" stroke-width="0.9"/>
<polygon points="459.1,318.51 460.71,315.69 457.49,315.69" fill="none" stroke="#d8358c" stroke-width="0.9"/>
<text x="459.1" y="289.4" font-size="5.2" text-anchor="middle" font-weight="bold" fill="#d8358c">11758</text>
<line x1="470.2" y1="324.96" x2="481.2" y2="324.96" stroke="#231f20" stroke-width="0.9"/>
<line x1="475.7" y1="322.07" x2="475.7" y2="332.92" stroke="#231f20" stroke-width="0.8"/>
<line x1="472.5" y1="322.07" x2="478.9" y2="322.07" stroke="#231f20" stroke-width="0.8"/>
<line x1="472.5" y1="332.92" x2="478.9" y2="332.92" stroke="#231f20" stroke-width="0.8"/>
<polygon points="475.7,322.62 477.31,324.23 475.7,325.84 474.09,324.23" fill="none" stroke="#a07f45" stroke-width="0.9"/>
<polygon points="478.7,322.06 480.31,323.67 478.7,325.28 477.09,323.67" fill="none" stroke="#a07f45" stroke-width="0.9"/>
<polygon points="472.7,321.98 474.31,323.59 472.7,325.2 471.09,323.59" fill="none" stroke="#a07f45" stroke-width="0.9"/>
<polygon points="472.7,324.86 474.31,326.47 472.7,328.08 471.09,326.47" fill="none" stroke="#a07f45" stroke-width="0.9"/>
<polygon points="478.7,325.86 480.31,327.47 478.7,329.08 477.09,327.47" fill="none" stroke="#a07f45" stroke-width="0.9"/>
<polygon points="475.7,319.92 477.31,321.53 475.7,323.14 474.09,321.53" fill="none" stroke="#a07f45" stroke-width="0.9"/>
<polygon points="478.7,318.69 480.31,320.3 478.7,321.91 477.09,320.3" fill="none" stroke="#a07f45" stroke-width="0.9"/>
<polygon points="475.7,328.88 477.31,330.49 475.7,332.1 474.09,330.49" fill="none" stroke="#a07f45" stroke-width="0.9"/>
<polygon points="478.7,331.31 480.31,332.92 478.7,334.53 477.09,332.92" fill="none" stroke="#a07f45" stroke-width="0.9"/>
<polygon points="475.7,336.19 477.31,337.8 475.7,339.41 474.09,337.8" fill="none" stroke="#a07f45" stroke-width="0.9"/>
<text x="475.7" y="315" font-size="5.2" text-anchor="middle" font-weight="bold" fill="#a07f45">1906</text>
<line x1="486.8" y1="319.13" x2="497.8" y2="319.13" stroke="#231f20" stroke-width="0.9"/>
<line x1="492.3" y1="311.61" x2="492.3" y2="325.99" stroke="#231f20" stroke-width="0.8"/>
<line x1="489.1" y1="311.61" x2="495.5" y2="311.61" stroke="#231f20" stroke-width="0.8"/>
<line x1="489.1" y1="325.99" x2="495.5" y2="325.99" stroke="#231f20" stroke-width="0.8"/>
<polygon points="493.7,319.75 493,320.96 491.6,320.96 490.9,319.75 491.6,318.54 493,318.54" fill="none" stroke="#8e3ad0" stroke-width="0.9"/>
<polygon points="496.7,317.69 496,318.9 494.6,318.9 493.9,317.69 494.6,316.48 496,316.48" fill="none" stroke="#8e3ad0" stroke-width="0.9"/>
<polygon points="496.7,321.57 496,322.78 494.6,322.78 493.9,321.57 494.6,320.36 496,320.36" fill="none" stroke="#8e3ad0" stroke-width="0.9"/>
<polygon points="490.7,316.5 490,317.71 488.6,317.71 487.9,316.5 488.6,315.29 490,315.29" fill="none" stroke="#8e3ad0" stroke-width="0.9"/>
<polygon points="493.7,324.23 493,325.44 491.6,325.44 490.9,324.23 491.6,323.01 493,323.01" fill="none" stroke="#8e3ad0" stroke-width="0.9"/>
<polygon points="493.7,313.62 493,314.83 491.6,314.83 490.9,313.62 491.6,312.41 493,312.41" fill="none" stroke="#8e3ad0" stroke-width="0.9"/>
<polygon points="496.7,325.6 496,326.81 494.6,326.81 493.9,325.6 494.6,324.39 496,324.39" fill="none" stroke="#8e3ad0" stroke-width="0.9"/>
<polygon points="496.7,311.25 496,312.46 494.6,312.46 493.9,311.25 494.6,310.03 496,310.03" fill="none" stroke="#8e3ad0" stroke-width="0.9"/>
<polygon points="493.7,330.2 493,331.41 491.6,331.41 490.9,330.2 491.6,328.99 493,328.99" fill="none" stroke="#8e3ad0" stroke-width="0.9"/>
<polygon points="493.7,307 493,308.21 491.6,308.21 490.9,307 491.6,305.79 493,305.79" fill="none" stroke="#8e3ad0" stroke-width="0.9"/>
<text x="492.3" y="304" font-size="5.2" text-anchor="middle" font-weight="bold" fill="#8e3ad0">3148</text>
<line x1="503.4" y1="296.57" x2="514.4" y2="296.57" stroke="#231f20" stroke-width="0.9"/>
<line x1="508.9" y1="289.21" x2="508.9" y2="301.92" stroke="#231f20" stroke-width="0.8"/>
<line x1="505.7" y1="289.21" x2="512.1" y2="289.21" stroke="#231f20" stroke-width="0.8"/>
<line x1="505.7" y1="301.92" x2="512.1" y2="301.92" stroke="#231f20" stroke-width="0.8"/>
<polygon points="508.9,295.64 510.51,297.25 508.9,298.86 507.29,297.25" fill="none" stroke="#f0702a" stroke-width="0.9"/>
<polygon points="511.9,293.91 513.51,295.52 511.9,297.13 510.29,295.52" fill="none" stroke="#f0702a" stroke-width="0.9"/>
<polygon points="505.9,297.27 507.51,298.88 505.9,300.49 504.29,298.88" fill="none" stroke="#f0702a" stroke-width="0.9"/>
<polygon points="505.9,291.87 507.51,293.48 505.9,295.09 504.29,293.48" fill="none" stroke="#f0702a" stroke-width="0.9"/>
<polygon points="511.9,298.17 513.51,299.78 511.9,301.39 510.29,299.78" fill="none" stroke="#f0702a" stroke-width="0.9"/>
<polygon points="511.9,289.81 513.51,291.42 511.9,293.03 510.29,291.42" fill="none" stroke="#f0702a" stroke-width="0.9"/>
<polygon points="508.9,300.91 510.51,302.52 508.9,304.13 507.29,302.52" fill="none" stroke="#f0702a" stroke-width="0.9"/>
<polygon points="508.9,287.11 510.51,288.72 508.9,290.33 507.29,288.72" fill="none" stroke="#f0702a" stroke-width="0.9"/>
<polygon points="511.9,303.59 513.51,305.2 511.9,306.81 510.29,305.2" fill="none" stroke="#f0702a" stroke-width="0.9"/>
<polygon points="508.9,283.09 510.51,284.7 508.9,286.31 507.29,284.7" fill="none" stroke="#f0702a" stroke-width="0.9"/>
<text x="508.9" y="280.9" font-size="5.2" text-anchor="middle" font-weight="bold" fill="#f0702a">21936</text>
<line x1="226.3" y1="288.4" x2="242.9" y2="288.4" stroke="#333" stroke-width="0.85"/>
<text x="234.6" y="282.7" font-size="4.5" text-anchor="middle" fill="#231f20">0.0123</text>
<polygon points="234.6,284.1 235.07,285.05 236.12,285.21 235.36,285.95 235.54,286.99 234.6,286.5 233.66,286.99 233.84,285.95 233.08,285.21 234.13,285.05" fill="#231f20"/>
<line x1="243.5" y1="281.9" x2="275.7" y2="281.9" stroke="#333" stroke-width="0.85"/>
<text x="259.6" y="276.2" font-size="4.5" text-anchor="middle" fill="#231f20">&lt;0.0001</text>
<polygon points="255.1,277.6 255.57,278.55 256.62,278.71 255.86,279.45 256.04,280.49 255.1,280 254.16,280.49 254.34,279.45 253.58,278.71 254.63,278.55" fill="#231f20"/>
<polygon points="258.1,277.6 258.57,278.55 259.62,278.71 258.86,279.45 259.04,280.49 258.1,280 257.16,280.49 257.34,279.45 256.58,278.71 257.63,278.55" fill="#231f20"/>
<polygon points="261.1,277.6 261.57,278.55 262.62,278.71 261.86,279.45 262.04,280.49 261.1,280 260.16,280.49 260.34,279.45 259.58,278.71 260.63,278.55" fill="#231f20"/>
<polygon points="264.1,277.6 264.57,278.55 265.62,278.71 264.86,279.45 265.04,280.49 264.1,280 263.16,280.49 263.34,279.45 262.58,278.71 263.63,278.55" fill="#231f20"/>
<line x1="292.9" y1="276.1" x2="392.9" y2="276.1" stroke="#333" stroke-width="0.9"/>
<text x="346.4" y="274.2" font-size="9" text-anchor="middle" fill="#231f20">ns</text>
<line x1="408.3" y1="273.7" x2="508.5" y2="273.7" stroke="#333" stroke-width="0.9"/>
<text x="460.5" y="271.8" font-size="9" text-anchor="middle" fill="#231f20">ns</text>
<text x="523.6" y="260.9" font-size="16" fill="#231f20">e</text>
<text x="539.3" y="260.1" font-size="9.32" fill="#231f20">Neutralization against hMPV</text>
<line x1="562.9" y1="279.7" x2="562.9" y2="358.4" stroke="#231f20" stroke-width="0.9"/>
<line x1="562.9" y1="358.4" x2="683.9" y2="358.4" stroke="#231f20" stroke-width="0.9"/>
<line x1="557.9" y1="358.4" x2="562.9" y2="358.4" stroke="#231f20" stroke-width="0.9"/>
<line x1="557.9" y1="332.3" x2="562.9" y2="332.3" stroke="#231f20" stroke-width="0.9"/>
<line x1="557.9" y1="306.2" x2="562.9" y2="306.2" stroke="#231f20" stroke-width="0.9"/>
<line x1="557.9" y1="280.1" x2="562.9" y2="280.1" stroke="#231f20" stroke-width="0.9"/>
<line x1="573.5" y1="358.4" x2="573.5" y2="363.4" stroke="#231f20" stroke-width="0.9"/>
<line x1="589.9" y1="358.4" x2="589.9" y2="363.4" stroke="#231f20" stroke-width="0.9"/>
<line x1="606.3" y1="358.4" x2="606.3" y2="363.4" stroke="#231f20" stroke-width="0.9"/>
<line x1="622.7" y1="358.4" x2="622.7" y2="363.4" stroke="#231f20" stroke-width="0.9"/>
<line x1="639.1" y1="358.4" x2="639.1" y2="363.4" stroke="#231f20" stroke-width="0.9"/>
<line x1="655.5" y1="358.4" x2="655.5" y2="363.4" stroke="#231f20" stroke-width="0.9"/>
<line x1="671.9" y1="358.4" x2="671.9" y2="363.4" stroke="#231f20" stroke-width="0.9"/>
<text x="557.2" y="361.8" font-size="9.3" text-anchor="end" fill="#231f20">10<tspan dy="-3.07" font-size="4.93">2</tspan></text>
<text x="557.2" y="335.7" font-size="9.3" text-anchor="end" fill="#231f20">10<tspan dy="-3.07" font-size="4.93">3</tspan></text>
<text x="557.2" y="309.6" font-size="9.3" text-anchor="end" fill="#231f20">10<tspan dy="-3.07" font-size="4.93">4</tspan></text>
<text x="557.2" y="283.5" font-size="9.3" text-anchor="end" fill="#231f20">10<tspan dy="-3.07" font-size="4.93">5</tspan></text>
<text x="0" y="0" font-size="9.65" text-anchor="middle" fill="#231f20" transform="translate(535.4,321) rotate(-90)">ID<tspan font-size="6.95" dy="1.93">50</tspan><tspan dy="-1.93"> titer</tspan></text>
<line x1="568.2" y1="369.3" x2="606.3" y2="369.3" stroke="#333" stroke-width="1.15"/>
<line x1="640.5" y1="369.3" x2="674.2" y2="369.3" stroke="#333" stroke-width="1.15"/>
<text x="620" y="371.7" font-size="6.6" text-anchor="middle" fill="#231f20">W11</text>
<circle cx="568.9" cy="358.4" r="1.4" fill="none" stroke="#f0262a" stroke-width="1.0"/>
<circle cx="570.05" cy="358.4" r="1.4" fill="none" stroke="#f0262a" stroke-width="1.0"/>
<circle cx="571.2" cy="358.4" r="1.4" fill="none" stroke="#f0262a" stroke-width="1.0"/>
<circle cx="572.35" cy="358.4" r="1.4" fill="none" stroke="#f0262a" stroke-width="1.0"/>
<circle cx="573.5" cy="358.4" r="1.4" fill="none" stroke="#f0262a" stroke-width="1.0"/>
<circle cx="574.65" cy="358.4" r="1.4" fill="none" stroke="#f0262a" stroke-width="1.0"/>
<circle cx="575.8" cy="358.4" r="1.4" fill="none" stroke="#f0262a" stroke-width="1.0"/>
<circle cx="576.95" cy="358.4" r="1.4" fill="none" stroke="#f0262a" stroke-width="1.0"/>
<circle cx="578.1" cy="358.4" r="1.4" fill="none" stroke="#f0262a" stroke-width="1.0"/>
<rect x="583.97" y="357.07" width="2.66" height="2.66" fill="none" stroke="#3a9a3a" stroke-width="1.0"/>
<rect x="585.12" y="357.07" width="2.66" height="2.66" fill="none" stroke="#3a9a3a" stroke-width="1.0"/>
<rect x="586.27" y="357.07" width="2.66" height="2.66" fill="none" stroke="#3a9a3a" stroke-width="1.0"/>
<rect x="587.42" y="357.07" width="2.66" height="2.66" fill="none" stroke="#3a9a3a" stroke-width="1.0"/>
<rect x="588.57" y="357.07" width="2.66" height="2.66" fill="none" stroke="#3a9a3a" stroke-width="1.0"/>
<rect x="589.72" y="357.07" width="2.66" height="2.66" fill="none" stroke="#3a9a3a" stroke-width="1.0"/>
<rect x="590.87" y="357.07" width="2.66" height="2.66" fill="none" stroke="#3a9a3a" stroke-width="1.0"/>
<rect x="592.02" y="357.07" width="2.66" height="2.66" fill="none" stroke="#3a9a3a" stroke-width="1.0"/>
<rect x="593.17" y="357.07" width="2.66" height="2.66" fill="none" stroke="#3a9a3a" stroke-width="1.0"/>
<polygon points="601.7,356.79 603.31,359.61 600.09,359.61" fill="none" stroke="#2b2bf0" stroke-width="1.0"/>
<polygon points="602.85,356.79 604.46,359.61 601.24,359.61" fill="none" stroke="#2b2bf0" stroke-width="1.0"/>
<polygon points="604,356.79 605.61,359.61 602.39,359.61" fill="none" stroke="#2b2bf0" stroke-width="1.0"/>
<polygon points="605.15,356.79 606.76,359.61 603.54,359.61" fill="none" stroke="#2b2bf0" stroke-width="1.0"/>
<polygon points="606.3,356.79 607.91,359.61 604.69,359.61" fill="none" stroke="#2b2bf0" stroke-width="1.0"/>
<polygon points="607.45,356.79 609.06,359.61 605.84,359.61" fill="none" stroke="#2b2bf0" stroke-width="1.0"/>
<polygon points="608.6,356.79 610.21,359.61 606.99,359.61" fill="none" stroke="#2b2bf0" stroke-width="1.0"/>
<polygon points="609.75,356.79 611.36,359.61 608.14,359.61" fill="none" stroke="#2b2bf0" stroke-width="1.0"/>
<polygon points="610.9,356.79 612.51,359.61 609.29,359.61" fill="none" stroke="#2b2bf0" stroke-width="1.0"/>
<polygon points="618.1,360.01 619.71,357.19 616.49,357.19" fill="none" stroke="#d8358c" stroke-width="1.0"/>
<polygon points="619.25,360.01 620.86,357.19 617.64,357.19" fill="none" stroke="#d8358c" stroke-width="1.0"/>
<polygon points="620.4,360.01 622.01,357.19 618.79,357.19" fill="none" stroke="#d8358c" stroke-width="1.0"/>
<polygon points="621.55,360.01 623.16,357.19 619.94,357.19" fill="none" stroke="#d8358c" stroke-width="1.0"/>
<polygon points="622.7,360.01 624.31,357.19 621.09,357.19" fill="none" stroke="#d8358c" stroke-width="1.0"/>
<polygon points="623.85,360.01 625.46,357.19 622.24,357.19" fill="none" stroke="#d8358c" stroke-width="1.0"/>
<polygon points="625,360.01 626.61,357.19 623.39,357.19" fill="none" stroke="#d8358c" stroke-width="1.0"/>
<polygon points="626.15,360.01 627.76,357.19 624.54,357.19" fill="none" stroke="#d8358c" stroke-width="1.0"/>
<polygon points="627.3,360.01 628.91,357.19 625.69,357.19" fill="none" stroke="#d8358c" stroke-width="1.0"/>
<polygon points="634.5,356.79 636.11,358.4 634.5,360.01 632.89,358.4" fill="none" stroke="#a07f45" stroke-width="1.0"/>
<polygon points="635.65,356.79 637.26,358.4 635.65,360.01 634.04,358.4" fill="none" stroke="#a07f45" stroke-width="1.0"/>
<polygon points="636.8,356.79 638.41,358.4 636.8,360.01 635.19,358.4" fill="none" stroke="#a07f45" stroke-width="1.0"/>
<polygon points="637.95,356.79 639.56,358.4 637.95,360.01 636.34,358.4" fill="none" stroke="#a07f45" stroke-width="1.0"/>
<polygon points="639.1,356.79 640.71,358.4 639.1,360.01 637.49,358.4" fill="none" stroke="#a07f45" stroke-width="1.0"/>
<polygon points="640.25,356.79 641.86,358.4 640.25,360.01 638.64,358.4" fill="none" stroke="#a07f45" stroke-width="1.0"/>
<polygon points="641.4,356.79 643.01,358.4 641.4,360.01 639.79,358.4" fill="none" stroke="#a07f45" stroke-width="1.0"/>
<polygon points="642.55,356.79 644.16,358.4 642.55,360.01 640.94,358.4" fill="none" stroke="#a07f45" stroke-width="1.0"/>
<polygon points="643.7,356.79 645.31,358.4 643.7,360.01 642.09,358.4" fill="none" stroke="#a07f45" stroke-width="1.0"/>
<polygon points="652.3,358.4 651.6,359.61 650.2,359.61 649.5,358.4 650.2,357.19 651.6,357.19" fill="none" stroke="#8e3ad0" stroke-width="1.0"/>
<polygon points="653.45,358.4 652.75,359.61 651.35,359.61 650.65,358.4 651.35,357.19 652.75,357.19" fill="none" stroke="#8e3ad0" stroke-width="1.0"/>
<polygon points="654.6,358.4 653.9,359.61 652.5,359.61 651.8,358.4 652.5,357.19 653.9,357.19" fill="none" stroke="#8e3ad0" stroke-width="1.0"/>
<polygon points="655.75,358.4 655.05,359.61 653.65,359.61 652.95,358.4 653.65,357.19 655.05,357.19" fill="none" stroke="#8e3ad0" stroke-width="1.0"/>
<polygon points="656.9,358.4 656.2,359.61 654.8,359.61 654.1,358.4 654.8,357.19 656.2,357.19" fill="none" stroke="#8e3ad0" stroke-width="1.0"/>
<polygon points="658.05,358.4 657.35,359.61 655.95,359.61 655.25,358.4 655.95,357.19 657.35,357.19" fill="none" stroke="#8e3ad0" stroke-width="1.0"/>
<polygon points="659.2,358.4 658.5,359.61 657.1,359.61 656.4,358.4 657.1,357.19 658.5,357.19" fill="none" stroke="#8e3ad0" stroke-width="1.0"/>
<polygon points="660.35,358.4 659.65,359.61 658.25,359.61 657.55,358.4 658.25,357.19 659.65,357.19" fill="none" stroke="#8e3ad0" stroke-width="1.0"/>
<polygon points="661.5,358.4 660.8,359.61 659.4,359.61 658.7,358.4 659.4,357.19 660.8,357.19" fill="none" stroke="#8e3ad0" stroke-width="1.0"/>
<polygon points="667.3,356.79 668.91,358.4 667.3,360.01 665.69,358.4" fill="none" stroke="#f0702a" stroke-width="1.0"/>
<polygon points="668.45,356.79 670.06,358.4 668.45,360.01 666.84,358.4" fill="none" stroke="#f0702a" stroke-width="1.0"/>
<polygon points="669.6,356.79 671.21,358.4 669.6,360.01 667.99,358.4" fill="none" stroke="#f0702a" stroke-width="1.0"/>
<polygon points="670.75,356.79 672.36,358.4 670.75,360.01 669.14,358.4" fill="none" stroke="#f0702a" stroke-width="1.0"/>
<polygon points="671.9,356.79 673.51,358.4 671.9,360.01 670.29,358.4" fill="none" stroke="#f0702a" stroke-width="1.0"/>
<polygon points="673.05,356.79 674.66,358.4 673.05,360.01 671.44,358.4" fill="none" stroke="#f0702a" stroke-width="1.0"/>
<polygon points="674.2,356.79 675.81,358.4 674.2,360.01 672.59,358.4" fill="none" stroke="#f0702a" stroke-width="1.0"/>
<polygon points="675.35,356.79 676.96,358.4 675.35,360.01 673.74,358.4" fill="none" stroke="#f0702a" stroke-width="1.0"/>
<polygon points="676.5,356.79 678.11,358.4 676.5,360.01 674.89,358.4" fill="none" stroke="#f0702a" stroke-width="1.0"/>
<polygon points="656.9,325.2 656.2,326.41 654.8,326.41 654.1,325.2 654.8,323.99 656.2,323.99" fill="none" stroke="#8e3ad0" stroke-width="0.9"/>
<polygon points="655.4,333.1 654.7,334.31 653.3,334.31 652.6,333.1 653.3,331.89 654.7,331.89" fill="none" stroke="#8e3ad0" stroke-width="0.9"/>
<polygon points="658.4,333.5 657.7,334.71 656.3,334.71 655.6,333.5 656.3,332.29 657.7,332.29" fill="none" stroke="#8e3ad0" stroke-width="0.9"/>
<polygon points="656.9,341 656.2,342.21 654.8,342.21 654.1,341 654.8,339.79 656.2,339.79" fill="none" stroke="#8e3ad0" stroke-width="0.9"/>
<line x1="655.5" y1="333" x2="655.5" y2="358.4" stroke="#8e3ad0" stroke-width="0.9"/>
<line x1="650.5" y1="348.3" x2="660.5" y2="348.3" stroke="#231f20" stroke-width="0.9"/>
<text x="3" y="402.1" font-size="16" fill="#231f20">f</text>
<text x="21.8" y="400.2" font-size="9.32" fill="#231f20">hMPV-F trimer vaccine-induced binding antibody responses</text>
<text x="21.8" y="415.4" font-size="8.0" fill="#231f20">Coated with MPE8-purified hMPV-F UFC<tspan font-size="5.2" dy="1.8">M1</tspan><tspan dy="-1.8">-P2-iSS(1TD0)</tspan></text>
<line x1="21.8" y1="417.8" x2="227" y2="417.8" stroke="#666" stroke-width="0.8"/>
<line x1="49" y1="428" x2="49" y2="508.2" stroke="#231f20" stroke-width="0.9"/>
<line x1="49" y1="508.2" x2="387" y2="508.2" stroke="#231f20" stroke-width="0.9"/>
<line x1="44" y1="508.2" x2="49" y2="508.2" stroke="#231f20" stroke-width="0.9"/>
<line x1="44" y1="488.25" x2="49" y2="488.25" stroke="#231f20" stroke-width="0.9"/>
<line x1="44" y1="468.3" x2="49" y2="468.3" stroke="#231f20" stroke-width="0.9"/>
<line x1="44" y1="448.35" x2="49" y2="448.35" stroke="#231f20" stroke-width="0.9"/>
<line x1="44" y1="428.4" x2="49" y2="428.4" stroke="#231f20" stroke-width="0.9"/>
<line x1="66.4" y1="508.2" x2="66.4" y2="513.2" stroke="#231f20" stroke-width="0.9"/>
<line x1="93.9" y1="508.2" x2="93.9" y2="513.2" stroke="#231f20" stroke-width="0.9"/>
<line x1="121.4" y1="508.2" x2="121.4" y2="513.2" stroke="#231f20" stroke-width="0.9"/>
<line x1="148.9" y1="508.2" x2="148.9" y2="513.2" stroke="#231f20" stroke-width="0.9"/>
<line x1="176.4" y1="508.2" x2="176.4" y2="513.2" stroke="#231f20" stroke-width="0.9"/>
<line x1="203.9" y1="508.2" x2="203.9" y2="513.2" stroke="#231f20" stroke-width="0.9"/>
<line x1="231.4" y1="508.2" x2="231.4" y2="513.2" stroke="#231f20" stroke-width="0.9"/>
<line x1="258.9" y1="508.2" x2="258.9" y2="513.2" stroke="#231f20" stroke-width="0.9"/>
<line x1="286.4" y1="508.2" x2="286.4" y2="513.2" stroke="#231f20" stroke-width="0.9"/>
<line x1="313.9" y1="508.2" x2="313.9" y2="513.2" stroke="#231f20" stroke-width="0.9"/>
<line x1="341.4" y1="508.2" x2="341.4" y2="513.2" stroke="#231f20" stroke-width="0.9"/>
<line x1="368.9" y1="508.2" x2="368.9" y2="513.2" stroke="#231f20" stroke-width="0.9"/>
<text x="43.3" y="511.6" font-size="9.3" text-anchor="end" fill="#231f20">10<tspan dy="-3.07" font-size="4.93">1</tspan></text>
<text x="43.3" y="491.65" font-size="9.3" text-anchor="end" fill="#231f20">10<tspan dy="-3.07" font-size="4.93">2</tspan></text>
<text x="43.3" y="471.7" font-size="9.3" text-anchor="end" fill="#231f20">10<tspan dy="-3.07" font-size="4.93">3</tspan></text>
<text x="43.3" y="451.75" font-size="9.3" text-anchor="end" fill="#231f20">10<tspan dy="-3.07" font-size="4.93">4</tspan></text>
<text x="43.3" y="431.8" font-size="9.3" text-anchor="end" fill="#231f20">10<tspan dy="-3.07" font-size="4.93">5</tspan></text>
<text x="0" y="0" font-size="9.65" text-anchor="middle" fill="#231f20" transform="translate(20.9,469) rotate(-90)">EC<tspan font-size="6.95" dy="1.93">50</tspan><tspan dy="-1.93"> titer</tspan></text>
<line x1="135.2" y1="428.5" x2="135.2" y2="508.2" stroke="#333" stroke-width="0.9" stroke-dasharray="2.6,1.5"/>
<line x1="217.7" y1="428.5" x2="217.7" y2="508.2" stroke="#333" stroke-width="0.9" stroke-dasharray="2.6,1.5"/>
<line x1="300.2" y1="428.5" x2="300.2" y2="508.2" stroke="#333" stroke-width="0.9" stroke-dasharray="2.6,1.5"/>
<line x1="56.9" y1="518.3" x2="78.7" y2="518.3" stroke="#333" stroke-width="1.15"/>
<line x1="109.1" y1="518.3" x2="131" y2="518.3" stroke="#333" stroke-width="1.15"/>
<text x="93.9" y="520.7" font-size="6.6" text-anchor="middle" fill="#231f20">W2</text>
<line x1="139.9" y1="518.3" x2="161.7" y2="518.3" stroke="#333" stroke-width="1.15"/>
<line x1="191.2" y1="518.3" x2="211" y2="518.3" stroke="#333" stroke-width="1.15"/>
<text x="176.4" y="520.7" font-size="6.6" text-anchor="middle" fill="#231f20">W5</text>
<line x1="222.4" y1="518.3" x2="243.5" y2="518.3" stroke="#8c8c8c" stroke-width="1.15"/>
<line x1="274" y1="518.3" x2="293.9" y2="518.3" stroke="#8c8c8c" stroke-width="1.15"/>
<text x="258.9" y="520.7" font-size="6.6" text-anchor="middle" fill="#231f20">W8</text>
<line x1="303.1" y1="518.3" x2="323.7" y2="518.3" stroke="#333" stroke-width="1.15"/>
<line x1="357" y1="518.3" x2="374.3" y2="518.3" stroke="#333" stroke-width="1.15"/>
<text x="341.4" y="520.7" font-size="6.6" text-anchor="middle" fill="#231f20">W11</text>
<line x1="57.9" y1="491.46" x2="74.9" y2="491.46" stroke="#231f20" stroke-width="0.9"/>
<line x1="66.4" y1="485.61" x2="66.4" y2="498.09" stroke="#231f20" stroke-width="0.8"/>
<line x1="61.9" y1="485.61" x2="70.9" y2="485.61" stroke="#231f20" stroke-width="0.8"/>
<line x1="61.9" y1="498.09" x2="70.9" y2="498.09" stroke="#231f20" stroke-width="0.8"/>
<circle cx="66.4" cy="491.08" r="1.4" fill="none" stroke="#f0262a" stroke-width="0.9"/>
<circle cx="74.8" cy="492.25" r="1.4" fill="none" stroke="#f0262a" stroke-width="0.9"/>
<circle cx="58" cy="488.96" r="1.4" fill="none" stroke="#f0262a" stroke-width="0.9"/>
<circle cx="58" cy="494.18" r="1.4" fill="none" stroke="#f0262a" stroke-width="0.9"/>
<circle cx="70.6" cy="495.57" r="1.4" fill="none" stroke="#f0262a" stroke-width="0.9"/>
<circle cx="70.6" cy="486.88" r="1.4" fill="none" stroke="#f0262a" stroke-width="0.9"/>
<circle cx="62.2" cy="485.09" r="1.4" fill="none" stroke="#f0262a" stroke-width="0.9"/>
<circle cx="62.2" cy="498.38" r="1.4" fill="none" stroke="#f0262a" stroke-width="0.9"/>
<circle cx="74.8" cy="481.7" r="1.4" fill="none" stroke="#f0262a" stroke-width="0.9"/>
<circle cx="66.4" cy="502.5" r="1.4" fill="none" stroke="#f0262a" stroke-width="0.9"/>
<text x="66.4" y="477.9" font-size="5.2" text-anchor="middle" font-weight="bold" fill="#f0262a">69</text>
<line x1="85.4" y1="483.16" x2="102.4" y2="483.16" stroke="#231f20" stroke-width="0.9"/>
<line x1="93.9" y1="480.78" x2="93.9" y2="486" stroke="#231f20" stroke-width="0.8"/>
<line x1="89.4" y1="480.78" x2="98.4" y2="480.78" stroke="#231f20" stroke-width="0.8"/>
<line x1="89.4" y1="486" x2="98.4" y2="486" stroke="#231f20" stroke-width="0.8"/>
<rect x="92.57" y="482.41" width="2.66" height="2.66" fill="none" stroke="#3a9a3a" stroke-width="0.9"/>
<rect x="100.97" y="481.2" width="2.66" height="2.66" fill="none" stroke="#3a9a3a" stroke-width="0.9"/>
<rect x="84.17" y="482.66" width="2.66" height="2.66" fill="none" stroke="#3a9a3a" stroke-width="0.9"/>
<rect x="88.37" y="480.84" width="2.66" height="2.66" fill="none" stroke="#3a9a3a" stroke-width="0.9"/>
<rect x="96.77" y="480.2" width="2.66" height="2.66" fill="none" stroke="#3a9a3a" stroke-width="0.9"/>
<rect x="84.17" y="479.68" width="2.66" height="2.66" fill="none" stroke="#3a9a3a" stroke-width="0.9"/>
<rect x="96.77" y="484.33" width="2.66" height="2.66" fill="none" stroke="#3a9a3a" stroke-width="0.9"/>
<rect x="88.37" y="484.53" width="2.66" height="2.66" fill="none" stroke="#3a9a3a" stroke-width="0.9"/>
<rect x="92.57" y="477.87" width="2.66" height="2.66" fill="none" stroke="#3a9a3a" stroke-width="0.9"/>
<rect x="100.97" y="486.57" width="2.66" height="2.66" fill="none" stroke="#3a9a3a" stroke-width="0.9"/>
<text x="93.9" y="475.4" font-size="5.2" text-anchor="middle" font-weight="bold" fill="#3a9a3a">180</text>
<line x1="112.9" y1="492.97" x2="129.9" y2="492.97" stroke="#231f20" stroke-width="0.9"/>
<line x1="121.4" y1="488.49" x2="121.4" y2="498.69" stroke="#231f20" stroke-width="0.8"/>
<line x1="116.9" y1="488.49" x2="125.9" y2="488.49" stroke="#231f20" stroke-width="0.8"/>
<line x1="116.9" y1="498.69" x2="125.9" y2="498.69" stroke="#231f20" stroke-width="0.8"/>
<polygon points="121.4,491.56 123.01,494.38 119.79,494.38" fill="none" stroke="#2b2bf0" stroke-width="0.9"/>
<polygon points="129.8,490.39 131.41,493.21 128.19,493.21" fill="none" stroke="#2b2bf0" stroke-width="0.9"/>
<polygon points="113,489.55 114.61,492.37 111.39,492.37" fill="none" stroke="#2b2bf0" stroke-width="0.9"/>
<polygon points="125.6,493.5 127.21,496.32 123.99,496.32" fill="none" stroke="#2b2bf0" stroke-width="0.9"/>
<polygon points="125.6,488.37 127.21,491.19 123.99,491.19" fill="none" stroke="#2b2bf0" stroke-width="0.9"/>
<polygon points="113,495.26 114.61,498.08 111.39,498.08" fill="none" stroke="#2b2bf0" stroke-width="0.9"/>
<polygon points="117.2,486.67 118.81,489.49 115.59,489.49" fill="none" stroke="#2b2bf0" stroke-width="0.9"/>
<polygon points="121.4,497.73 123.01,500.55 119.79,500.55" fill="none" stroke="#2b2bf0" stroke-width="0.9"/>
<polygon points="129.8,483.89 131.41,486.71 128.19,486.71" fill="none" stroke="#2b2bf0" stroke-width="0.9"/>
<polygon points="129.8,500.89 131.41,503.71 128.19,503.71" fill="none" stroke="#2b2bf0" stroke-width="0.9"/>
<text x="121.4" y="480.7" font-size="5.2" text-anchor="middle" font-weight="bold" fill="#2b2bf0">58</text>
<line x1="140.4" y1="442.01" x2="157.4" y2="442.01" stroke="#231f20" stroke-width="0.9"/>
<line x1="148.9" y1="439" x2="148.9" y2="445.6" stroke="#231f20" stroke-width="0.8"/>
<line x1="144.4" y1="439" x2="153.4" y2="439" stroke="#231f20" stroke-width="0.8"/>
<line x1="144.4" y1="445.6" x2="153.4" y2="445.6" stroke="#231f20" stroke-width="0.8"/>
<circle cx="148.9" cy="442.15" r="1.4" fill="none" stroke="#f0262a" stroke-width="0.9"/>
<circle cx="157.3" cy="442.19" r="1.4" fill="none" stroke="#f0262a" stroke-width="0.9"/>
<circle cx="140.5" cy="441.41" r="1.4" fill="none" stroke="#f0262a" stroke-width="0.9"/>
<circle cx="144.7" cy="443.45" r="1.4" fill="none" stroke="#f0262a" stroke-width="0.9"/>
<circle cx="153.1" cy="444.33" r="1.4" fill="none" stroke="#f0262a" stroke-width="0.9"/>
<circle cx="153.1" cy="439.59" r="1.4" fill="none" stroke="#f0262a" stroke-width="0.9"/>
<circle cx="144.7" cy="439.39" r="1.4" fill="none" stroke="#f0262a" stroke-width="0.9"/>
<circle cx="140.5" cy="445.7" r="1.4" fill="none" stroke="#f0262a" stroke-width="0.9"/>
<circle cx="157.3" cy="437" r="1.4" fill="none" stroke="#f0262a" stroke-width="0.9"/>
<circle cx="148.9" cy="448" r="1.4" fill="none" stroke="#f0262a" stroke-width="0.9"/>
<text x="148.9" y="455.1" font-size="5.2" text-anchor="middle" font-weight="bold" fill="#f0262a">20797</text>
<line x1="167.9" y1="442.5" x2="184.9" y2="442.5" stroke="#231f20" stroke-width="0.9"/>
<line x1="176.4" y1="439.8" x2="176.4" y2="446.64" stroke="#231f20" stroke-width="0.8"/>
<line x1="171.9" y1="439.8" x2="180.9" y2="439.8" stroke="#231f20" stroke-width="0.8"/>
<line x1="171.9" y1="446.64" x2="180.9" y2="446.64" stroke="#231f20" stroke-width="0.8"/>
<rect x="175.07" y="440.49" width="2.66" height="2.66" fill="none" stroke="#3a9a3a" stroke-width="0.9"/>
<rect x="183.47" y="441.91" width="2.66" height="2.66" fill="none" stroke="#3a9a3a" stroke-width="0.9"/>
<rect x="166.67" y="440.04" width="2.66" height="2.66" fill="none" stroke="#3a9a3a" stroke-width="0.9"/>
<rect x="170.87" y="442.57" width="2.66" height="2.66" fill="none" stroke="#3a9a3a" stroke-width="0.9"/>
<rect x="179.27" y="439.75" width="2.66" height="2.66" fill="none" stroke="#3a9a3a" stroke-width="0.9"/>
<rect x="179.27" y="444.09" width="2.66" height="2.66" fill="none" stroke="#3a9a3a" stroke-width="0.9"/>
<rect x="170.87" y="438.23" width="2.66" height="2.66" fill="none" stroke="#3a9a3a" stroke-width="0.9"/>
<rect x="166.67" y="445.22" width="2.66" height="2.66" fill="none" stroke="#3a9a3a" stroke-width="0.9"/>
<rect x="183.47" y="436.67" width="2.66" height="2.66" fill="none" stroke="#3a9a3a" stroke-width="0.9"/>
<rect x="175.07" y="448.07" width="2.66" height="2.66" fill="none" stroke="#3a9a3a" stroke-width="0.9"/>
<text x="176.4" y="456" font-size="5.2" text-anchor="middle" font-weight="bold" fill="#3a9a3a">19655</text>
<line x1="195.4" y1="449.12" x2="212.4" y2="449.12" stroke="#231f20" stroke-width="0.9"/>
<line x1="203.9" y1="445.87" x2="203.9" y2="452.17" stroke="#231f20" stroke-width="0.8"/>
<line x1="199.4" y1="445.87" x2="208.4" y2="445.87" stroke="#231f20" stroke-width="0.8"/>
<line x1="199.4" y1="452.17" x2="208.4" y2="452.17" stroke="#231f20" stroke-width="0.8"/>
<polygon points="203.9,448.24 205.51,451.06 202.29,451.06" fill="none" stroke="#2b2bf0" stroke-width="0.9"/>
<polygon points="212.3,446.69 213.91,449.5 210.69,449.5" fill="none" stroke="#2b2bf0" stroke-width="0.9"/>
<polygon points="195.5,448.86 197.11,451.67 193.89,451.67" fill="none" stroke="#2b2bf0" stroke-width="0.9"/>
<polygon points="199.7,445.96 201.31,448.78 198.09,448.78" fill="none" stroke="#2b2bf0" stroke-width="0.9"/>
<polygon points="208.1,449.21 209.71,452.02 206.49,452.02" fill="none" stroke="#2b2bf0" stroke-width="0.9"/>
<polygon points="208.1,445.45 209.71,448.27 206.49,448.27" fill="none" stroke="#2b2bf0" stroke-width="0.9"/>
<polygon points="199.7,450.81 201.31,453.63 198.09,453.63" fill="none" stroke="#2b2bf0" stroke-width="0.9"/>
<polygon points="195.5,444.15 197.11,446.97 193.89,446.97" fill="none" stroke="#2b2bf0" stroke-width="0.9"/>
<polygon points="212.3,452.59 213.91,455.41 210.69,455.41" fill="none" stroke="#2b2bf0" stroke-width="0.9"/>
<polygon points="203.9,442.09 205.51,444.91 202.29,444.91" fill="none" stroke="#2b2bf0" stroke-width="0.9"/>
<text x="203.9" y="459.8" font-size="5.2" text-anchor="middle" font-weight="bold" fill="#2b2bf0">9153</text>
<line x1="222.9" y1="446.18" x2="239.9" y2="446.18" stroke="#231f20" stroke-width="0.9"/>
<line x1="231.4" y1="443.07" x2="231.4" y2="448.29" stroke="#231f20" stroke-width="0.8"/>
<line x1="226.9" y1="443.07" x2="235.9" y2="443.07" stroke="#231f20" stroke-width="0.8"/>
<line x1="226.9" y1="448.29" x2="235.9" y2="448.29" stroke="#231f20" stroke-width="0.8"/>
<circle cx="231.4" cy="446.73" r="1.4" fill="none" stroke="#f0262a" stroke-width="0.9"/>
<circle cx="239.8" cy="446.87" r="1.4" fill="none" stroke="#f0262a" stroke-width="0.9"/>
<circle cx="223" cy="445.42" r="1.4" fill="none" stroke="#f0262a" stroke-width="0.9"/>
<circle cx="235.6" cy="445.26" r="1.4" fill="none" stroke="#f0262a" stroke-width="0.9"/>
<circle cx="227.2" cy="447.83" r="1.4" fill="none" stroke="#f0262a" stroke-width="0.9"/>
<circle cx="227.2" cy="443.69" r="1.4" fill="none" stroke="#f0262a" stroke-width="0.9"/>
<circle cx="235.6" cy="448.75" r="1.4" fill="none" stroke="#f0262a" stroke-width="0.9"/>
<circle cx="239.8" cy="442.92" r="1.4" fill="none" stroke="#f0262a" stroke-width="0.9"/>
<circle cx="223" cy="449.7" r="1.4" fill="none" stroke="#f0262a" stroke-width="0.9"/>
<circle cx="231.4" cy="441" r="1.4" fill="none" stroke="#f0262a" stroke-width="0.9"/>
<text x="231.4" y="455.9" font-size="5.2" text-anchor="middle" font-weight="bold" fill="#f0262a">12846</text>
<line x1="250.4" y1="443.53" x2="267.4" y2="443.53" stroke="#231f20" stroke-width="0.9"/>
<line x1="258.9" y1="440.09" x2="258.9" y2="446.51" stroke="#231f20" stroke-width="0.8"/>
<line x1="254.4" y1="440.09" x2="263.4" y2="440.09" stroke="#231f20" stroke-width="0.8"/>
<line x1="254.4" y1="446.51" x2="263.4" y2="446.51" stroke="#231f20" stroke-width="0.8"/>
<rect x="257.57" y="442.02" width="2.66" height="2.66" fill="none" stroke="#3a9a3a" stroke-width="0.9"/>
<rect x="265.97" y="441.66" width="2.66" height="2.66" fill="none" stroke="#3a9a3a" stroke-width="0.9"/>
<rect x="249.17" y="443.25" width="2.66" height="2.66" fill="none" stroke="#3a9a3a" stroke-width="0.9"/>
<rect x="253.37" y="440.86" width="2.66" height="2.66" fill="none" stroke="#3a9a3a" stroke-width="0.9"/>
<rect x="261.77" y="440.09" width="2.66" height="2.66" fill="none" stroke="#3a9a3a" stroke-width="0.9"/>
<rect x="261.77" y="444.38" width="2.66" height="2.66" fill="none" stroke="#3a9a3a" stroke-width="0.9"/>
<rect x="253.37" y="445" width="2.66" height="2.66" fill="none" stroke="#3a9a3a" stroke-width="0.9"/>
<rect x="249.17" y="438.33" width="2.66" height="2.66" fill="none" stroke="#3a9a3a" stroke-width="0.9"/>
<rect x="265.97" y="447.17" width="2.66" height="2.66" fill="none" stroke="#3a9a3a" stroke-width="0.9"/>
<rect x="257.57" y="436.47" width="2.66" height="2.66" fill="none" stroke="#3a9a3a" stroke-width="0.9"/>
<text x="258.9" y="454.7" font-size="5.2" text-anchor="middle" font-weight="bold" fill="#3a9a3a">17441</text>
<line x1="277.9" y1="439.58" x2="294.9" y2="439.58" stroke="#231f20" stroke-width="0.9"/>
<line x1="286.4" y1="437.01" x2="286.4" y2="441.93" stroke="#231f20" stroke-width="0.8"/>
<line x1="281.9" y1="437.01" x2="290.9" y2="437.01" stroke="#231f20" stroke-width="0.8"/>
<line x1="281.9" y1="441.93" x2="290.9" y2="441.93" stroke="#231f20" stroke-width="0.8"/>
<polygon points="286.4,438.2 288.01,441.02 284.79,441.02" fill="none" stroke="#2b2bf0" stroke-width="0.9"/>
<polygon points="294.8,437.35 296.41,440.17 293.19,440.17" fill="none" stroke="#2b2bf0" stroke-width="0.9"/>
<polygon points="278,437.31 279.61,440.13 276.39,440.13" fill="none" stroke="#2b2bf0" stroke-width="0.9"/>
<polygon points="290.6,439.33 292.21,442.15 288.99,442.15" fill="none" stroke="#2b2bf0" stroke-width="0.9"/>
<polygon points="282.2,436.05 283.81,438.86 280.59,438.86" fill="none" stroke="#2b2bf0" stroke-width="0.9"/>
<polygon points="282.2,440.06 283.81,442.88 280.59,442.88" fill="none" stroke="#2b2bf0" stroke-width="0.9"/>
<polygon points="290.6,435.82 292.21,438.63 288.99,438.63" fill="none" stroke="#2b2bf0" stroke-width="0.9"/>
<polygon points="278,440.92 279.61,443.74 276.39,443.74" fill="none" stroke="#2b2bf0" stroke-width="0.9"/>
<polygon points="294.8,441.89 296.41,444.71 293.19,444.71" fill="none" stroke="#2b2bf0" stroke-width="0.9"/>
<polygon points="286.4,433.69 288.01,436.51 284.79,436.51" fill="none" stroke="#2b2bf0" stroke-width="0.9"/>
<text x="286.4" y="453.4" font-size="5.2" text-anchor="middle" font-weight="bold" fill="#2b2bf0">27523</text>
<line x1="305.4" y1="441.28" x2="322.4" y2="441.28" stroke="#231f20" stroke-width="0.9"/>
<line x1="313.9" y1="437.87" x2="313.9" y2="444.11" stroke="#231f20" stroke-width="0.8"/>
<line x1="309.4" y1="437.87" x2="318.4" y2="437.87" stroke="#231f20" stroke-width="0.8"/>
<line x1="309.4" y1="444.11" x2="318.4" y2="444.11" stroke="#231f20" stroke-width="0.8"/>
<circle cx="313.9" cy="441.93" r="1.4" fill="none" stroke="#f0262a" stroke-width="0.9"/>
<circle cx="322.3" cy="440.48" r="1.4" fill="none" stroke="#f0262a" stroke-width="0.9"/>
<circle cx="305.5" cy="440.41" r="1.4" fill="none" stroke="#f0262a" stroke-width="0.9"/>
<circle cx="318.1" cy="442.72" r="1.4" fill="none" stroke="#f0262a" stroke-width="0.9"/>
<circle cx="309.7" cy="443.21" r="1.4" fill="none" stroke="#f0262a" stroke-width="0.9"/>
<circle cx="305.5" cy="443.89" r="1.4" fill="none" stroke="#f0262a" stroke-width="0.9"/>
<circle cx="309.7" cy="438.6" r="1.4" fill="none" stroke="#f0262a" stroke-width="0.9"/>
<circle cx="318.1" cy="437.08" r="1.4" fill="none" stroke="#f0262a" stroke-width="0.9"/>
<circle cx="322.3" cy="446" r="1.4" fill="none" stroke="#f0262a" stroke-width="0.9"/>
<circle cx="305.5" cy="435.6" r="1.4" fill="none" stroke="#f0262a" stroke-width="0.9"/>
<text x="313.9" y="453.9" font-size="5.2" text-anchor="middle" font-weight="bold" fill="#f0262a">22605</text>
<line x1="332.9" y1="444.76" x2="349.9" y2="444.76" stroke="#231f20" stroke-width="0.9"/>
<line x1="341.4" y1="442.5" x2="341.4" y2="447.72" stroke="#231f20" stroke-width="0.8"/>
<line x1="336.9" y1="442.5" x2="345.9" y2="442.5" stroke="#231f20" stroke-width="0.8"/>
<line x1="336.9" y1="447.72" x2="345.9" y2="447.72" stroke="#231f20" stroke-width="0.8"/>
<rect x="340.07" y="443.24" width="2.66" height="2.66" fill="none" stroke="#3a9a3a" stroke-width="0.9"/>
<rect x="348.47" y="444.26" width="2.66" height="2.66" fill="none" stroke="#3a9a3a" stroke-width="0.9"/>
<rect x="331.67" y="442.28" width="2.66" height="2.66" fill="none" stroke="#3a9a3a" stroke-width="0.9"/>
<rect x="335.87" y="444.64" width="2.66" height="2.66" fill="none" stroke="#3a9a3a" stroke-width="0.9"/>
<rect x="344.27" y="441.61" width="2.66" height="2.66" fill="none" stroke="#3a9a3a" stroke-width="0.9"/>
<rect x="344.27" y="445.8" width="2.66" height="2.66" fill="none" stroke="#3a9a3a" stroke-width="0.9"/>
<rect x="335.87" y="440.67" width="2.66" height="2.66" fill="none" stroke="#3a9a3a" stroke-width="0.9"/>
<rect x="331.67" y="446.34" width="2.66" height="2.66" fill="none" stroke="#3a9a3a" stroke-width="0.9"/>
<rect x="348.47" y="439.67" width="2.66" height="2.66" fill="none" stroke="#3a9a3a" stroke-width="0.9"/>
<rect x="340.07" y="448.37" width="2.66" height="2.66" fill="none" stroke="#3a9a3a" stroke-width="0.9"/>
<text x="341.4" y="456.6" font-size="5.2" text-anchor="middle" font-weight="bold" fill="#3a9a3a">15130</text>
<line x1="360.4" y1="449.02" x2="377.4" y2="449.02" stroke="#231f20" stroke-width="0.9"/>
<line x1="368.9" y1="445.71" x2="368.9" y2="451.65" stroke="#231f20" stroke-width="0.8"/>
<line x1="364.4" y1="445.71" x2="373.4" y2="445.71" stroke="#231f20" stroke-width="0.8"/>
<line x1="364.4" y1="451.65" x2="373.4" y2="451.65" stroke="#231f20" stroke-width="0.8"/>
<polygon points="368.9,447.34 370.51,450.16 367.29,450.16" fill="none" stroke="#2b2bf0" stroke-width="0.9"/>
<polygon points="377.3,447.53 378.91,450.35 375.69,450.35" fill="none" stroke="#2b2bf0" stroke-width="0.9"/>
<polygon points="360.5,448.51 362.11,451.33 358.89,451.33" fill="none" stroke="#2b2bf0" stroke-width="0.9"/>
<polygon points="373.1,446.02 374.71,448.83 371.49,448.83" fill="none" stroke="#2b2bf0" stroke-width="0.9"/>
<polygon points="364.7,449.24 366.31,452.05 363.09,452.05" fill="none" stroke="#2b2bf0" stroke-width="0.9"/>
<polygon points="373.1,449.86 374.71,452.68 371.49,452.68" fill="none" stroke="#2b2bf0" stroke-width="0.9"/>
<polygon points="364.7,444.64 366.31,447.45 363.09,447.45" fill="none" stroke="#2b2bf0" stroke-width="0.9"/>
<polygon points="360.5,443.62 362.11,446.43 358.89,446.43" fill="none" stroke="#2b2bf0" stroke-width="0.9"/>
<polygon points="368.9,451.79 370.51,454.61 367.29,454.61" fill="none" stroke="#2b2bf0" stroke-width="0.9"/>
<polygon points="377.3,441.89 378.91,444.71 375.69,444.71" fill="none" stroke="#2b2bf0" stroke-width="0.9"/>
<text x="368.9" y="460.9" font-size="5.2" text-anchor="middle" font-weight="bold" fill="#2b2bf0">9261</text>
<line x1="67.2" y1="465.2" x2="94.5" y2="465.2" stroke="#333" stroke-width="0.85"/>
<text x="80.85" y="459.5" font-size="4.5" text-anchor="middle" fill="#231f20">0.0004</text>
<polygon points="77.85,460.9 78.32,461.85 79.37,462.01 78.61,462.75 78.79,463.79 77.85,463.3 76.91,463.79 77.09,462.75 76.33,462.01 77.38,461.85" fill="#231f20"/>
<polygon points="80.85,460.9 81.32,461.85 82.37,462.01 81.61,462.75 81.79,463.79 80.85,463.3 79.91,463.79 80.09,462.75 79.33,462.01 80.38,461.85" fill="#231f20"/>
<polygon points="83.85,460.9 84.32,461.85 85.37,462.01 84.61,462.75 84.79,463.79 83.85,463.3 82.91,463.79 83.09,462.75 82.33,462.01 83.38,461.85" fill="#231f20"/>
<line x1="94.9" y1="462.1" x2="121.4" y2="462.1" stroke="#333" stroke-width="0.85"/>
<text x="108.15" y="456.4" font-size="4.5" text-anchor="middle" fill="#231f20">&lt;0.0001</text>
<polygon points="103.65,457.8 104.12,458.75 105.17,458.91 104.41,459.65 104.59,460.69 103.65,460.2 102.71,460.69 102.89,459.65 102.13,458.91 103.18,458.75" fill="#231f20"/>
<polygon points="106.65,457.8 107.12,458.75 108.17,458.91 107.41,459.65 107.59,460.69 106.65,460.2 105.71,460.69 105.89,459.65 105.13,458.91 106.18,458.75" fill="#231f20"/>
<polygon points="109.65,457.8 110.12,458.75 111.17,458.91 110.41,459.65 110.59,460.69 109.65,460.2 108.71,460.69 108.89,459.65 108.13,458.91 109.18,458.75" fill="#231f20"/>
<polygon points="112.65,457.8 113.12,458.75 114.17,458.91 113.41,459.65 113.59,460.69 112.65,460.2 111.71,460.69 111.89,459.65 111.13,458.91 112.18,458.75" fill="#231f20"/>
<line x1="148.8" y1="434.8" x2="203.5" y2="434.8" stroke="#333" stroke-width="0.85"/>
<text x="164.02" y="433.6" font-size="4.5" fill="#231f20">0.0001</text>
<polygon points="180.48,430.6 180.95,431.55 182,431.71 181.24,432.45 181.42,433.49 180.48,433 179.54,433.49 179.72,432.45 178.96,431.71 180.01,431.55" fill="#231f20"/>
<polygon points="183.48,430.6 183.95,431.55 185,431.71 184.24,432.45 184.42,433.49 183.48,433 182.54,433.49 182.72,432.45 181.96,431.71 183.01,431.55" fill="#231f20"/>
<polygon points="186.48,430.6 186.95,431.55 188,431.71 187.24,432.45 187.42,433.49 186.48,433 185.54,433.49 185.72,432.45 184.96,431.71 186.01,431.55" fill="#231f20"/>
<line x1="176.5" y1="428.5" x2="203.1" y2="428.5" stroke="#333" stroke-width="0.85"/>
<text x="189.8" y="422.8" font-size="4.5" text-anchor="middle" fill="#231f20">0.0003</text>
<polygon points="186.8,424.2 187.27,425.15 188.32,425.31 187.56,426.05 187.74,427.09 186.8,426.6 185.86,427.09 186.04,426.05 185.28,425.31 186.33,425.15" fill="#231f20"/>
<polygon points="189.8,424.2 190.27,425.15 191.32,425.31 190.56,426.05 190.74,427.09 189.8,426.6 188.86,427.09 189.04,426.05 188.28,425.31 189.33,425.15" fill="#231f20"/>
<polygon points="192.8,424.2 193.27,425.15 194.32,425.31 193.56,426.05 193.74,427.09 192.8,426.6 191.86,427.09 192.04,426.05 191.28,425.31 192.33,425.15" fill="#231f20"/>
<line x1="231.1" y1="432.8" x2="286.2" y2="432.8" stroke="#333" stroke-width="0.85"/>
<text x="241.77" y="431.6" font-size="4.5" fill="#231f20">&lt;0.0001</text>
<polygon points="264.73,428.6 265.2,429.55 266.25,429.71 265.49,430.45 265.67,431.49 264.73,431 263.79,431.49 263.97,430.45 263.21,429.71 264.26,429.55" fill="#231f20"/>
<polygon points="267.73,428.6 268.2,429.55 269.25,429.71 268.49,430.45 268.67,431.49 267.73,431 266.79,431.49 266.97,430.45 266.21,429.71 267.26,429.55" fill="#231f20"/>
<polygon points="270.73,428.6 271.2,429.55 272.25,429.71 271.49,430.45 271.67,431.49 270.73,431 269.79,431.49 269.97,430.45 269.21,429.71 270.26,429.55" fill="#231f20"/>
<polygon points="273.73,428.6 274.2,429.55 275.25,429.71 274.49,430.45 274.67,431.49 273.73,431 272.79,431.49 272.97,430.45 272.21,429.71 273.26,429.55" fill="#231f20"/>
<line x1="259.2" y1="425.6" x2="285.7" y2="425.6" stroke="#333" stroke-width="0.85"/>
<text x="272.45" y="419.9" font-size="4.5" text-anchor="middle" fill="#231f20">0.0036</text>
<polygon points="270.95,421.3 271.42,422.25 272.47,422.41 271.71,423.15 271.89,424.19 270.95,423.7 270.01,424.19 270.19,423.15 269.43,422.41 270.48,422.25" fill="#231f20"/>
<polygon points="273.95,421.3 274.42,422.25 275.47,422.41 274.71,423.15 274.89,424.19 273.95,423.7 273.01,424.19 273.19,423.15 272.43,422.41 273.48,422.25" fill="#231f20"/>
<line x1="313" y1="433.6" x2="340.3" y2="433.6" stroke="#333" stroke-width="0.85"/>
<text x="316.02" y="432.4" font-size="4.5" fill="#231f20">0.0053</text>
<polygon points="332.48,429.4 332.95,430.35 334,430.51 333.24,431.25 333.42,432.29 332.48,431.8 331.54,432.29 331.72,431.25 330.96,430.51 332.01,430.35" fill="#231f20"/>
<polygon points="335.48,429.4 335.95,430.35 337,430.51 336.24,431.25 336.42,432.29 335.48,431.8 334.54,432.29 334.72,431.25 333.96,430.51 335.01,430.35" fill="#231f20"/>
<line x1="313" y1="427.4" x2="367.6" y2="427.4" stroke="#333" stroke-width="0.85"/>
<text x="340.3" y="421.7" font-size="4.5" text-anchor="middle" fill="#231f20">&lt;0.0001</text>
<polygon points="335.8,423.1 336.27,424.05 337.32,424.21 336.56,424.95 336.74,425.99 335.8,425.5 334.86,425.99 335.04,424.95 334.28,424.21 335.33,424.05" fill="#231f20"/>
<polygon points="338.8,423.1 339.27,424.05 340.32,424.21 339.56,424.95 339.74,425.99 338.8,425.5 337.86,425.99 338.04,424.95 337.28,424.21 338.33,424.05" fill="#231f20"/>
<polygon points="341.8,423.1 342.27,424.05 343.32,424.21 342.56,424.95 342.74,425.99 341.8,425.5 340.86,425.99 341.04,424.95 340.28,424.21 341.33,424.05" fill="#231f20"/>
<polygon points="344.8,423.1 345.27,424.05 346.32,424.21 345.56,424.95 345.74,425.99 344.8,425.5 343.86,425.99 344.04,424.95 343.28,424.21 344.33,424.05" fill="#231f20"/>
<text x="398" y="414.6" font-size="16" fill="#231f20">g</text>
<text x="417.2" y="415.3" font-size="8.0" fill="#231f20">Coated with D25-purified RSV-F sc9-10 DS-Cav1(1TD0)</text>
<line x1="417.2" y1="418.1" x2="616.8" y2="418.1" stroke="#666" stroke-width="0.8"/>
<line x1="441.5" y1="428.8" x2="441.5" y2="508.3" stroke="#231f20" stroke-width="0.9"/>
<line x1="441.5" y1="508.3" x2="536.5" y2="508.3" stroke="#231f20" stroke-width="0.9"/>
<line x1="436.7" y1="503.3" x2="441.5" y2="503.3" stroke="#231f20" stroke-width="0.9"/>
<text x="435.6" y="506.3" font-size="8.6" text-anchor="end" fill="#231f20">0</text>
<line x1="436.7" y1="478.57" x2="441.5" y2="478.57" stroke="#231f20" stroke-width="0.9"/>
<text x="435.6" y="481.57" font-size="8.6" text-anchor="end" fill="#231f20">1</text>
<line x1="436.7" y1="453.84" x2="441.5" y2="453.84" stroke="#231f20" stroke-width="0.9"/>
<text x="435.6" y="456.84" font-size="8.6" text-anchor="end" fill="#231f20">2</text>
<line x1="436.7" y1="429.11" x2="441.5" y2="429.11" stroke="#231f20" stroke-width="0.9"/>
<text x="435.6" y="432.11" font-size="8.6" text-anchor="end" fill="#231f20">3</text>
<line x1="460.1" y1="508.3" x2="460.1" y2="513.4" stroke="#231f20" stroke-width="0.9"/>
<line x1="488.5" y1="508.3" x2="488.5" y2="513.4" stroke="#231f20" stroke-width="0.9"/>
<line x1="517" y1="508.3" x2="517" y2="513.4" stroke="#231f20" stroke-width="0.9"/>
<text x="0" y="0" font-size="9.1" text-anchor="middle" fill="#231f20" transform="translate(424.4,470) rotate(-90)">Absorbance (450 nm)</text>
<line x1="452.4" y1="518.2" x2="472.5" y2="518.2" stroke="#333" stroke-width="1.15"/>
<line x1="506" y1="518.2" x2="524" y2="518.2" stroke="#333" stroke-width="1.15"/>
<text x="489" y="520.6" font-size="6.6" text-anchor="middle" fill="#231f20">W11</text>
<circle cx="460.1" cy="471.15" r="1.4" fill="none" stroke="#f0262a" stroke-width="0.9"/>
<circle cx="460.1" cy="487.23" r="1.4" fill="none" stroke="#f0262a" stroke-width="0.9"/>
<circle cx="460.1" cy="493.41" r="1.4" fill="none" stroke="#f0262a" stroke-width="0.9"/>
<circle cx="453" cy="500.83" r="1.4" fill="none" stroke="#f0262a" stroke-width="0.9"/>
<circle cx="456" cy="500.83" r="1.4" fill="none" stroke="#f0262a" stroke-width="0.9"/>
<circle cx="459" cy="501.32" r="1.4" fill="none" stroke="#f0262a" stroke-width="0.9"/>
<circle cx="462" cy="500.83" r="1.4" fill="none" stroke="#f0262a" stroke-width="0.9"/>
<circle cx="465" cy="501.32" r="1.4" fill="none" stroke="#f0262a" stroke-width="0.9"/>
<circle cx="468" cy="500.83" r="1.4" fill="none" stroke="#f0262a" stroke-width="0.9"/>
<circle cx="460.1" cy="498.85" r="1.4" fill="none" stroke="#f0262a" stroke-width="0.9"/>
<line x1="454.6" y1="498.6" x2="465.6" y2="498.6" stroke="#888" stroke-width="0.9"/>
<line x1="460.1" y1="490.94" x2="460.1" y2="498.6" stroke="#231f20" stroke-width="0.9"/>
<line x1="456.9" y1="490.94" x2="463.3" y2="490.94" stroke="#231f20" stroke-width="0.9"/>
<text x="460.1" y="466.7" font-size="5.2" text-anchor="middle" font-weight="bold" fill="#f0262a">0.19</text>
<rect x="479.07" y="499.29" width="2.85" height="2.85" fill="none" stroke="#3a9a3a" stroke-width="0.9"/>
<rect x="480.31" y="499.55" width="2.85" height="2.85" fill="none" stroke="#3a9a3a" stroke-width="0.9"/>
<rect x="481.54" y="500.42" width="2.85" height="2.85" fill="none" stroke="#3a9a3a" stroke-width="0.9"/>
<rect x="482.77" y="499.32" width="2.85" height="2.85" fill="none" stroke="#3a9a3a" stroke-width="0.9"/>
<rect x="484" y="499.42" width="2.85" height="2.85" fill="none" stroke="#3a9a3a" stroke-width="0.9"/>
<rect x="485.23" y="499.61" width="2.85" height="2.85" fill="none" stroke="#3a9a3a" stroke-width="0.9"/>
<rect x="486.46" y="498.65" width="2.85" height="2.85" fill="none" stroke="#3a9a3a" stroke-width="0.9"/>
<rect x="487.69" y="499.43" width="2.85" height="2.85" fill="none" stroke="#3a9a3a" stroke-width="0.9"/>
<rect x="488.92" y="499.71" width="2.85" height="2.85" fill="none" stroke="#3a9a3a" stroke-width="0.9"/>
<rect x="490.15" y="500.11" width="2.85" height="2.85" fill="none" stroke="#3a9a3a" stroke-width="0.9"/>
<rect x="491.38" y="498.43" width="2.85" height="2.85" fill="none" stroke="#3a9a3a" stroke-width="0.9"/>
<rect x="492.61" y="498.93" width="2.85" height="2.85" fill="none" stroke="#3a9a3a" stroke-width="0.9"/>
<rect x="493.84" y="498.42" width="2.85" height="2.85" fill="none" stroke="#3a9a3a" stroke-width="0.9"/>
<rect x="495.07" y="500.15" width="2.85" height="2.85" fill="none" stroke="#3a9a3a" stroke-width="0.9"/>
<line x1="483.5" y1="500.83" x2="493.5" y2="500.83" stroke="#231f20" stroke-width="0.8"/>
<text x="488.5" y="495.6" font-size="5.2" text-anchor="middle" font-weight="bold" fill="#3a9a3a">0.10</text>
<polygon points="509,499.57 510.73,502.59 507.27,502.59" fill="none" stroke="#2b2bf0" stroke-width="0.9"/>
<polygon points="510.23,498 511.96,501.02 508.51,501.02" fill="none" stroke="#2b2bf0" stroke-width="0.9"/>
<polygon points="511.46,500.26 513.19,503.28 509.74,503.28" fill="none" stroke="#2b2bf0" stroke-width="0.9"/>
<polygon points="512.69,500.22 514.42,503.24 510.97,503.24" fill="none" stroke="#2b2bf0" stroke-width="0.9"/>
<polygon points="513.92,499.47 515.65,502.49 512.2,502.49" fill="none" stroke="#2b2bf0" stroke-width="0.9"/>
<polygon points="515.15,499.38 516.88,502.4 513.43,502.4" fill="none" stroke="#2b2bf0" stroke-width="0.9"/>
<polygon points="516.38,498.28 518.11,501.3 514.66,501.3" fill="none" stroke="#2b2bf0" stroke-width="0.9"/>
<polygon points="517.62,497.94 519.34,500.96 515.89,500.96" fill="none" stroke="#2b2bf0" stroke-width="0.9"/>
<polygon points="518.85,499.17 520.57,502.19 517.12,502.19" fill="none" stroke="#2b2bf0" stroke-width="0.9"/>
<polygon points="520.08,498.04 521.8,501.06 518.35,501.06" fill="none" stroke="#2b2bf0" stroke-width="0.9"/>
<polygon points="521.31,498.36 523.03,501.38 519.58,501.38" fill="none" stroke="#2b2bf0" stroke-width="0.9"/>
<polygon points="522.54,498.48 524.26,501.5 520.81,501.5" fill="none" stroke="#2b2bf0" stroke-width="0.9"/>
<polygon points="523.77,497.97 525.49,500.99 522.04,500.99" fill="none" stroke="#2b2bf0" stroke-width="0.9"/>
<polygon points="525,499.02 526.73,502.03 523.27,502.03" fill="none" stroke="#2b2bf0" stroke-width="0.9"/>
<line x1="512" y1="500.83" x2="522" y2="500.83" stroke="#231f20" stroke-width="0.8"/>
<text x="517" y="495.6" font-size="5.2" text-anchor="middle" font-weight="bold" fill="#2b2bf0">0.10</text>
<rect x="567.6" y="437.3" width="89.2" height="53.8" fill="none" stroke="#888" stroke-width="0.8"/>
<text x="584.3" y="446" font-size="8.1" font-weight="bold" fill="#231f20">hMPV-F</text>
<line x1="584.3" y1="448.2" x2="614" y2="448.2" stroke="#231f20" stroke-width="0.8"/>
<circle cx="575.1" cy="455.4" r="1.3" fill="none" stroke="#f0262a" stroke-width="0.9"/>
<text x="583.8" y="457.6" font-size="6.6" fill="#231f20">UFC<tspan font-size="5" dy="1.7">M1</tspan><tspan dy="-1.7">-P2-His<tspan font-size="5" dy="1.7">6</tspan><tspan dy="-1.7"></tspan></tspan></text>
<rect x="573.87" y="469.02" width="2.47" height="2.47" fill="none" stroke="#3a9a3a" stroke-width="0.9"/>
<text x="583.8" y="472.45" font-size="6.6" fill="#231f20">UFC<tspan font-size="5" dy="1.7">M1</tspan><tspan dy="-1.7">-P2-iSS-His<tspan font-size="5" dy="1.7">6</tspan><tspan dy="-1.7"></tspan></tspan></text>
<polygon points="575.1,483.61 576.6,486.22 573.61,486.22" fill="none" stroke="#2b2bf0" stroke-width="0.9"/>
<text x="583.8" y="487.3" font-size="6.6" fill="#231f20">UFC<tspan font-size="5" dy="1.7">M1</tspan><tspan dy="-1.7">-P2-F<tspan font-size="5" dy="1.7">2</tspan><tspan dy="-1.7">C-VL-His<tspan font-size="5" dy="1.7">6</tspan><tspan dy="-1.7"></tspan></tspan></tspan></text>
<text x="0.9" y="556.9" font-size="16" fill="#231f20">h</text>
<text x="21.2" y="556.1" font-size="9.32" fill="#231f20">hMPV-F trimer vaccine-induced neutralizing antibody responses</text>
<line x1="48.1" y1="576.3" x2="48.1" y2="657.3" stroke="#231f20" stroke-width="0.9"/>
<line x1="48.1" y1="657.3" x2="387.2" y2="657.3" stroke="#231f20" stroke-width="0.9"/>
<line x1="43.1" y1="657.3" x2="48.1" y2="657.3" stroke="#231f20" stroke-width="0.9"/>
<line x1="43.1" y1="637.15" x2="48.1" y2="637.15" stroke="#231f20" stroke-width="0.9"/>
<line x1="43.1" y1="617" x2="48.1" y2="617" stroke="#231f20" stroke-width="0.9"/>
<line x1="43.1" y1="596.85" x2="48.1" y2="596.85" stroke="#231f20" stroke-width="0.9"/>
<line x1="43.1" y1="576.7" x2="48.1" y2="576.7" stroke="#231f20" stroke-width="0.9"/>
<line x1="66.4" y1="657.3" x2="66.4" y2="662.3" stroke="#231f20" stroke-width="0.9"/>
<line x1="93.9" y1="657.3" x2="93.9" y2="662.3" stroke="#231f20" stroke-width="0.9"/>
<line x1="121.4" y1="657.3" x2="121.4" y2="662.3" stroke="#231f20" stroke-width="0.9"/>
<line x1="148.9" y1="657.3" x2="148.9" y2="662.3" stroke="#231f20" stroke-width="0.9"/>
<line x1="176.4" y1="657.3" x2="176.4" y2="662.3" stroke="#231f20" stroke-width="0.9"/>
<line x1="203.9" y1="657.3" x2="203.9" y2="662.3" stroke="#231f20" stroke-width="0.9"/>
<line x1="231.4" y1="657.3" x2="231.4" y2="662.3" stroke="#231f20" stroke-width="0.9"/>
<line x1="258.9" y1="657.3" x2="258.9" y2="662.3" stroke="#231f20" stroke-width="0.9"/>
<line x1="286.4" y1="657.3" x2="286.4" y2="662.3" stroke="#231f20" stroke-width="0.9"/>
<line x1="313.9" y1="657.3" x2="313.9" y2="662.3" stroke="#231f20" stroke-width="0.9"/>
<line x1="341.4" y1="657.3" x2="341.4" y2="662.3" stroke="#231f20" stroke-width="0.9"/>
<line x1="368.9" y1="657.3" x2="368.9" y2="662.3" stroke="#231f20" stroke-width="0.9"/>
<text x="42.4" y="660.7" font-size="9.3" text-anchor="end" fill="#231f20">10<tspan dy="-3.07" font-size="4.93">2</tspan></text>
<text x="42.4" y="640.55" font-size="9.3" text-anchor="end" fill="#231f20">10<tspan dy="-3.07" font-size="4.93">3</tspan></text>
<text x="42.4" y="620.4" font-size="9.3" text-anchor="end" fill="#231f20">10<tspan dy="-3.07" font-size="4.93">4</tspan></text>
<text x="42.4" y="600.25" font-size="9.3" text-anchor="end" fill="#231f20">10<tspan dy="-3.07" font-size="4.93">5</tspan></text>
<text x="42.4" y="580.1" font-size="9.3" text-anchor="end" fill="#231f20">10<tspan dy="-3.07" font-size="4.93">6</tspan></text>
<text x="0" y="0" font-size="9.65" text-anchor="middle" fill="#231f20" transform="translate(20.1,617.9) rotate(-90)">ID<tspan font-size="6.95" dy="1.93">50</tspan><tspan dy="-1.93"> titer</tspan></text>
<line x1="135.7" y1="576.7" x2="135.7" y2="657.3" stroke="#333" stroke-width="0.9" stroke-dasharray="2.6,1.5"/>
<line x1="218.3" y1="576.7" x2="218.3" y2="657.3" stroke="#333" stroke-width="0.9" stroke-dasharray="2.6,1.5"/>
<line x1="300.6" y1="576.7" x2="300.6" y2="657.3" stroke="#333" stroke-width="0.9" stroke-dasharray="2.6,1.5"/>
<line x1="56.6" y1="668" x2="78.2" y2="668" stroke="#8c8c8c" stroke-width="1.15"/>
<line x1="108.4" y1="668" x2="130" y2="668" stroke="#8c8c8c" stroke-width="1.15"/>
<text x="93.9" y="670.3" font-size="6.6" text-anchor="middle" fill="#231f20">W2</text>
<line x1="139" y1="668" x2="160.8" y2="668" stroke="#8c8c8c" stroke-width="1.15"/>
<line x1="190.6" y1="668" x2="209.6" y2="668" stroke="#8c8c8c" stroke-width="1.15"/>
<text x="176.4" y="670.3" font-size="6.6" text-anchor="middle" fill="#231f20">W5</text>
<line x1="221.2" y1="668" x2="242.8" y2="668" stroke="#333" stroke-width="1.15"/>
<line x1="272.6" y1="668" x2="292.4" y2="668" stroke="#333" stroke-width="1.15"/>
<text x="258.9" y="670.3" font-size="6.6" text-anchor="middle" fill="#231f20">W8</text>
<line x1="302.3" y1="668" x2="322.2" y2="668" stroke="#8c8c8c" stroke-width="1.15"/>
<line x1="356.4" y1="668" x2="373.3" y2="668" stroke="#8c8c8c" stroke-width="1.15"/>
<text x="341.4" y="670.3" font-size="6.6" text-anchor="middle" fill="#231f20">W11</text>
<circle cx="57.9" cy="656.8" r="1.4" fill="none" stroke="#f0262a" stroke-width="1.0"/>
<circle cx="59.21" cy="656.8" r="1.4" fill="none" stroke="#f0262a" stroke-width="1.0"/>
<circle cx="60.52" cy="656.8" r="1.4" fill="none" stroke="#f0262a" stroke-width="1.0"/>
<circle cx="61.82" cy="656.8" r="1.4" fill="none" stroke="#f0262a" stroke-width="1.0"/>
<circle cx="63.13" cy="656.8" r="1.4" fill="none" stroke="#f0262a" stroke-width="1.0"/>
<circle cx="64.44" cy="656.8" r="1.4" fill="none" stroke="#f0262a" stroke-width="1.0"/>
<circle cx="65.75" cy="656.8" r="1.4" fill="none" stroke="#f0262a" stroke-width="1.0"/>
<circle cx="67.05" cy="656.8" r="1.4" fill="none" stroke="#f0262a" stroke-width="1.0"/>
<circle cx="68.36" cy="656.8" r="1.4" fill="none" stroke="#f0262a" stroke-width="1.0"/>
<circle cx="69.67" cy="656.8" r="1.4" fill="none" stroke="#f0262a" stroke-width="1.0"/>
<circle cx="70.98" cy="656.8" r="1.4" fill="none" stroke="#f0262a" stroke-width="1.0"/>
<circle cx="72.28" cy="656.8" r="1.4" fill="none" stroke="#f0262a" stroke-width="1.0"/>
<circle cx="73.59" cy="656.8" r="1.4" fill="none" stroke="#f0262a" stroke-width="1.0"/>
<circle cx="74.9" cy="656.8" r="1.4" fill="none" stroke="#f0262a" stroke-width="1.0"/>
<rect x="84.07" y="655.47" width="2.66" height="2.66" fill="none" stroke="#3a9a3a" stroke-width="1.0"/>
<rect x="85.38" y="655.47" width="2.66" height="2.66" fill="none" stroke="#3a9a3a" stroke-width="1.0"/>
<rect x="86.69" y="655.47" width="2.66" height="2.66" fill="none" stroke="#3a9a3a" stroke-width="1.0"/>
<rect x="87.99" y="655.47" width="2.66" height="2.66" fill="none" stroke="#3a9a3a" stroke-width="1.0"/>
<rect x="89.3" y="655.47" width="2.66" height="2.66" fill="none" stroke="#3a9a3a" stroke-width="1.0"/>
<rect x="90.61" y="655.47" width="2.66" height="2.66" fill="none" stroke="#3a9a3a" stroke-width="1.0"/>
<rect x="91.92" y="655.47" width="2.66" height="2.66" fill="none" stroke="#3a9a3a" stroke-width="1.0"/>
<rect x="93.22" y="655.47" width="2.66" height="2.66" fill="none" stroke="#3a9a3a" stroke-width="1.0"/>
<rect x="94.53" y="655.47" width="2.66" height="2.66" fill="none" stroke="#3a9a3a" stroke-width="1.0"/>
<rect x="95.84" y="655.47" width="2.66" height="2.66" fill="none" stroke="#3a9a3a" stroke-width="1.0"/>
<rect x="97.15" y="655.47" width="2.66" height="2.66" fill="none" stroke="#3a9a3a" stroke-width="1.0"/>
<rect x="98.45" y="655.47" width="2.66" height="2.66" fill="none" stroke="#3a9a3a" stroke-width="1.0"/>
<rect x="99.76" y="655.47" width="2.66" height="2.66" fill="none" stroke="#3a9a3a" stroke-width="1.0"/>
<rect x="101.07" y="655.47" width="2.66" height="2.66" fill="none" stroke="#3a9a3a" stroke-width="1.0"/>
<polygon points="112.9,655.19 114.51,658.01 111.29,658.01" fill="none" stroke="#2b2bf0" stroke-width="1.0"/>
<polygon points="114.21,655.19 115.82,658.01 112.6,658.01" fill="none" stroke="#2b2bf0" stroke-width="1.0"/>
<polygon points="115.52,655.19 117.13,658.01 113.91,658.01" fill="none" stroke="#2b2bf0" stroke-width="1.0"/>
<polygon points="116.82,655.19 118.43,658.01 115.21,658.01" fill="none" stroke="#2b2bf0" stroke-width="1.0"/>
<polygon points="118.13,655.19 119.74,658.01 116.52,658.01" fill="none" stroke="#2b2bf0" stroke-width="1.0"/>
<polygon points="119.44,655.19 121.05,658.01 117.83,658.01" fill="none" stroke="#2b2bf0" stroke-width="1.0"/>
<polygon points="120.75,655.19 122.36,658.01 119.14,658.01" fill="none" stroke="#2b2bf0" stroke-width="1.0"/>
<polygon points="122.05,655.19 123.66,658.01 120.44,658.01" fill="none" stroke="#2b2bf0" stroke-width="1.0"/>
<polygon points="123.36,655.19 124.97,658.01 121.75,658.01" fill="none" stroke="#2b2bf0" stroke-width="1.0"/>
<polygon points="124.67,655.19 126.28,658.01 123.06,658.01" fill="none" stroke="#2b2bf0" stroke-width="1.0"/>
<polygon points="125.98,655.19 127.59,658.01 124.37,658.01" fill="none" stroke="#2b2bf0" stroke-width="1.0"/>
<polygon points="127.28,655.19 128.89,658.01 125.67,658.01" fill="none" stroke="#2b2bf0" stroke-width="1.0"/>
<polygon points="128.59,655.19 130.2,658.01 126.98,658.01" fill="none" stroke="#2b2bf0" stroke-width="1.0"/>
<polygon points="129.9,655.19 131.51,658.01 128.29,658.01" fill="none" stroke="#2b2bf0" stroke-width="1.0"/>
<line x1="140.4" y1="618.17" x2="157.4" y2="618.17" stroke="#231f20" stroke-width="0.9"/>
<line x1="148.9" y1="610.27" x2="148.9" y2="628.45" stroke="#231f20" stroke-width="0.8"/>
<line x1="144.4" y1="610.27" x2="153.4" y2="610.27" stroke="#231f20" stroke-width="0.8"/>
<line x1="144.4" y1="628.45" x2="153.4" y2="628.45" stroke="#231f20" stroke-width="0.8"/>
<circle cx="148.9" cy="617.46" r="1.4" fill="none" stroke="#f0262a" stroke-width="0.9"/>
<circle cx="156.4" cy="619.48" r="1.4" fill="none" stroke="#f0262a" stroke-width="0.9"/>
<circle cx="141.4" cy="615.12" r="1.4" fill="none" stroke="#f0262a" stroke-width="0.9"/>
<circle cx="148.9" cy="622.77" r="1.4" fill="none" stroke="#f0262a" stroke-width="0.9"/>
<circle cx="152.65" cy="613.17" r="1.4" fill="none" stroke="#f0262a" stroke-width="0.9"/>
<circle cx="156.4" cy="625.59" r="1.4" fill="none" stroke="#f0262a" stroke-width="0.9"/>
<circle cx="148.9" cy="609.52" r="1.4" fill="none" stroke="#f0262a" stroke-width="0.9"/>
<circle cx="148.9" cy="629.09" r="1.4" fill="none" stroke="#f0262a" stroke-width="0.9"/>
<circle cx="152.65" cy="605" r="1.4" fill="none" stroke="#f0262a" stroke-width="0.9"/>
<circle cx="148.9" cy="635.3" r="1.4" fill="none" stroke="#f0262a" stroke-width="0.9"/>
<text x="148.9" y="600.8" font-size="5.2" text-anchor="middle" font-weight="bold" fill="#f0262a">8747</text>
<line x1="167.9" y1="606.31" x2="184.9" y2="606.31" stroke="#231f20" stroke-width="0.9"/>
<line x1="176.4" y1="601.87" x2="176.4" y2="611.53" stroke="#231f20" stroke-width="0.8"/>
<line x1="171.9" y1="601.87" x2="180.9" y2="601.87" stroke="#231f20" stroke-width="0.8"/>
<line x1="171.9" y1="611.53" x2="180.9" y2="611.53" stroke="#231f20" stroke-width="0.8"/>
<rect x="175.07" y="604.75" width="2.66" height="2.66" fill="none" stroke="#3a9a3a" stroke-width="0.9"/>
<rect x="182.57" y="605.54" width="2.66" height="2.66" fill="none" stroke="#3a9a3a" stroke-width="0.9"/>
<rect x="167.57" y="603.57" width="2.66" height="2.66" fill="none" stroke="#3a9a3a" stroke-width="0.9"/>
<rect x="171.32" y="607.59" width="2.66" height="2.66" fill="none" stroke="#3a9a3a" stroke-width="0.9"/>
<rect x="178.82" y="602.34" width="2.66" height="2.66" fill="none" stroke="#3a9a3a" stroke-width="0.9"/>
<rect x="178.82" y="608.16" width="2.66" height="2.66" fill="none" stroke="#3a9a3a" stroke-width="0.9"/>
<rect x="171.32" y="600.2" width="2.66" height="2.66" fill="none" stroke="#3a9a3a" stroke-width="0.9"/>
<rect x="167.57" y="610.84" width="2.66" height="2.66" fill="none" stroke="#3a9a3a" stroke-width="0.9"/>
<rect x="182.57" y="597.57" width="2.66" height="2.66" fill="none" stroke="#3a9a3a" stroke-width="0.9"/>
<rect x="175.07" y="613.67" width="2.66" height="2.66" fill="none" stroke="#3a9a3a" stroke-width="0.9"/>
<text x="176.4" y="595.5" font-size="5.2" text-anchor="middle" font-weight="bold" fill="#3a9a3a">33911</text>
<line x1="195.4" y1="618.66" x2="212.4" y2="618.66" stroke="#231f20" stroke-width="0.9"/>
<line x1="203.9" y1="613.65" x2="203.9" y2="625.05" stroke="#231f20" stroke-width="0.8"/>
<line x1="199.4" y1="613.65" x2="208.4" y2="613.65" stroke="#231f20" stroke-width="0.8"/>
<line x1="199.4" y1="625.05" x2="208.4" y2="625.05" stroke="#231f20" stroke-width="0.8"/>
<polygon points="203.9,616.45 205.51,619.27 202.29,619.27" fill="none" stroke="#2b2bf0" stroke-width="0.9"/>
<polygon points="211.4,617.79 213.01,620.6 209.79,620.6" fill="none" stroke="#2b2bf0" stroke-width="0.9"/>
<polygon points="196.4,614.95 198.01,617.77 194.79,617.77" fill="none" stroke="#2b2bf0" stroke-width="0.9"/>
<polygon points="200.15,619.47 201.76,622.29 198.54,622.29" fill="none" stroke="#2b2bf0" stroke-width="0.9"/>
<polygon points="207.65,613.81 209.26,616.62 206.04,616.62" fill="none" stroke="#2b2bf0" stroke-width="0.9"/>
<polygon points="207.65,621.62 209.26,624.43 206.04,624.43" fill="none" stroke="#2b2bf0" stroke-width="0.9"/>
<polygon points="200.15,611.27 201.76,614.08 198.54,614.08" fill="none" stroke="#2b2bf0" stroke-width="0.9"/>
<polygon points="196.4,624.21 198.01,627.02 194.79,627.02" fill="none" stroke="#2b2bf0" stroke-width="0.9"/>
<polygon points="207.65,608.69 209.26,611.51 206.04,611.51" fill="none" stroke="#2b2bf0" stroke-width="0.9"/>
<polygon points="203.9,627.69 205.51,630.51 202.29,630.51" fill="none" stroke="#2b2bf0" stroke-width="0.9"/>
<text x="203.9" y="606.5" font-size="5.2" text-anchor="middle" font-weight="bold" fill="#2b2bf0">8269</text>
<line x1="222.9" y1="615.11" x2="239.9" y2="615.11" stroke="#231f20" stroke-width="0.9"/>
<line x1="231.4" y1="608.86" x2="231.4" y2="620.74" stroke="#231f20" stroke-width="0.8"/>
<line x1="226.9" y1="608.86" x2="235.9" y2="608.86" stroke="#231f20" stroke-width="0.8"/>
<line x1="226.9" y1="620.74" x2="235.9" y2="620.74" stroke="#231f20" stroke-width="0.8"/>
<circle cx="231.4" cy="614.87" r="1.4" fill="none" stroke="#f0262a" stroke-width="0.9"/>
<circle cx="238.9" cy="616.13" r="1.4" fill="none" stroke="#f0262a" stroke-width="0.9"/>
<circle cx="223.9" cy="613.11" r="1.4" fill="none" stroke="#f0262a" stroke-width="0.9"/>
<circle cx="227.65" cy="617.31" r="1.4" fill="none" stroke="#f0262a" stroke-width="0.9"/>
<circle cx="235.15" cy="611.2" r="1.4" fill="none" stroke="#f0262a" stroke-width="0.9"/>
<circle cx="235.15" cy="619.53" r="1.4" fill="none" stroke="#f0262a" stroke-width="0.9"/>
<circle cx="223.9" cy="621.52" r="1.4" fill="none" stroke="#f0262a" stroke-width="0.9"/>
<circle cx="227.65" cy="608.32" r="1.4" fill="none" stroke="#f0262a" stroke-width="0.9"/>
<circle cx="231.4" cy="624.5" r="1.4" fill="none" stroke="#f0262a" stroke-width="0.9"/>
<circle cx="231.4" cy="604.7" r="1.4" fill="none" stroke="#f0262a" stroke-width="0.9"/>
<text x="231.4" y="601" font-size="5.2" text-anchor="middle" font-weight="bold" fill="#f0262a">12417</text>
<line x1="250.4" y1="605.52" x2="267.4" y2="605.52" stroke="#231f20" stroke-width="0.9"/>
<line x1="258.9" y1="599.81" x2="258.9" y2="610.19" stroke="#231f20" stroke-width="0.8"/>
<line x1="254.4" y1="599.81" x2="263.4" y2="599.81" stroke="#231f20" stroke-width="0.8"/>
<line x1="254.4" y1="610.19" x2="263.4" y2="610.19" stroke="#231f20" stroke-width="0.8"/>
<rect x="257.57" y="604.61" width="2.66" height="2.66" fill="none" stroke="#3a9a3a" stroke-width="0.9"/>
<rect x="265.07" y="603.55" width="2.66" height="2.66" fill="none" stroke="#3a9a3a" stroke-width="0.9"/>
<rect x="250.07" y="605.92" width="2.66" height="2.66" fill="none" stroke="#3a9a3a" stroke-width="0.9"/>
<rect x="261.32" y="606.89" width="2.66" height="2.66" fill="none" stroke="#3a9a3a" stroke-width="0.9"/>
<rect x="253.82" y="601.44" width="2.66" height="2.66" fill="none" stroke="#3a9a3a" stroke-width="0.9"/>
<rect x="261.32" y="599.7" width="2.66" height="2.66" fill="none" stroke="#3a9a3a" stroke-width="0.9"/>
<rect x="253.82" y="609.58" width="2.66" height="2.66" fill="none" stroke="#3a9a3a" stroke-width="0.9"/>
<rect x="250.07" y="598.04" width="2.66" height="2.66" fill="none" stroke="#3a9a3a" stroke-width="0.9"/>
<rect x="261.32" y="611.97" width="2.66" height="2.66" fill="none" stroke="#3a9a3a" stroke-width="0.9"/>
<rect x="257.57" y="594.67" width="2.66" height="2.66" fill="none" stroke="#3a9a3a" stroke-width="0.9"/>
<text x="258.9" y="592.3" font-size="5.2" text-anchor="middle" font-weight="bold" fill="#3a9a3a">37129</text>
<line x1="277.9" y1="613.04" x2="294.9" y2="613.04" stroke="#231f20" stroke-width="0.9"/>
<line x1="286.4" y1="607.25" x2="286.4" y2="619.61" stroke="#231f20" stroke-width="0.8"/>
<line x1="281.9" y1="607.25" x2="290.9" y2="607.25" stroke="#231f20" stroke-width="0.8"/>
<line x1="281.9" y1="619.61" x2="290.9" y2="619.61" stroke="#231f20" stroke-width="0.8"/>
<polygon points="286.4,611.07 288.01,613.89 284.79,613.89" fill="none" stroke="#2b2bf0" stroke-width="0.9"/>
<polygon points="293.9,612.43 295.51,615.25 292.29,615.25" fill="none" stroke="#2b2bf0" stroke-width="0.9"/>
<polygon points="278.9,609.53 280.51,612.35 277.29,612.35" fill="none" stroke="#2b2bf0" stroke-width="0.9"/>
<polygon points="282.65,614.24 284.26,617.05 281.04,617.05" fill="none" stroke="#2b2bf0" stroke-width="0.9"/>
<polygon points="290.15,607.76 291.76,610.57 288.54,610.57" fill="none" stroke="#2b2bf0" stroke-width="0.9"/>
<polygon points="290.15,615.42 291.76,618.24 288.54,618.24" fill="none" stroke="#2b2bf0" stroke-width="0.9"/>
<polygon points="282.65,605.88 284.26,608.69 281.04,608.69" fill="none" stroke="#2b2bf0" stroke-width="0.9"/>
<polygon points="278.9,618.27 280.51,621.08 277.29,621.08" fill="none" stroke="#2b2bf0" stroke-width="0.9"/>
<polygon points="286.4,601.79 288.01,604.61 284.79,604.61" fill="none" stroke="#2b2bf0" stroke-width="0.9"/>
<polygon points="286.4,622.39 288.01,625.21 284.79,625.21" fill="none" stroke="#2b2bf0" stroke-width="0.9"/>
<text x="286.4" y="598.5" font-size="5.2" text-anchor="middle" font-weight="bold" fill="#2b2bf0">15730</text>
<line x1="305.4" y1="610.23" x2="322.4" y2="610.23" stroke="#231f20" stroke-width="0.9"/>
<line x1="313.9" y1="603.61" x2="313.9" y2="616.57" stroke="#231f20" stroke-width="0.8"/>
<line x1="309.4" y1="603.61" x2="318.4" y2="603.61" stroke="#231f20" stroke-width="0.8"/>
<line x1="309.4" y1="616.57" x2="318.4" y2="616.57" stroke="#231f20" stroke-width="0.8"/>
<circle cx="313.9" cy="610.51" r="1.4" fill="none" stroke="#f0262a" stroke-width="0.9"/>
<circle cx="321.4" cy="608.89" r="1.4" fill="none" stroke="#f0262a" stroke-width="0.9"/>
<circle cx="306.4" cy="612.3" r="1.4" fill="none" stroke="#f0262a" stroke-width="0.9"/>
<circle cx="306.4" cy="607.37" r="1.4" fill="none" stroke="#f0262a" stroke-width="0.9"/>
<circle cx="317.65" cy="605.6" r="1.4" fill="none" stroke="#f0262a" stroke-width="0.9"/>
<circle cx="317.65" cy="615.01" r="1.4" fill="none" stroke="#f0262a" stroke-width="0.9"/>
<circle cx="310.15" cy="616.7" r="1.4" fill="none" stroke="#f0262a" stroke-width="0.9"/>
<circle cx="310.15" cy="603.14" r="1.4" fill="none" stroke="#f0262a" stroke-width="0.9"/>
<circle cx="313.9" cy="620.8" r="1.4" fill="none" stroke="#f0262a" stroke-width="0.9"/>
<circle cx="313.9" cy="599.2" r="1.4" fill="none" stroke="#f0262a" stroke-width="0.9"/>
<text x="313.9" y="595.2" font-size="5.2" text-anchor="middle" font-weight="bold" fill="#f0262a">21676</text>
<line x1="332.9" y1="603.57" x2="349.9" y2="603.57" stroke="#231f20" stroke-width="0.9"/>
<line x1="341.4" y1="597.53" x2="341.4" y2="608.69" stroke="#231f20" stroke-width="0.8"/>
<line x1="336.9" y1="597.53" x2="345.9" y2="597.53" stroke="#231f20" stroke-width="0.8"/>
<line x1="336.9" y1="608.69" x2="345.9" y2="608.69" stroke="#231f20" stroke-width="0.8"/>
<rect x="340.07" y="601.28" width="2.66" height="2.66" fill="none" stroke="#3a9a3a" stroke-width="0.9"/>
<rect x="347.57" y="603.21" width="2.66" height="2.66" fill="none" stroke="#3a9a3a" stroke-width="0.9"/>
<rect x="332.57" y="604.48" width="2.66" height="2.66" fill="none" stroke="#3a9a3a" stroke-width="0.9"/>
<rect x="332.57" y="599.89" width="2.66" height="2.66" fill="none" stroke="#3a9a3a" stroke-width="0.9"/>
<rect x="343.82" y="605.73" width="2.66" height="2.66" fill="none" stroke="#3a9a3a" stroke-width="0.9"/>
<rect x="347.57" y="598.51" width="2.66" height="2.66" fill="none" stroke="#3a9a3a" stroke-width="0.9"/>
<rect x="336.32" y="607.13" width="2.66" height="2.66" fill="none" stroke="#3a9a3a" stroke-width="0.9"/>
<rect x="340.07" y="595.38" width="2.66" height="2.66" fill="none" stroke="#3a9a3a" stroke-width="0.9"/>
<rect x="340.07" y="610.77" width="2.66" height="2.66" fill="none" stroke="#3a9a3a" stroke-width="0.9"/>
<rect x="347.57" y="592.17" width="2.66" height="2.66" fill="none" stroke="#3a9a3a" stroke-width="0.9"/>
<text x="341.4" y="589.8" font-size="5.2" text-anchor="middle" font-weight="bold" fill="#3a9a3a">46408</text>
<line x1="360.4" y1="611.05" x2="377.4" y2="611.05" stroke="#231f20" stroke-width="0.9"/>
<line x1="368.9" y1="605.74" x2="368.9" y2="616.18" stroke="#231f20" stroke-width="0.8"/>
<line x1="364.4" y1="605.74" x2="373.4" y2="605.74" stroke="#231f20" stroke-width="0.8"/>
<line x1="364.4" y1="616.18" x2="373.4" y2="616.18" stroke="#231f20" stroke-width="0.8"/>
<polygon points="368.9,610.04 370.51,612.86 367.29,612.86" fill="none" stroke="#2b2bf0" stroke-width="0.9"/>
<polygon points="376.4,608.82 378.01,611.64 374.79,611.64" fill="none" stroke="#2b2bf0" stroke-width="0.9"/>
<polygon points="361.4,611.18 363.01,613.99 359.79,613.99" fill="none" stroke="#2b2bf0" stroke-width="0.9"/>
<polygon points="365.15,607.02 366.76,609.84 363.54,609.84" fill="none" stroke="#2b2bf0" stroke-width="0.9"/>
<polygon points="372.65,612.42 374.26,615.24 371.04,615.24" fill="none" stroke="#2b2bf0" stroke-width="0.9"/>
<polygon points="372.65,606.36 374.26,609.17 371.04,609.17" fill="none" stroke="#2b2bf0" stroke-width="0.9"/>
<polygon points="361.4,603.76 363.01,606.57 359.79,606.57" fill="none" stroke="#2b2bf0" stroke-width="0.9"/>
<polygon points="365.15,615.18 366.76,617.99 363.54,617.99" fill="none" stroke="#2b2bf0" stroke-width="0.9"/>
<polygon points="372.65,617.99 374.26,620.81 371.04,620.81" fill="none" stroke="#2b2bf0" stroke-width="0.9"/>
<polygon points="368.9,600.59 370.51,603.41 367.29,603.41" fill="none" stroke="#2b2bf0" stroke-width="0.9"/>
<text x="368.9" y="598.5" font-size="5.2" text-anchor="middle" font-weight="bold" fill="#2b2bf0">19737</text>
<line x1="150" y1="588.8" x2="176.4" y2="588.8" stroke="#333" stroke-width="0.85"/>
<text x="163.2" y="583.1" font-size="4.5" text-anchor="middle" fill="#231f20">0.0006</text>
<polygon points="160.2,584.5 160.67,585.45 161.72,585.61 160.96,586.35 161.14,587.39 160.2,586.9 159.26,587.39 159.44,586.35 158.68,585.61 159.73,585.45" fill="#231f20"/>
<polygon points="163.2,584.5 163.67,585.45 164.72,585.61 163.96,586.35 164.14,587.39 163.2,586.9 162.26,587.39 162.44,586.35 161.68,585.61 162.73,585.45" fill="#231f20"/>
<polygon points="166.2,584.5 166.67,585.45 167.72,585.61 166.96,586.35 167.14,587.39 166.2,586.9 165.26,587.39 165.44,586.35 164.68,585.61 165.73,585.45" fill="#231f20"/>
<line x1="176.9" y1="586.2" x2="203.1" y2="586.2" stroke="#333" stroke-width="0.85"/>
<text x="190" y="580.5" font-size="4.5" text-anchor="middle" fill="#231f20">0.0003</text>
<polygon points="187,581.9 187.47,582.85 188.52,583.01 187.76,583.75 187.94,584.79 187,584.3 186.06,584.79 186.24,583.75 185.48,583.01 186.53,582.85" fill="#231f20"/>
<polygon points="190,581.9 190.47,582.85 191.52,583.01 190.76,583.75 190.94,584.79 190,584.3 189.06,584.79 189.24,583.75 188.48,583.01 189.53,582.85" fill="#231f20"/>
<polygon points="193,581.9 193.47,582.85 194.52,583.01 193.76,583.75 193.94,584.79 193,584.3 192.06,584.79 192.24,583.75 191.48,583.01 192.53,582.85" fill="#231f20"/>
<line x1="231.9" y1="586.6" x2="257.7" y2="586.6" stroke="#333" stroke-width="0.85"/>
<text x="244.8" y="580.9" font-size="4.5" text-anchor="middle" fill="#231f20">0.0064</text>
<polygon points="243.3,582.3 243.77,583.25 244.82,583.41 244.06,584.15 244.24,585.19 243.3,584.7 242.36,585.19 242.54,584.15 241.78,583.41 242.83,583.25" fill="#231f20"/>
<polygon points="246.3,582.3 246.77,583.25 247.82,583.41 247.06,584.15 247.24,585.19 246.3,584.7 245.36,585.19 245.54,584.15 244.78,583.41 245.83,583.25" fill="#231f20"/>
<line x1="258.4" y1="584.1" x2="284.5" y2="584.1" stroke="#333" stroke-width="0.85"/>
<text x="271.45" y="578.4" font-size="4.5" text-anchor="middle" fill="#231f20">0.0294</text>
<polygon points="271.45,579.8 271.92,580.75 272.97,580.91 272.21,581.65 272.39,582.69 271.45,582.2 270.51,582.69 270.69,581.65 269.93,580.91 270.98,580.75" fill="#231f20"/>
<line x1="314.3" y1="583.6" x2="340.3" y2="583.6" stroke="#333" stroke-width="0.85"/>
<text x="327.3" y="577.9" font-size="4.5" text-anchor="middle" fill="#231f20">0.0451</text>
<polygon points="327.3,579.3 327.77,580.25 328.82,580.41 328.06,581.15 328.24,582.19 327.3,581.7 326.36,582.19 326.54,581.15 325.78,580.41 326.83,580.25" fill="#231f20"/>
<line x1="341" y1="580.3" x2="367.6" y2="580.3" stroke="#333" stroke-width="0.85"/>
<text x="354.3" y="574.6" font-size="4.5" text-anchor="middle" fill="#231f20">0.0227</text>
<polygon points="354.3,576 354.77,576.95 355.82,577.11 355.06,577.85 355.24,578.89 354.3,578.4 353.36,578.89 353.54,577.85 352.78,577.11 353.83,576.95" fill="#231f20"/>
<text x="399.5" y="556.7" font-size="16" fill="#231f20">i</text>
<text x="416.6" y="555.7" font-size="9.32" fill="#231f20">Neutralization against RSV</text>
<line x1="441.4" y1="577.38" x2="441.4" y2="657.3" stroke="#231f20" stroke-width="0.9"/>
<line x1="441.4" y1="657.3" x2="537.8" y2="657.3" stroke="#231f20" stroke-width="0.9"/>
<line x1="436.4" y1="657.3" x2="441.4" y2="657.3" stroke="#231f20" stroke-width="0.9"/>
<line x1="436.4" y1="637.42" x2="441.4" y2="637.42" stroke="#231f20" stroke-width="0.9"/>
<line x1="436.4" y1="617.54" x2="441.4" y2="617.54" stroke="#231f20" stroke-width="0.9"/>
<line x1="436.4" y1="597.66" x2="441.4" y2="597.66" stroke="#231f20" stroke-width="0.9"/>
<line x1="436.4" y1="577.78" x2="441.4" y2="577.78" stroke="#231f20" stroke-width="0.9"/>
<line x1="460.2" y1="657.3" x2="460.2" y2="662.3" stroke="#231f20" stroke-width="0.9"/>
<line x1="489.2" y1="657.3" x2="489.2" y2="662.3" stroke="#231f20" stroke-width="0.9"/>
<line x1="518.1" y1="657.3" x2="518.1" y2="662.3" stroke="#231f20" stroke-width="0.9"/>
<text x="435.6" y="660.7" font-size="9.0" text-anchor="end" fill="#231f20">10<tspan dy="-2.97" font-size="4.77">2</tspan></text>
<text x="435.6" y="640.82" font-size="9.0" text-anchor="end" fill="#231f20">10<tspan dy="-2.97" font-size="4.77">3</tspan></text>
<text x="435.6" y="620.94" font-size="9.0" text-anchor="end" fill="#231f20">10<tspan dy="-2.97" font-size="4.77">4</tspan></text>
<text x="435.6" y="601.06" font-size="9.0" text-anchor="end" fill="#231f20">10<tspan dy="-2.97" font-size="4.77">5</tspan></text>
<text x="435.6" y="581.18" font-size="9.0" text-anchor="end" fill="#231f20">10<tspan dy="-2.97" font-size="4.77">6</tspan></text>
<text x="0" y="0" font-size="9.65" text-anchor="middle" fill="#231f20" transform="translate(414.1,618.4) rotate(-90)">ID<tspan font-size="6.95" dy="1.93">50</tspan><tspan dy="-1.93"> titer</tspan></text>
<line x1="451.8" y1="667.7" x2="472.8" y2="667.7" stroke="#8c8c8c" stroke-width="1.15"/>
<line x1="505.8" y1="667.7" x2="524.1" y2="667.7" stroke="#8c8c8c" stroke-width="1.15"/>
<text x="489.2" y="670.4" font-size="6.6" text-anchor="middle" fill="#231f20">W11</text>
<circle cx="451.7" cy="656.8" r="1.4" fill="none" stroke="#f0262a" stroke-width="1.0"/>
<circle cx="453.01" cy="656.8" r="1.4" fill="none" stroke="#f0262a" stroke-width="1.0"/>
<circle cx="454.32" cy="656.8" r="1.4" fill="none" stroke="#f0262a" stroke-width="1.0"/>
<circle cx="455.62" cy="656.8" r="1.4" fill="none" stroke="#f0262a" stroke-width="1.0"/>
<circle cx="456.93" cy="656.8" r="1.4" fill="none" stroke="#f0262a" stroke-width="1.0"/>
<circle cx="458.24" cy="656.8" r="1.4" fill="none" stroke="#f0262a" stroke-width="1.0"/>
<circle cx="459.55" cy="656.8" r="1.4" fill="none" stroke="#f0262a" stroke-width="1.0"/>
<circle cx="460.85" cy="656.8" r="1.4" fill="none" stroke="#f0262a" stroke-width="1.0"/>
<circle cx="462.16" cy="656.8" r="1.4" fill="none" stroke="#f0262a" stroke-width="1.0"/>
<circle cx="463.47" cy="656.8" r="1.4" fill="none" stroke="#f0262a" stroke-width="1.0"/>
<circle cx="464.78" cy="656.8" r="1.4" fill="none" stroke="#f0262a" stroke-width="1.0"/>
<circle cx="466.08" cy="656.8" r="1.4" fill="none" stroke="#f0262a" stroke-width="1.0"/>
<circle cx="467.39" cy="656.8" r="1.4" fill="none" stroke="#f0262a" stroke-width="1.0"/>
<circle cx="468.7" cy="656.8" r="1.4" fill="none" stroke="#f0262a" stroke-width="1.0"/>
<rect x="479.37" y="655.47" width="2.66" height="2.66" fill="none" stroke="#3a9a3a" stroke-width="1.0"/>
<rect x="480.68" y="655.47" width="2.66" height="2.66" fill="none" stroke="#3a9a3a" stroke-width="1.0"/>
<rect x="481.99" y="655.47" width="2.66" height="2.66" fill="none" stroke="#3a9a3a" stroke-width="1.0"/>
<rect x="483.29" y="655.47" width="2.66" height="2.66" fill="none" stroke="#3a9a3a" stroke-width="1.0"/>
<rect x="484.6" y="655.47" width="2.66" height="2.66" fill="none" stroke="#3a9a3a" stroke-width="1.0"/>
<rect x="485.91" y="655.47" width="2.66" height="2.66" fill="none" stroke="#3a9a3a" stroke-width="1.0"/>
<rect x="487.22" y="655.47" width="2.66" height="2.66" fill="none" stroke="#3a9a3a" stroke-width="1.0"/>
<rect x="488.52" y="655.47" width="2.66" height="2.66" fill="none" stroke="#3a9a3a" stroke-width="1.0"/>
<rect x="489.83" y="655.47" width="2.66" height="2.66" fill="none" stroke="#3a9a3a" stroke-width="1.0"/>
<rect x="491.14" y="655.47" width="2.66" height="2.66" fill="none" stroke="#3a9a3a" stroke-width="1.0"/>
<rect x="492.45" y="655.47" width="2.66" height="2.66" fill="none" stroke="#3a9a3a" stroke-width="1.0"/>
<rect x="493.75" y="655.47" width="2.66" height="2.66" fill="none" stroke="#3a9a3a" stroke-width="1.0"/>
<rect x="495.06" y="655.47" width="2.66" height="2.66" fill="none" stroke="#3a9a3a" stroke-width="1.0"/>
<rect x="496.37" y="655.47" width="2.66" height="2.66" fill="none" stroke="#3a9a3a" stroke-width="1.0"/>
<polygon points="509.6,655.19 511.21,658.01 507.99,658.01" fill="none" stroke="#2b2bf0" stroke-width="1.0"/>
<polygon points="510.91,655.19 512.52,658.01 509.3,658.01" fill="none" stroke="#2b2bf0" stroke-width="1.0"/>
<polygon points="512.22,655.19 513.83,658.01 510.61,658.01" fill="none" stroke="#2b2bf0" stroke-width="1.0"/>
<polygon points="513.52,655.19 515.13,658.01 511.91,658.01" fill="none" stroke="#2b2bf0" stroke-width="1.0"/>
<polygon points="514.83,655.19 516.44,658.01 513.22,658.01" fill="none" stroke="#2b2bf0" stroke-width="1.0"/>
<polygon points="516.14,655.19 517.75,658.01 514.53,658.01" fill="none" stroke="#2b2bf0" stroke-width="1.0"/>
<polygon points="517.45,655.19 519.06,658.01 515.84,658.01" fill="none" stroke="#2b2bf0" stroke-width="1.0"/>
<polygon points="518.75,655.19 520.36,658.01 517.14,658.01" fill="none" stroke="#2b2bf0" stroke-width="1.0"/>
<polygon points="520.06,655.19 521.67,658.01 518.45,658.01" fill="none" stroke="#2b2bf0" stroke-width="1.0"/>
<polygon points="521.37,655.19 522.98,658.01 519.76,658.01" fill="none" stroke="#2b2bf0" stroke-width="1.0"/>
<polygon points="522.68,655.19 524.29,658.01 521.07,658.01" fill="none" stroke="#2b2bf0" stroke-width="1.0"/>
<polygon points="523.98,655.19 525.59,658.01 522.37,658.01" fill="none" stroke="#2b2bf0" stroke-width="1.0"/>
<polygon points="525.29,655.19 526.9,658.01 523.68,658.01" fill="none" stroke="#2b2bf0" stroke-width="1.0"/>
<polygon points="526.6,655.19 528.21,658.01 524.99,658.01" fill="none" stroke="#2b2bf0" stroke-width="1.0"/>
</svg>
</body></html>
